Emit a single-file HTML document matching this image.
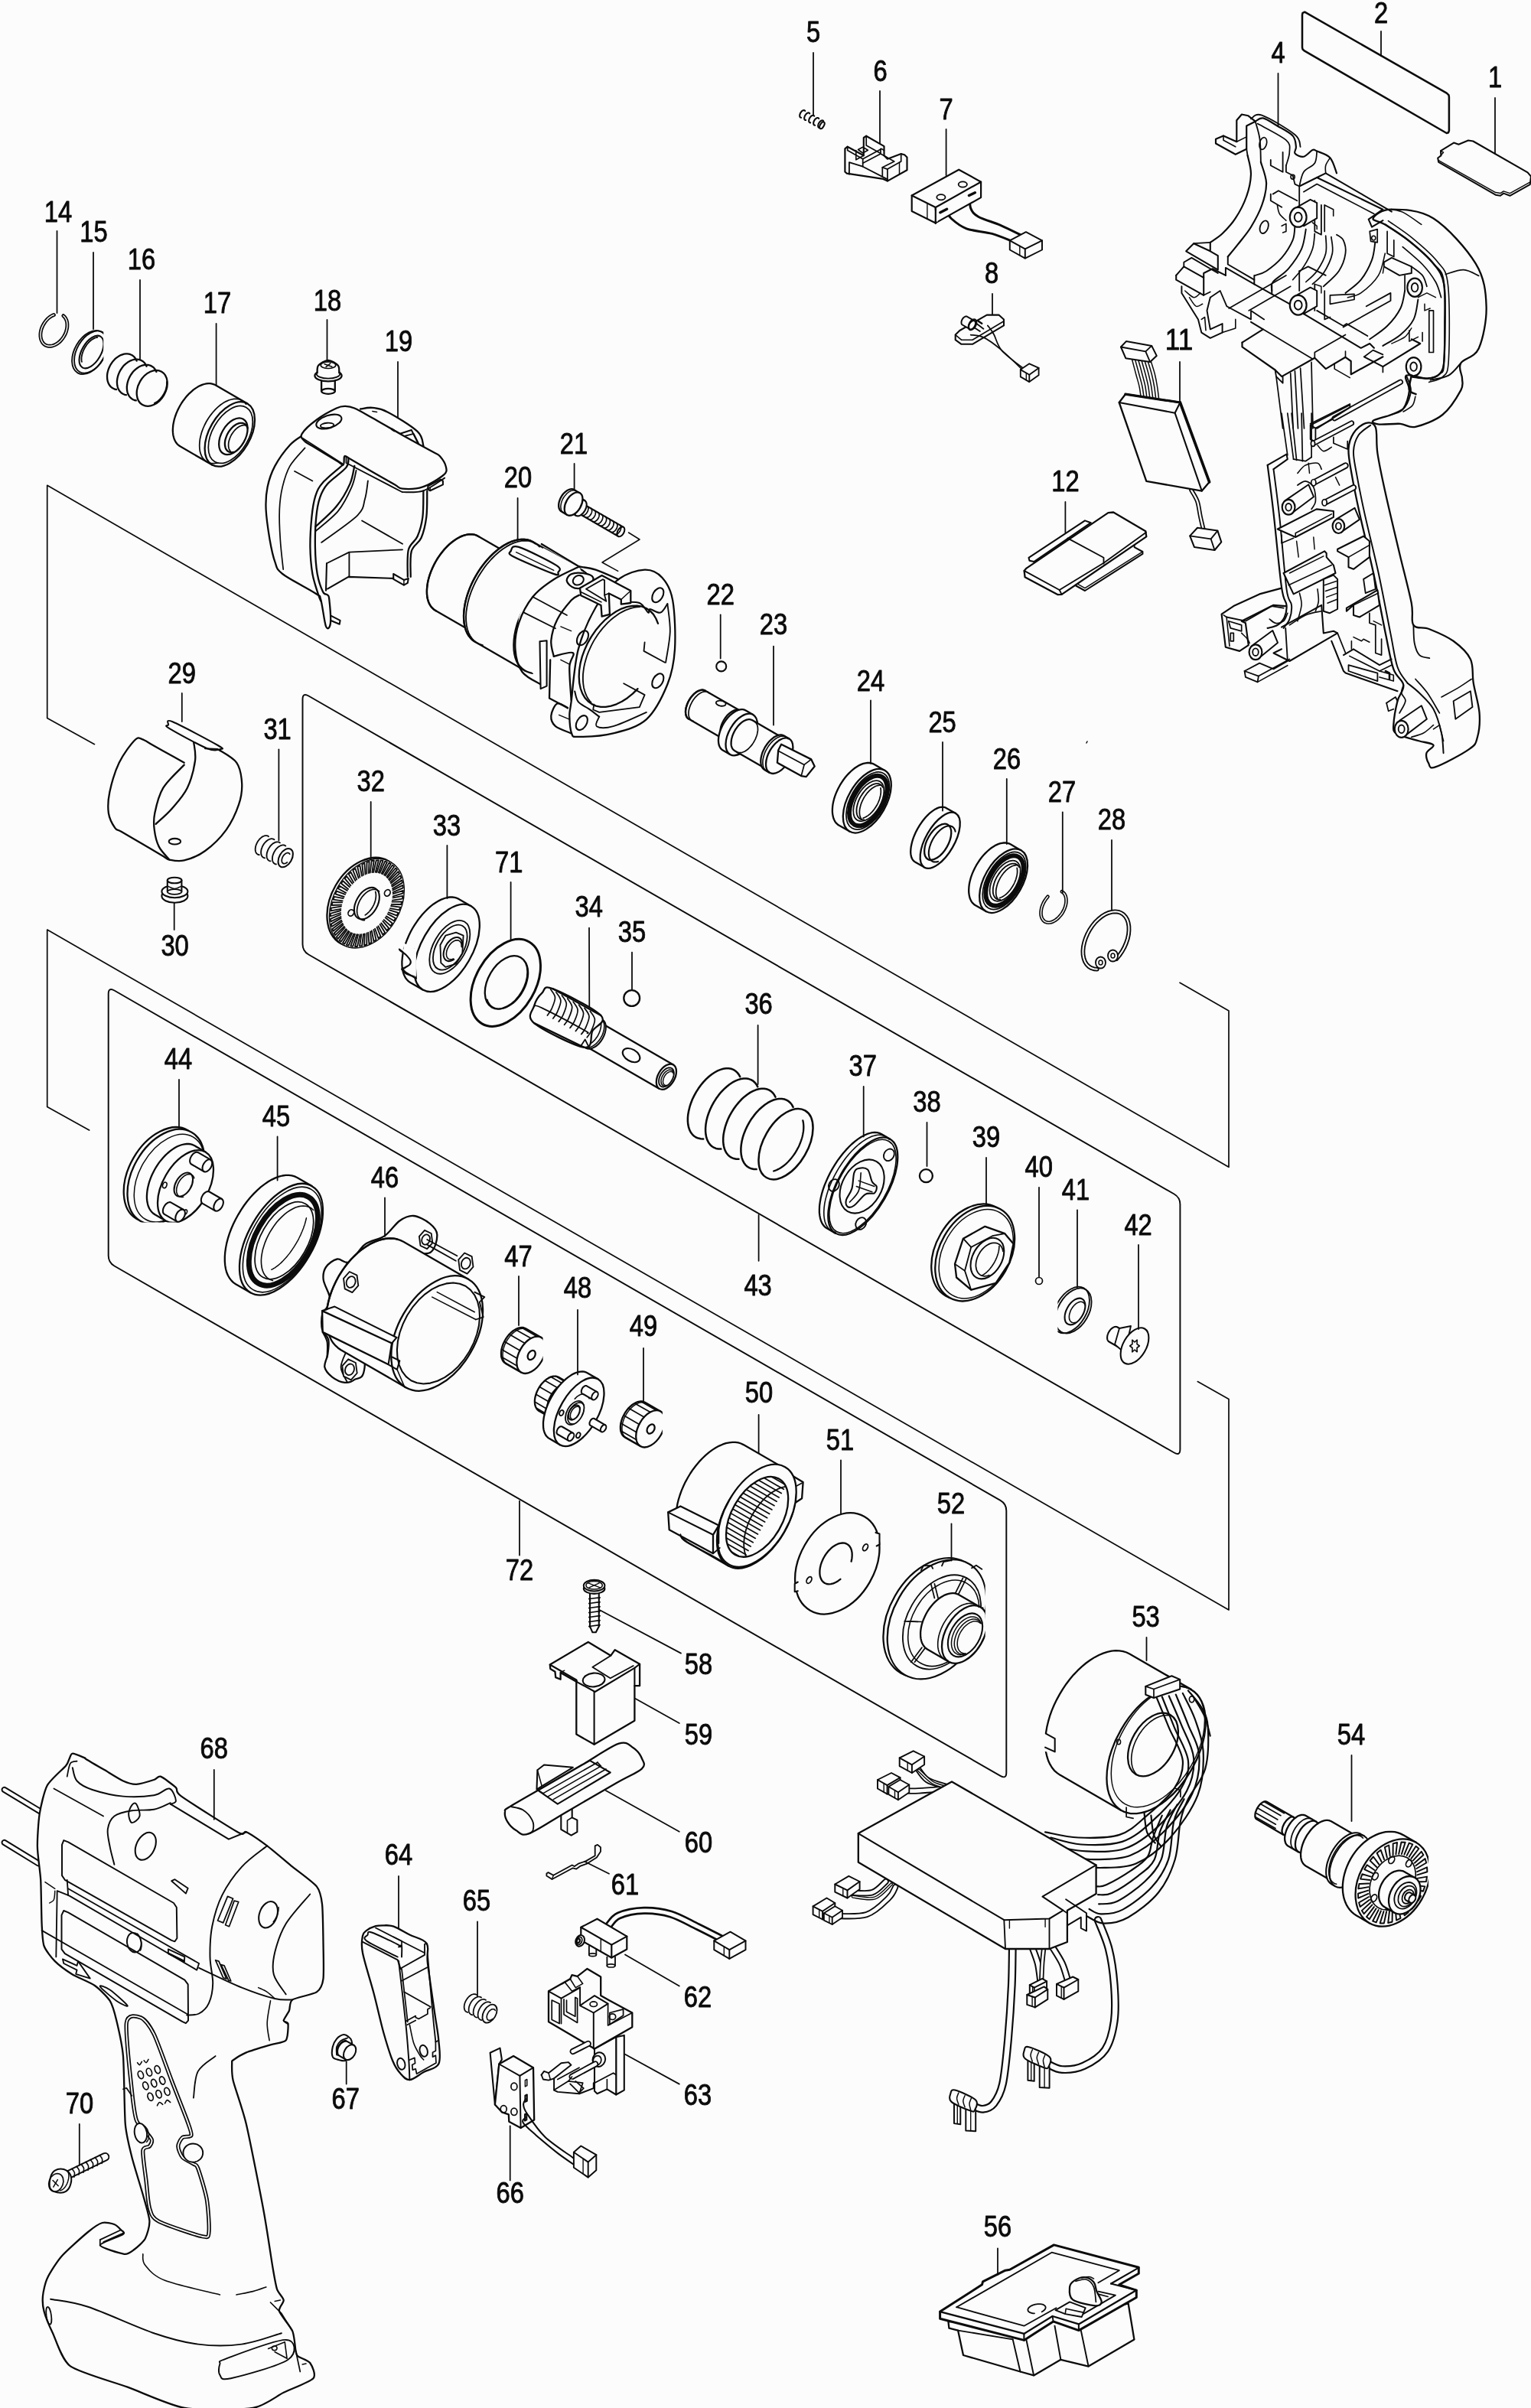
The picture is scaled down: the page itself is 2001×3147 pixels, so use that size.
<!DOCTYPE html>
<html><head><meta charset="utf-8"><title>Exploded parts diagram</title>
<style>
html,body{margin:0;padding:0;background:#fcfcfc;}
svg{display:block}
svg *{stroke:#0b0b0b;stroke-linecap:round;stroke-linejoin:round}
svg text{font-family:"Liberation Sans","DejaVu Sans",sans-serif;font-size:38.5px;fill:#0b0b0b;stroke:#0b0b0b;stroke-width:0.9px}
</style></head><body>
<svg width="2001" height="3147" viewBox="0 0 2001 3147">
<rect x="0" y="0" width="2001" height="3147" fill="#fcfcfc" style="stroke:none"/>
<path d="M123.5,972.7 L61.7,938.4 L61.7,634.3 L1606.0,1525.3 L1606.0,1321.0 L1542.0,1284.3" stroke-width="1.7249999999999999" fill="none" />
<path d="M116.6,1477.0 L61.7,1446.6 L61.7,1215.0 L1606.0,2104.0 L1606.0,1828.4 L1565.3,1805.6" stroke-width="1.7249999999999999" fill="none" />
<path d="M395.5,914 Q395.5,905 403.3,909.5 L1534.6,1560.5 Q1542.4,1565.0 1542.4,1574.0 L1542.4,1894.0 Q1542.4,1903.0 1534.6,1898.5 L403.3,1247.5 Q395.5,1243 395.5,1234 Z" stroke-width="1.9549999999999998" fill="none" />
<path d="M141.7,1299 Q141.7,1290 149.5,1294.5 L1307.5,1960.9 Q1315.3,1965.4 1315.3,1974.4 L1315.3,2316.4 Q1315.3,2325.4 1307.5,2320.9 L149.5,1654.5 Q141.7,1650 141.7,1641 Z" stroke-width="1.9549999999999998" fill="none" />
<path d="M821.5,696.0 L836.0,705.0 L787.0,735.0 L807.7,746.3" stroke-width="1.4949999999999999" fill="none" />
<line x1="1420.0" y1="971.0" x2="1421.0" y2="969.0" stroke-width="1.4949999999999999"/>
<clipPath id="c54"><rect x="1620" y="2330" width="247" height="200"/></clipPath>
<g clip-path="url(#c54)">
<path d="M1642.5,2377.6 L1642.0,2377.3 L1641.6,2376.9 L1641.2,2376.4 L1640.9,2375.8 L1640.7,2375.1 L1640.5,2374.4 L1640.4,2373.6 L1640.4,2372.8 L1640.4,2371.9 L1640.5,2371.0 L1640.6,2370.0 L1640.8,2369.0 L1641.1,2368.0 L1641.5,2367.0 L1641.9,2365.9 L1642.3,2364.9 L1642.8,2363.9 L1643.4,2362.8 L1644.0,2361.9 L1644.6,2360.9 L1645.3,2360.0 L1646.0,2359.1 L1646.7,2358.3 L1647.4,2357.6 L1648.2,2356.9 L1649.0,2356.3 L1649.7,2355.7 L1650.5,2355.3 L1651.2,2354.9 L1652.0,2354.6 L1652.7,2354.4 L1653.4,2354.3 L1654.0,2354.2 L1654.6,2354.3 L1655.2,2354.5 L1655.7,2354.7 L1690.8,2375.0 L1677.6,2397.9 Z" stroke-width="2.3" fill="#fcfcfc" />
<ellipse cx="1684.2" cy="2386.4" rx="6.6" ry="13.2" stroke-width="2.3" fill="#fcfcfc" transform="rotate(30 1684.2 2386.4)" />
<line x1="1640.5" y1="2374.4" x2="1667.0" y2="2389.6" stroke-width="1.7249999999999999"/>
<line x1="1640.8" y1="2369.0" x2="1667.3" y2="2384.2" stroke-width="1.7249999999999999"/>
<line x1="1643.4" y1="2362.8" x2="1669.8" y2="2378.0" stroke-width="1.7249999999999999"/>
<line x1="1647.4" y1="2357.6" x2="1673.9" y2="2372.7" stroke-width="1.7249999999999999"/>
<line x1="1652.0" y1="2354.6" x2="1678.4" y2="2369.7" stroke-width="1.7249999999999999"/>
<path d="M1683.5,2412.5 L1682.6,2411.8 L1681.8,2411.1 L1681.1,2410.2 L1680.4,2409.1 L1680.0,2407.9 L1679.6,2406.7 L1679.3,2405.3 L1679.2,2403.8 L1679.1,2402.2 L1679.2,2400.5 L1679.4,2398.8 L1679.8,2397.1 L1680.2,2395.3 L1680.8,2393.5 L1681.4,2391.7 L1682.2,2389.8 L1683.1,2388.1 L1684.0,2386.3 L1685.1,2384.6 L1686.2,2383.0 L1687.4,2381.4 L1688.6,2379.9 L1689.9,2378.5 L1691.2,2377.2 L1692.6,2376.1 L1694.0,2375.0 L1695.3,2374.1 L1696.7,2373.3 L1698.1,2372.7 L1699.4,2372.3 L1700.7,2371.9 L1702.0,2371.8 L1703.2,2371.8 L1704.3,2372.0 L1705.4,2372.3 L1706.4,2372.8 L1720.2,2380.7 L1697.2,2420.4 Z" stroke-width="2.3" fill="#fcfcfc" />
<ellipse cx="1708.7" cy="2400.5" rx="12.6" ry="22.9" stroke-width="2.3" fill="#fcfcfc" transform="rotate(30 1708.7 2400.5)" />
<path d="M1693.5,2417.7 L1692.3,2417.3 L1691.2,2416.7 L1690.2,2416.0 L1689.4,2415.1 L1688.6,2414.0 L1688.0,2412.8 L1687.6,2411.4 L1687.3,2409.8 L1687.1,2408.2 L1687.1,2406.4 L1687.2,2404.6 L1687.5,2402.7 L1687.9,2400.7 L1688.4,2398.7 L1689.1,2396.7 L1690.0,2394.7 L1690.9,2392.7 L1692.0,2390.7 L1693.1,2388.8 L1694.4,2387.0 L1695.7,2385.3 L1697.1,2383.7 L1698.6,2382.2 L1700.1,2380.8 L1701.6,2379.6 L1703.1,2378.6 L1704.7,2377.8 L1706.2,2377.1 L1707.7,2376.6 L1709.1,2376.3 L1710.5,2376.2 L1711.8,2376.3 L1713.0,2376.6 L1714.1,2377.0 L1715.2,2377.7 L1716.1,2378.6" stroke-width="1.7249999999999999" fill="none" />
<path d="M1706.4,2438.4 L1705.1,2437.5 L1703.9,2436.3 L1702.9,2435.0 L1702.0,2433.5 L1701.2,2431.8 L1700.7,2429.9 L1700.3,2427.9 L1700.1,2425.7 L1700.0,2423.4 L1700.2,2421.0 L1700.5,2418.5 L1701.0,2415.9 L1701.6,2413.3 L1702.4,2410.6 L1703.4,2408.0 L1704.5,2405.3 L1705.8,2402.7 L1707.2,2400.1 L1708.7,2397.7 L1710.4,2395.3 L1712.1,2393.0 L1713.9,2390.8 L1715.8,2388.7 L1717.7,2386.9 L1719.7,2385.2 L1721.7,2383.7 L1723.7,2382.3 L1725.7,2381.2 L1727.7,2380.3 L1729.7,2379.6 L1731.6,2379.2 L1733.5,2378.9 L1735.2,2378.9 L1736.9,2379.2 L1738.5,2379.7 L1739.9,2380.3 L1779.6,2403.3 L1746.1,2461.3 Z" stroke-width="2.3" fill="#fcfcfc" />
<ellipse cx="1762.9" cy="2432.3" rx="18.4" ry="33.5" stroke-width="2.3" fill="#fcfcfc" transform="rotate(30 1762.9 2432.3)" />
<path d="M1740.4,2462.5 L1738.9,2461.5 L1737.5,2460.2 L1736.3,2458.7 L1735.3,2456.9 L1734.5,2455.0 L1733.9,2452.9 L1733.4,2450.6 L1733.2,2448.1 L1733.2,2445.5 L1733.3,2442.8 L1733.7,2439.9 L1734.2,2437.0 L1734.9,2434.1 L1735.9,2431.1 L1737.0,2428.1 L1738.3,2425.1 L1739.7,2422.1 L1741.3,2419.2 L1743.0,2416.4 L1744.8,2413.7 L1746.8,2411.1 L1748.8,2408.6 L1751.0,2406.3 L1753.2,2404.2 L1755.4,2402.3 L1757.7,2400.6 L1760.0,2399.1 L1762.2,2397.8 L1764.5,2396.8 L1766.7,2396.0 L1768.9,2395.5 L1771.0,2395.2 L1773.0,2395.2 L1774.9,2395.5 L1776.6,2396.0 L1778.3,2396.8 L1782.9,2399.5 L1745.0,2465.1 Z" stroke-width="2.07" fill="#fcfcfc" />
<ellipse cx="1763.9" cy="2432.3" rx="20.9" ry="37.9" stroke-width="2.07" fill="#fcfcfc" transform="rotate(30 1763.9 2432.3)" />
<path d="M1746.6,2462.3 L1744.8,2461.7 L1743.1,2460.9 L1741.6,2459.7 L1740.3,2458.3 L1739.2,2456.7 L1738.2,2454.7 L1737.5,2452.6 L1737.0,2450.2 L1736.8,2447.7 L1736.7,2445.0 L1736.9,2442.2 L1737.4,2439.2 L1738.0,2436.2 L1738.9,2433.1 L1739.9,2430.0 L1741.2,2426.9 L1742.7,2423.8 L1744.3,2420.8 L1746.1,2417.9 L1748.0,2415.1 L1750.1,2412.5 L1752.2,2410.0 L1754.4,2407.7 L1756.7,2405.6 L1759.1,2403.8 L1761.4,2402.2 L1763.8,2400.9 L1766.1,2399.9 L1768.4,2399.1 L1770.6,2398.6 L1772.8,2398.5 L1774.8,2398.6 L1776.7,2399.1 L1778.4,2399.8 L1780.0,2400.8 L1781.4,2402.1" stroke-width="1.6099999999999999" fill="none" />
<path d="M1773.0,2503.5 L1769.8,2501.4 L1766.9,2498.9 L1764.2,2496.0 L1761.9,2492.8 L1759.8,2489.3 L1758.1,2485.5 L1756.7,2481.4 L1755.7,2477.1 L1755.1,2472.6 L1754.8,2467.9 L1754.9,2463.1 L1755.4,2458.2 L1756.2,2453.2 L1757.4,2448.3 L1758.9,2443.3 L1760.8,2438.4 L1763.0,2433.6 L1765.5,2428.9 L1768.3,2424.4 L1771.3,2420.1 L1774.6,2416.0 L1778.2,2412.2 L1781.9,2408.7 L1785.8,2405.5 L1789.8,2402.6 L1793.9,2400.2 L1798.1,2398.1 L1802.3,2396.4 L1806.6,2395.1 L1810.8,2394.2 L1815.0,2393.8 L1819.0,2393.8 L1823.0,2394.2 L1826.8,2395.1 L1830.4,2396.4 L1833.8,2398.1 L1850.6,2407.8 L1789.8,2513.2 Z" stroke-width="2.3" fill="#fcfcfc" />
<ellipse cx="1820.2" cy="2460.5" rx="43.8" ry="60.8" stroke-width="2.3" fill="#fcfcfc" transform="rotate(30 1820.2 2460.5)" />
<path d="M1846.4,2472.9 L1857.1,2477.9 L1853.7,2483.8 L1844.0,2477.0" stroke-width="1.9549999999999998" fill="none" />
<path d="M1841.2,2481.0 L1849.8,2489.4 L1845.5,2494.5 L1838.1,2484.6" stroke-width="1.9549999999999998" fill="none" />
<path d="M1834.8,2488.0 L1840.7,2499.2 L1835.8,2503.3 L1831.2,2490.9" stroke-width="1.9549999999999998" fill="none" />
<path d="M1827.5,2493.3 L1830.5,2506.8 L1825.1,2509.6 L1823.7,2495.3" stroke-width="1.9549999999999998" fill="none" />
<path d="M1819.8,2496.8 L1819.6,2511.7 L1814.2,2513.0 L1816.0,2497.8" stroke-width="1.9549999999999998" fill="none" />
<path d="M1812.1,2498.2 L1808.8,2513.6 L1803.7,2513.4 L1808.5,2498.0" stroke-width="1.9549999999999998" fill="none" />
<path d="M1804.9,2497.3 L1798.7,2512.4 L1794.1,2510.7 L1801.7,2496.1" stroke-width="1.9549999999999998" fill="none" />
<path d="M1798.6,2494.3 L1789.8,2508.2 L1786.0,2505.1 L1795.9,2492.1" stroke-width="1.9549999999999998" fill="none" />
<path d="M1793.5,2489.4 L1782.7,2501.2 L1779.9,2496.9 L1791.6,2486.3" stroke-width="1.9549999999999998" fill="none" />
<path d="M1790.0,2482.8 L1777.7,2491.9 L1776.1,2486.5 L1788.9,2479.0" stroke-width="1.9549999999999998" fill="none" />
<path d="M1788.3,2474.9 L1775.2,2480.7 L1775.0,2474.7 L1788.1,2470.6" stroke-width="1.9549999999999998" fill="none" />
<path d="M1788.4,2466.1 L1775.3,2468.4 L1776.4,2462.1 L1789.1,2461.6" stroke-width="1.9549999999999998" fill="none" />
<path d="M1790.3,2457.0 L1778.1,2455.6 L1780.4,2449.3 L1791.9,2452.6" stroke-width="1.9549999999999998" fill="none" />
<path d="M1794.0,2448.2 L1783.3,2443.1 L1786.7,2437.2 L1796.4,2444.0" stroke-width="1.9549999999999998" fill="none" />
<path d="M1799.2,2440.0 L1790.6,2431.6 L1794.9,2426.5 L1802.2,2436.4" stroke-width="1.9549999999999998" fill="none" />
<path d="M1805.6,2433.0 L1799.6,2421.8 L1804.6,2417.7 L1809.1,2430.2" stroke-width="1.9549999999999998" fill="none" />
<path d="M1812.9,2427.7 L1809.9,2414.2 L1815.2,2411.5 L1816.7,2425.7" stroke-width="1.9549999999999998" fill="none" />
<path d="M1820.6,2424.2 L1820.7,2409.4 L1826.1,2408.0 L1824.4,2423.3" stroke-width="1.9549999999999998" fill="none" />
<path d="M1828.2,2422.9 L1831.5,2407.5 L1836.7,2407.7 L1831.9,2423.0" stroke-width="1.9549999999999998" fill="none" />
<path d="M1835.4,2423.7 L1841.7,2408.6 L1846.3,2410.4 L1838.7,2424.9" stroke-width="1.9549999999999998" fill="none" />
<path d="M1841.7,2426.7 L1850.6,2412.8 L1854.4,2416.0 L1844.4,2428.9" stroke-width="1.9549999999999998" fill="none" />
<path d="M1846.8,2431.6 L1857.7,2419.8 L1860.4,2424.2 L1848.8,2434.7" stroke-width="1.9549999999999998" fill="none" />
<path d="M1850.3,2438.2 L1862.6,2429.1 L1864.2,2434.5 L1851.4,2442.0" stroke-width="1.9549999999999998" fill="none" />
<path d="M1852.1,2446.2 L1865.1,2440.3 L1865.4,2446.3 L1852.3,2450.4" stroke-width="1.9549999999999998" fill="none" />
<path d="M1852.0,2454.9 L1865.0,2452.6 L1864.0,2459.0 L1851.3,2459.4" stroke-width="1.9549999999999998" fill="none" />
<path d="M1850.1,2464.0 L1862.3,2465.4 L1860.0,2471.7 L1848.4,2468.4" stroke-width="1.9549999999999998" fill="none" />
<ellipse cx="1820.2" cy="2460.5" rx="27.2" ry="37.7" stroke-width="1.7249999999999999" fill="none" transform="rotate(30 1820.2 2460.5)" />
<ellipse cx="1838.9" cy="2475.9" rx="3.5" ry="5.0" stroke-width="1.7249999999999999" fill="none" transform="rotate(30 1838.9 2475.9)" />
<ellipse cx="1815.1" cy="2491.8" rx="3.5" ry="5.0" stroke-width="1.7249999999999999" fill="none" transform="rotate(30 1815.1 2491.8)" />
<ellipse cx="1795.7" cy="2480.6" rx="3.5" ry="5.0" stroke-width="1.7249999999999999" fill="none" transform="rotate(30 1795.7 2480.6)" />
<ellipse cx="1797.4" cy="2452.1" rx="3.5" ry="5.0" stroke-width="1.7249999999999999" fill="none" transform="rotate(30 1797.4 2452.1)" />
<ellipse cx="1818.8" cy="2430.8" rx="3.5" ry="5.0" stroke-width="1.7249999999999999" fill="none" transform="rotate(30 1818.8 2430.8)" />
<ellipse cx="1841.4" cy="2435.2" rx="3.5" ry="5.0" stroke-width="1.7249999999999999" fill="none" transform="rotate(30 1841.4 2435.2)" />
<ellipse cx="1845.6" cy="2461.5" rx="3.5" ry="5.0" stroke-width="1.7249999999999999" fill="none" transform="rotate(30 1845.6 2461.5)" />
<path d="M1809.6,2492.2 L1808.2,2491.3 L1807.0,2490.3 L1805.9,2489.1 L1804.9,2487.7 L1804.1,2486.2 L1803.3,2484.5 L1802.8,2482.8 L1802.4,2480.9 L1802.1,2479.0 L1802.0,2477.0 L1802.1,2474.9 L1802.3,2472.8 L1802.7,2470.6 L1803.2,2468.5 L1803.9,2466.3 L1804.7,2464.2 L1805.7,2462.1 L1806.8,2460.1 L1808.0,2458.1 L1809.3,2456.2 L1810.8,2454.5 L1812.3,2452.8 L1813.9,2451.3 L1815.5,2449.9 L1817.3,2448.6 L1819.0,2447.5 L1820.8,2446.6 L1822.6,2445.8 L1824.5,2445.3 L1826.3,2444.9 L1828.0,2444.7 L1829.8,2444.6 L1831.4,2444.8 L1833.1,2445.2 L1834.6,2445.7 L1836.0,2446.4 L1849.0,2453.9 L1822.6,2499.7 Z" stroke-width="2.3" fill="#fcfcfc" />
<ellipse cx="1835.8" cy="2476.8" rx="18.5" ry="26.5" stroke-width="2.3" fill="#fcfcfc" transform="rotate(30 1835.8 2476.8)" />
<ellipse cx="1836.9" cy="2477.3" rx="13.0" ry="18.5" stroke-width="1.8399999999999999" fill="none" transform="rotate(30 1836.9 2477.3)" />
<ellipse cx="1838.7" cy="2478.1" rx="10.1" ry="14.5" stroke-width="1.7249999999999999" fill="none" transform="rotate(30 1838.7 2478.1)" />
<ellipse cx="1840.1" cy="2478.7" rx="6.8" ry="9.7" stroke-width="1.8399999999999999" fill="none" transform="rotate(30 1840.1 2478.7)" />
<path d="M1837.6,2483.4 L1837.3,2483.2 L1837.1,2483.0 L1836.8,2482.7 L1836.6,2482.4 L1836.5,2482.1 L1836.3,2481.7 L1836.2,2481.4 L1836.1,2481.0 L1836.0,2480.6 L1836.0,2480.1 L1836.0,2479.7 L1836.1,2479.2 L1836.2,2478.8 L1836.3,2478.3 L1836.4,2477.9 L1836.6,2477.4 L1836.8,2477.0 L1837.0,2476.5 L1837.3,2476.1 L1837.6,2475.7 L1837.9,2475.3 L1838.2,2475.0 L1838.6,2474.6 L1838.9,2474.3 L1839.3,2474.1 L1839.7,2473.8 L1840.0,2473.6 L1840.4,2473.5 L1840.8,2473.4 L1841.2,2473.3 L1841.6,2473.2 L1841.9,2473.2 L1842.3,2473.3 L1842.6,2473.3 L1843.0,2473.5 L1843.3,2473.6 L1848.6,2476.7 L1843.0,2486.5 Z" stroke-width="2.07" fill="#fcfcfc" />
<ellipse cx="1845.8" cy="2481.6" rx="4.0" ry="5.6" stroke-width="2.07" fill="#fcfcfc" transform="rotate(30 1845.8 2481.6)" />
</g>
<path d="M1239.4,3033.9 L1240.4,3042.7 L1252.1,3045.6 L1259.0,3078.0 L1333.5,3099.5 L1351.1,3104.4 L1386.4,3083.8 L1422.6,3092.6 L1482.4,3057.4 L1474.6,3010.3 L1406.0,3028.0 L1327.6,3039.7 Z" stroke-width="2.3" fill="#fcfcfc" />
<line x1="1252.1" y1="3045.6" x2="1323.7" y2="3057.4" stroke-width="1.9549999999999998"/>
<line x1="1323.7" y1="3057.4" x2="1333.5" y2="3099.5" stroke-width="1.9549999999999998"/>
<line x1="1341.3" y1="3057.4" x2="1351.1" y2="3104.4" stroke-width="1.9549999999999998"/>
<line x1="1378.5" y1="3039.7" x2="1386.4" y2="3083.8" stroke-width="1.9549999999999998"/>
<line x1="1412.8" y1="3045.6" x2="1422.6" y2="3092.6" stroke-width="1.9549999999999998"/>
<path d="M1228.6,3021.1 L1283.5,2985.8 L1284.5,2981.9 L1313.9,2967.2 L1319.7,2966.3 L1377.5,2933.9 L1488.3,2963.3 L1488.3,2971.2 L1462.8,2985.8 L1485.3,2993.1 L1485.3,3002.5 L1409.9,3045.6 L1376.6,3033.9 L1338.4,3058.4 L1228.6,3030.3 Z" stroke-width="2.9899999999999998" fill="#fcfcfc" />
<path d="M1228.6,3021.1 L1338.4,3049.9 L1375.6,3027.0 L1409.9,3037.4 L1485.3,2993.1" stroke-width="2.3" fill="none" />
<line x1="1338.4" y1="3049.9" x2="1338.4" y2="3058.4" stroke-width="2.07"/>
<line x1="1409.9" y1="3037.4" x2="1409.9" y2="3045.6" stroke-width="2.07"/>
<line x1="1375.6" y1="3027.0" x2="1376.6" y2="3033.9" stroke-width="1.8399999999999999"/>
<path d="M1452.0,2984.5 L1488.3,2963.7" stroke-width="2.07" fill="none" />
<path d="M1452.0,2984.5 L1485.3,2993.1" stroke-width="2.07" fill="none" />
<path d="M1250.2,3015.2 L1374.6,2943.7 L1462.8,2967.2 L1435.4,2983.3" stroke-width="1.8399999999999999" fill="none" />
<path d="M1250.2,3015.2 L1338.4,3039.7 L1380.5,3016.2" stroke-width="1.8399999999999999" fill="none" />
<path d="M1379.5,3019.2 L1398.1,3008.4 L1418.7,3016.2 L1413.8,3028.0 L1392.2,3024.1 Z" stroke-width="1.9549999999999998" fill="none" />
<path d="M1392.2,3024.1 L1393.2,3017.2 L1415.8,3022.1" stroke-width="1.6099999999999999" fill="none" />
<path d="M1435.4,2994.7 L1457.9,2999.6 L1415.8,3024.1" stroke-width="1.8399999999999999" fill="none" />
<path d="M1433.4,2997.6 L1448.1,3001.5" stroke-width="1.6099999999999999" fill="none" />
<path d="M1398.1,2988.8 C1398.5,2984.6 1400.7,2982.7 1404.0,2980.6 C1407.3,2978.4 1413.5,2975.7 1417.7,2976.1 C1422.0,2976.4 1426.9,2979.4 1429.5,2982.5 C1432.1,2985.6 1431.7,2990.4 1433.4,2994.7 C1435.1,2999.0 1440.0,3005.3 1439.7,3008.4 C1439.3,3011.5 1437.7,3013.8 1431.4,3013.3 C1425.2,3012.8 1407.6,3009.5 1402.0,3005.4 C1396.5,3001.4 1397.8,2992.9 1398.1,2988.8 Z" stroke-width="2.3" fill="#fcfcfc" />
<path d="M1406.0,2981.3 C1408.2,2981.0 1415.8,2977.7 1419.7,2979.0 C1423.6,2980.2 1427.4,2983.9 1429.5,2988.8 C1431.6,2993.7 1431.9,3005.1 1432.4,3008.4" stroke-width="1.7249999999999999" fill="none" />
<path d="M1413.8,2977.0 C1415.4,2976.8 1421.0,2975.3 1423.6,2975.5 C1426.2,2975.6 1428.5,2977.6 1429.5,2978.0" stroke-width="1.6099999999999999" fill="none" />
<path d="M1352.0,3023.3 L1350.4,3023.3 L1348.8,3023.0 L1347.4,3022.7 L1346.2,3022.2 L1345.2,3021.6 L1344.3,3021.0 L1343.8,3020.2 L1343.5,3019.4 L1343.4,3018.5 L1343.6,3017.6 L1344.1,3016.6 L1344.8,3015.7 L1345.7,3014.9 L1346.9,3014.0 L1348.2,3013.3 L1349.7,3012.6 L1351.3,3012.1 L1353.0,3011.6 L1354.7,3011.3 L1356.5,3011.1 L1358.2,3011.1 L1359.8,3011.2 L1361.3,3011.4 L1362.7,3011.7 L1363.9,3012.2 L1365.0,3012.8 L1365.7,3013.5 L1366.3,3014.3 L1366.6,3015.1 L1366.6,3016.0 L1366.4,3016.9 L1365.9,3017.9 L1365.2,3018.8 L1364.2,3019.6 L1363.0,3020.5 L1361.7,3021.2" stroke-width="1.8399999999999999" fill="none" />
<path d="M1323.4,2535.3 C1323.2,2545.1 1323.2,2572.5 1322.3,2594.1 C1321.3,2615.6 1319.5,2643.0 1317.6,2664.6 C1315.6,2686.1 1313.6,2709.3 1310.5,2723.4 C1307.4,2737.5 1303.1,2743.7 1298.8,2749.2 C1294.4,2754.7 1289.3,2755.9 1284.6,2756.3 C1279.9,2756.7 1272.9,2752.4 1270.5,2751.6" stroke-width="10.82775" fill="none"/>
<path d="M1323.4,2535.3 C1323.2,2545.1 1323.2,2572.5 1322.3,2594.1 C1321.3,2615.6 1319.5,2643.0 1317.6,2664.6 C1315.6,2686.1 1313.6,2709.3 1310.5,2723.4 C1307.4,2737.5 1303.1,2743.7 1298.8,2749.2 C1294.4,2754.7 1289.3,2755.9 1284.6,2756.3 C1279.9,2756.7 1272.9,2752.4 1270.5,2751.6" stroke-width="6.46" fill="none" style="stroke:#fcfcfc"/>
<path d="M1435.1,2509.4 C1437.5,2515.7 1445.7,2532.9 1449.2,2547.0 C1452.8,2561.1 1455.1,2578.4 1456.3,2594.1 C1457.5,2609.7 1458.2,2627.0 1456.3,2641.1 C1454.3,2655.2 1451.2,2668.9 1444.5,2678.7 C1437.9,2688.5 1425.7,2695.5 1416.3,2699.9 C1406.9,2704.2 1395.9,2705.0 1388.1,2704.6 C1380.3,2704.2 1372.4,2698.7 1369.3,2697.5" stroke-width="10.82775" fill="none"/>
<path d="M1435.1,2509.4 C1437.5,2515.7 1445.7,2532.9 1449.2,2547.0 C1452.8,2561.1 1455.1,2578.4 1456.3,2594.1 C1457.5,2609.7 1458.2,2627.0 1456.3,2641.1 C1454.3,2655.2 1451.2,2668.9 1444.5,2678.7 C1437.9,2688.5 1425.7,2695.5 1416.3,2699.9 C1406.9,2704.2 1395.9,2705.0 1388.1,2704.6 C1380.3,2704.2 1372.4,2698.7 1369.3,2697.5" stroke-width="6.46" fill="none" style="stroke:#fcfcfc"/>
<path d="M1247.0,2748.1 L1247.0,2775.1 L1255.3,2776.3 L1255.3,2752.8" stroke-width="1.9549999999999998" fill="#fcfcfc" />
<path d="M1262.3,2755.1 L1262.3,2784.5 L1275.2,2785.2 L1275.2,2757.5" stroke-width="1.9549999999999998" fill="#fcfcfc" />
<line x1="1251.3" y1="2750.4" x2="1251.3" y2="2775.1" stroke-width="1.38"/>
<line x1="1268.7" y1="2757.5" x2="1268.7" y2="2784.7" stroke-width="1.38"/>
<path d="M1242.3,2736.3 C1243.1,2733.8 1242.7,2730.2 1248.2,2731.6 C1253.7,2733.0 1270.9,2740.2 1275.2,2744.5 C1279.6,2748.8 1275.2,2755.1 1274.1,2757.5 C1272.9,2759.8 1273.3,2760.4 1268.2,2758.6 C1263.1,2756.9 1247.8,2750.6 1243.5,2746.9 C1239.2,2743.2 1241.5,2738.9 1242.3,2736.3 Z" stroke-width="2.07" fill="#fcfcfc" />
<path d="M1252.9,2735.1 C1252.5,2736.3 1250.6,2739.6 1250.6,2742.2 C1250.6,2744.7 1252.5,2749.0 1252.9,2750.4" stroke-width="1.4949999999999999" fill="none" />
<path d="M1261.1,2738.7 C1260.7,2739.8 1258.8,2743.2 1258.8,2745.7 C1258.8,2748.3 1260.7,2752.6 1261.1,2753.9" stroke-width="1.4949999999999999" fill="none" />
<path d="M1269.4,2742.2 C1269.0,2743.4 1267.1,2746.7 1267.0,2749.2 C1266.9,2751.8 1268.4,2756.1 1268.7,2757.5" stroke-width="1.4949999999999999" fill="none" />
<path d="M1343.4,2691.6 L1343.4,2718.7 L1351.7,2719.8 L1351.7,2696.3" stroke-width="1.9549999999999998" fill="#fcfcfc" />
<path d="M1358.7,2698.7 L1358.7,2728.1 L1371.6,2728.8 L1371.6,2701.0" stroke-width="1.9549999999999998" fill="#fcfcfc" />
<line x1="1347.7" y1="2694.0" x2="1347.7" y2="2718.7" stroke-width="1.38"/>
<line x1="1365.1" y1="2701.0" x2="1365.1" y2="2728.3" stroke-width="1.38"/>
<path d="M1338.7,2679.9 C1339.5,2677.3 1339.1,2673.8 1344.6,2675.2 C1350.1,2676.5 1367.3,2683.8 1371.6,2688.1 C1376.0,2692.4 1371.6,2698.7 1370.5,2701.0 C1369.3,2703.4 1369.7,2704.0 1364.6,2702.2 C1359.5,2700.4 1344.2,2694.2 1339.9,2690.5 C1335.6,2686.7 1337.9,2682.4 1338.7,2679.9 Z" stroke-width="2.07" fill="#fcfcfc" />
<path d="M1349.3,2678.7 C1348.9,2679.9 1347.0,2683.2 1347.0,2685.8 C1347.0,2688.3 1348.9,2692.6 1349.3,2694.0" stroke-width="1.4949999999999999" fill="none" />
<path d="M1357.5,2682.2 C1357.1,2683.4 1355.2,2686.7 1355.2,2689.3 C1355.2,2691.8 1357.1,2696.1 1357.5,2697.5" stroke-width="1.4949999999999999" fill="none" />
<path d="M1365.8,2685.8 C1365.4,2686.9 1363.5,2690.3 1363.4,2692.8 C1363.3,2695.4 1364.8,2699.7 1365.1,2701.0" stroke-width="1.4949999999999999" fill="none" />
<path d="M1348.1,2542.3 C1349.5,2546.2 1354.4,2558.0 1356.4,2565.8 C1358.3,2573.7 1359.3,2585.4 1359.9,2589.3" stroke-width="9.29325" fill="none"/>
<path d="M1348.1,2542.3 C1349.5,2546.2 1354.4,2558.0 1356.4,2565.8 C1358.3,2573.7 1359.3,2585.4 1359.9,2589.3" stroke-width="5.38" fill="none" style="stroke:#fcfcfc"/>
<path d="M1364.6,2542.3 C1364.2,2546.2 1362.8,2558.0 1362.2,2565.8 C1361.7,2573.7 1361.3,2585.4 1361.1,2589.3" stroke-width="6.25875" fill="none"/>
<path d="M1364.6,2542.3 C1364.2,2546.2 1362.8,2558.0 1362.2,2565.8 C1361.7,2573.7 1361.3,2585.4 1361.1,2589.3" stroke-width="2.81" fill="none" style="stroke:#fcfcfc"/>
<path d="M1374.0,2542.3 C1376.3,2546.2 1384.6,2558.4 1388.1,2565.8 C1391.6,2573.3 1394.0,2583.5 1395.2,2587.0" stroke-width="9.29325" fill="none"/>
<path d="M1374.0,2542.3 C1376.3,2546.2 1384.6,2558.4 1388.1,2565.8 C1391.6,2573.3 1394.0,2583.5 1395.2,2587.0" stroke-width="5.38" fill="none" style="stroke:#fcfcfc"/>
<path d="M1345.8,2594.1 L1362.2,2585.8 L1368.1,2589.3 L1368.1,2601.1 L1351.7,2609.3 L1345.8,2605.8 Z" stroke-width="1.9549999999999998" fill="#fcfcfc" />
<path d="M1345.8,2594.1 L1351.7,2597.6 L1368.1,2589.3" stroke-width="1.9549999999999998" fill="none" />
<line x1="1351.7" y1="2597.6" x2="1351.7" y2="2609.3" stroke-width="1.9549999999999998"/>
<line x1="1349.6" y1="2596.3" x2="1349.6" y2="2608.1" stroke-width="1.38"/>
<path d="M1342.3,2607.0 L1364.6,2596.4 L1369.3,2599.9 L1369.3,2612.9 L1352.8,2623.4 L1342.3,2619.9 Z" stroke-width="1.9549999999999998" fill="#fcfcfc" />
<path d="M1342.3,2607.0 L1352.8,2610.5 L1369.3,2599.9" stroke-width="1.9549999999999998" fill="none" />
<line x1="1352.8" y1="2610.5" x2="1352.8" y2="2623.4" stroke-width="1.9549999999999998"/>
<line x1="1349.1" y1="2609.3" x2="1349.1" y2="2622.2" stroke-width="1.38"/>
<path d="M1381.0,2592.9 L1402.2,2583.5 L1409.3,2587.0 L1409.3,2602.3 L1390.5,2612.9 L1381.0,2608.2 Z" stroke-width="1.9549999999999998" fill="#fcfcfc" />
<path d="M1381.0,2592.9 L1390.5,2597.6 L1409.3,2587.0" stroke-width="1.9549999999999998" fill="none" />
<line x1="1390.5" y1="2597.6" x2="1390.5" y2="2612.9" stroke-width="1.9549999999999998"/>
<line x1="1387.2" y1="2595.9" x2="1387.2" y2="2611.2" stroke-width="1.38"/>
<path d="M1385.2,2319.6 L1381.4,2316.9 L1377.9,2313.8 L1374.9,2310.0 L1372.3,2305.7 L1370.1,2301.0 L1368.4,2295.7 L1367.1,2290.1 L1366.4,2284.1 L1366.1,2277.7 L1366.4,2271.1 L1367.1,2264.2 L1368.3,2257.1 L1370.0,2249.9 L1372.1,2242.7 L1374.7,2235.4 L1377.7,2228.2 L1381.2,2221.1 L1385.0,2214.1 L1389.1,2207.3 L1393.6,2200.7 L1398.3,2194.5 L1403.3,2188.6 L1408.5,2183.2 L1413.9,2178.1 L1419.4,2173.5 L1425.0,2169.5 L1430.7,2165.9 L1436.3,2163.0 L1441.9,2160.6 L1447.4,2158.9 L1452.8,2157.7 L1458.0,2157.2 L1463.0,2157.4 L1467.8,2158.1 L1472.3,2159.5 L1476.4,2161.5 L1556.7,2207.8 L1465.4,2365.9 Z" stroke-width="2.3" fill="#fcfcfc" />
<ellipse cx="1511.1" cy="2286.9" rx="52.9" ry="91.2" stroke-width="2.3" fill="#fcfcfc" transform="rotate(30 1511.1 2286.9)" />
<path d="M1362.5,2265.0 L1380.5,2268.6 L1380.5,2291.9 L1362.5,2288.3 Z" fill="#fcfcfc" style="stroke:none"/>
<path d="M1366.9,2265.7 L1378.7,2272.1 L1378.7,2289.4 L1366.1,2283.6" stroke-width="2.07" fill="none" />
<ellipse cx="1513.4" cy="2282.9" rx="50.0" ry="86.2" stroke-width="1.4949999999999999" fill="none" transform="rotate(30 1513.4 2282.9)" />
<ellipse cx="1507.0" cy="2280.0" rx="27.8" ry="44.9" stroke-width="2.3" fill="none" transform="rotate(30 1507.0 2280.0)" />
<path d="M1485.3,2318.8 L1483.9,2317.1 L1482.6,2315.2 L1481.5,2313.1 L1480.5,2310.8 L1479.8,2308.4 L1479.2,2305.8 L1478.9,2303.1 L1478.7,2300.2 L1478.7,2297.3 L1479.0,2294.2 L1479.4,2291.1 L1480.0,2287.9 L1480.8,2284.7 L1481.8,2281.5 L1483.0,2278.3 L1484.3,2275.2 L1485.9,2272.1 L1487.5,2269.0 L1489.3,2266.0 L1491.3,2263.2 L1493.3,2260.4 L1495.5,2257.8 L1497.8,2255.3 L1500.2,2253.0 L1502.6,2250.9 L1505.1,2249.0 L1507.6,2247.3 L1510.1,2245.8 L1512.7,2244.5 L1515.2,2243.4 L1517.8,2242.6 L1520.3,2242.0 L1522.7,2241.7 L1525.1,2241.6 L1527.4,2241.8 L1529.6,2242.2" stroke-width="1.6099999999999999" fill="none" />
<ellipse cx="1462.1" cy="2276.5" rx="2.5" ry="3.2" stroke-width="1.4949999999999999" fill="none" />
<ellipse cx="1557.6" cy="2220.8" rx="3.2" ry="4.0" stroke-width="1.7249999999999999" fill="none" />
<path d="M1197.3,2308.1 C1199.7,2311.1 1205.1,2321.5 1211.7,2326.0 C1218.2,2330.5 1232.6,2333.5 1236.8,2335.0" stroke-width="8.276" fill="none"/>
<path d="M1197.3,2308.1 C1199.7,2311.1 1205.1,2321.5 1211.7,2326.0 C1218.2,2330.5 1232.6,2333.5 1236.8,2335.0" stroke-width="4.60" fill="none" style="stroke:#fcfcfc"/>
<path d="M1175.7,2340.4 C1179.9,2340.4 1190.7,2340.9 1200.9,2340.4 C1211.1,2339.9 1230.8,2338.0 1236.8,2337.5" stroke-width="8.276" fill="none"/>
<path d="M1175.7,2340.4 C1179.9,2340.4 1190.7,2340.9 1200.9,2340.4 C1211.1,2339.9 1230.8,2338.0 1236.8,2337.5" stroke-width="4.60" fill="none" style="stroke:#fcfcfc"/>
<path d="M1200.9,2313.5 C1203.9,2316.2 1212.3,2325.7 1218.8,2329.6 C1225.4,2333.5 1236.8,2335.6 1240.4,2336.8" stroke-width="4.207" fill="none"/>
<path d="M1200.9,2313.5 C1203.9,2316.2 1212.3,2325.7 1218.8,2329.6 C1225.4,2333.5 1236.8,2335.6 1240.4,2336.8" stroke-width="1.45" fill="none" style="stroke:#fcfcfc"/>
<path d="M1175.7,2297.3 L1193.7,2288.3 L1208.1,2295.5 L1208.1,2306.3 L1191.9,2317.0 L1175.7,2308.1 Z" stroke-width="1.9549999999999998" fill="#fcfcfc" />
<path d="M1175.7,2297.3 L1191.9,2306.3 L1208.1,2295.5" stroke-width="1.9549999999999998" fill="none" />
<line x1="1191.9" y1="2306.3" x2="1191.9" y2="2317.0" stroke-width="1.9549999999999998"/>
<line x1="1186.2" y1="2303.1" x2="1186.2" y2="2313.9" stroke-width="1.38"/>
<path d="M1147.0,2326.0 L1165.0,2317.0 L1176.5,2323.2 L1176.5,2334.7 L1159.6,2344.7 L1147.0,2337.5 Z" stroke-width="1.9549999999999998" fill="#fcfcfc" />
<path d="M1147.0,2326.0 L1159.6,2333.2 L1176.5,2323.2" stroke-width="1.9549999999999998" fill="none" />
<line x1="1159.6" y1="2333.2" x2="1159.6" y2="2344.7" stroke-width="1.9549999999999998"/>
<line x1="1155.2" y1="2330.7" x2="1155.2" y2="2342.2" stroke-width="1.38"/>
<path d="M1161.4,2335.0 L1176.5,2326.0 L1188.3,2332.5 L1188.3,2342.6 L1173.9,2352.3 L1161.4,2345.1 Z" stroke-width="1.8399999999999999" fill="#fcfcfc" />
<path d="M1161.4,2335.0 L1173.9,2342.2 L1188.3,2332.5" stroke-width="1.8399999999999999" fill="none" />
<line x1="1173.9" y1="2342.2" x2="1173.9" y2="2352.3" stroke-width="1.8399999999999999"/>
<line x1="1169.5" y1="2339.7" x2="1169.5" y2="2349.7" stroke-width="1.38"/>
<path d="M1111.1,2473.3 C1115.9,2473.3 1132.0,2475.7 1139.8,2473.3 C1147.6,2470.9 1154.8,2461.3 1157.8,2459.0" stroke-width="8.276" fill="none"/>
<path d="M1111.1,2473.3 C1115.9,2473.3 1132.0,2475.7 1139.8,2473.3 C1147.6,2470.9 1154.8,2461.3 1157.8,2459.0" stroke-width="4.60" fill="none" style="stroke:#fcfcfc"/>
<path d="M1089.5,2503.9 C1096.7,2503.6 1120.7,2506.0 1132.6,2502.1 C1144.6,2498.2 1155.1,2486.5 1161.4,2480.5 C1167.7,2474.5 1168.9,2468.5 1170.3,2466.1" stroke-width="8.276" fill="none"/>
<path d="M1089.5,2503.9 C1096.7,2503.6 1120.7,2506.0 1132.6,2502.1 C1144.6,2498.2 1155.1,2486.5 1161.4,2480.5 C1167.7,2474.5 1168.9,2468.5 1170.3,2466.1" stroke-width="4.60" fill="none" style="stroke:#fcfcfc"/>
<path d="M1114.7,2478.7 C1119.5,2479.0 1135.0,2483.2 1143.4,2480.5 C1151.8,2477.8 1161.4,2465.5 1165.0,2462.5" stroke-width="4.207" fill="none"/>
<path d="M1114.7,2478.7 C1119.5,2479.0 1135.0,2483.2 1143.4,2480.5 C1151.8,2477.8 1161.4,2465.5 1165.0,2462.5" stroke-width="1.45" fill="none" style="stroke:#fcfcfc"/>
<path d="M1091.3,2462.5 L1109.3,2451.8 L1123.6,2459.0 L1123.6,2469.0 L1107.5,2480.5 L1091.3,2472.6 Z" stroke-width="1.9549999999999998" fill="#fcfcfc" />
<path d="M1091.3,2462.5 L1107.5,2470.4 L1123.6,2459.0" stroke-width="1.9549999999999998" fill="none" />
<line x1="1107.5" y1="2470.4" x2="1107.5" y2="2480.5" stroke-width="1.9549999999999998"/>
<line x1="1101.8" y1="2467.7" x2="1101.8" y2="2477.7" stroke-width="1.38"/>
<path d="M1062.6,2491.3 L1080.5,2480.5 L1091.3,2487.0 L1091.3,2497.8 L1075.1,2508.5 L1062.6,2502.1 Z" stroke-width="1.9549999999999998" fill="#fcfcfc" />
<path d="M1062.6,2491.3 L1075.1,2497.8 L1091.3,2487.0" stroke-width="1.9549999999999998" fill="none" />
<line x1="1075.1" y1="2497.8" x2="1075.1" y2="2508.5" stroke-width="1.9549999999999998"/>
<line x1="1070.7" y1="2495.5" x2="1070.7" y2="2506.3" stroke-width="1.38"/>
<path d="M1076.9,2500.3 L1091.3,2491.3 L1101.0,2496.7 L1101.0,2506.0 L1087.7,2515.0 L1076.9,2509.6 Z" stroke-width="1.8399999999999999" fill="#fcfcfc" />
<path d="M1076.9,2500.3 L1087.7,2505.7 L1101.0,2496.7" stroke-width="1.8399999999999999" fill="none" />
<line x1="1087.7" y1="2505.7" x2="1087.7" y2="2515.0" stroke-width="1.8399999999999999"/>
<line x1="1083.9" y1="2503.8" x2="1083.9" y2="2513.1" stroke-width="1.38"/>
<path d="M1511.6,2218.3 C1514.3,2224.8 1522.1,2244.0 1527.8,2257.8 C1533.5,2271.5 1544.6,2287.7 1545.8,2300.9 C1547.0,2314.1 1542.8,2324.8 1535.0,2336.8 C1527.2,2348.8 1511.0,2362.6 1499.1,2372.7 C1487.1,2382.9 1478.1,2393.1 1463.1,2397.9 C1448.2,2402.7 1425.4,2402.1 1409.2,2401.5 C1393.1,2400.9 1373.3,2395.5 1366.1,2394.3" stroke-width="2.1849999999999996" fill="none" />
<path d="M1518.8,2217.5 C1521.5,2224.2 1529.3,2243.9 1535.0,2257.8 C1540.7,2271.7 1551.4,2287.7 1552.9,2300.9 C1554.4,2314.1 1551.7,2323.6 1544.0,2336.8 C1536.2,2350.0 1519.1,2368.2 1506.2,2379.9 C1493.4,2391.6 1482.3,2401.8 1466.7,2406.9 C1451.2,2412.0 1428.4,2411.4 1412.8,2410.5 C1397.3,2409.6 1379.9,2403.0 1373.3,2401.5" stroke-width="2.1849999999999996" fill="none" />
<path d="M1527.8,2216.5 C1530.5,2222.7 1538.6,2240.7 1544.0,2254.2 C1549.4,2267.7 1558.9,2282.9 1560.1,2297.3 C1561.3,2311.7 1558.9,2325.4 1551.1,2340.4 C1543.4,2355.4 1526.9,2374.5 1513.4,2387.1 C1500.0,2399.7 1485.9,2410.5 1470.3,2415.8 C1454.8,2421.2 1434.4,2419.7 1420.0,2419.4 C1405.7,2419.1 1390.1,2414.9 1384.1,2414.0" stroke-width="2.1849999999999996" fill="none" />
<path d="M1536.8,2214.7 C1539.5,2221.3 1547.9,2241.0 1552.9,2254.2 C1558.0,2267.4 1566.4,2278.7 1567.3,2293.7 C1568.2,2308.7 1566.1,2327.2 1558.3,2344.0 C1550.6,2360.8 1534.1,2380.8 1520.6,2394.3 C1507.1,2407.8 1492.5,2418.8 1477.5,2424.8 C1462.5,2430.8 1443.4,2429.9 1430.8,2430.2 C1418.2,2430.5 1406.9,2427.2 1402.1,2426.6" stroke-width="2.1849999999999996" fill="none" />
<path d="M1545.8,2212.9 C1548.5,2218.6 1557.4,2234.1 1561.9,2247.0 C1566.4,2259.9 1572.1,2273.6 1572.7,2290.1 C1573.3,2306.6 1572.7,2327.2 1565.5,2345.8 C1558.3,2364.4 1543.1,2386.5 1529.6,2401.5 C1516.1,2416.4 1500.0,2429.0 1484.7,2435.6 C1469.4,2442.2 1448.2,2440.7 1438.0,2441.0 C1427.8,2441.3 1426.0,2438.0 1423.6,2437.4" stroke-width="2.1849999999999996" fill="none" />
<path d="M1552.9,2209.3 C1555.9,2213.2 1566.6,2224.5 1570.9,2232.6 C1575.2,2240.7 1578.1,2244.6 1578.8,2257.8 C1579.5,2270.9 1579.5,2296.1 1575.2,2311.7 C1570.9,2327.2 1558.3,2339.8 1552.9,2351.2 C1547.6,2362.6 1545.8,2366.7 1542.9,2379.9 C1540.0,2393.1 1540.5,2414.6 1535.7,2430.2 C1530.9,2445.8 1524.3,2460.7 1514.1,2473.3 C1504.0,2485.9 1486.6,2498.9 1474.6,2505.7 C1462.7,2512.4 1451.4,2513.9 1442.3,2513.6 C1433.2,2513.3 1423.7,2505.5 1420.0,2503.9" stroke-width="2.1849999999999996" fill="none" />
<path d="M1547.6,2351.2 C1545.3,2356.0 1537.7,2366.7 1534.3,2379.9 C1530.9,2393.1 1531.9,2415.8 1527.1,2430.2 C1522.3,2444.6 1515.5,2455.2 1505.5,2466.1 C1495.6,2477.0 1478.6,2489.7 1467.4,2495.6 C1456.3,2501.5 1446.0,2501.5 1438.7,2501.3 C1431.4,2501.2 1426.1,2496.0 1423.6,2494.9" stroke-width="2.1849999999999996" fill="none" />
<path d="M1538.6,2358.4 C1536.3,2363.2 1528.4,2375.1 1524.9,2387.1 C1521.5,2399.1 1522.5,2418.2 1517.7,2430.2 C1512.9,2442.2 1505.8,2449.9 1496.2,2459.0 C1486.6,2468.1 1470.3,2479.9 1460.3,2484.8 C1450.3,2489.7 1440.2,2487.8 1436.2,2488.4" stroke-width="2.1849999999999996" fill="none" />
<path d="M1529.6,2365.5 C1527.3,2370.3 1519.4,2383.5 1515.9,2394.3 C1512.5,2405.1 1513.5,2420.6 1508.8,2430.2 C1504.0,2439.8 1496.5,2444.5 1487.2,2451.8 C1477.9,2459.1 1461.8,2470.0 1453.1,2474.0 C1444.4,2478.1 1438.1,2475.8 1435.1,2476.2" stroke-width="2.1849999999999996" fill="none" />
<path d="M1518.8,2372.7 C1516.8,2377.5 1510.1,2392.5 1507.0,2401.5 C1503.8,2410.5 1504.6,2419.4 1499.8,2426.6 C1495.0,2433.8 1487.2,2438.5 1478.2,2444.6 C1469.2,2450.7 1453.3,2459.8 1445.9,2463.3 C1438.5,2466.7 1435.7,2465.1 1433.7,2465.4" stroke-width="2.1849999999999996" fill="none" />
<path d="M1560.1,2218.3 C1562.5,2222.4 1570.9,2235.0 1574.5,2243.4 C1578.1,2251.8 1580.5,2264.4 1581.7,2268.6" stroke-width="2.1849999999999996" fill="none" />
<path d="M1495.5,2369.1 C1496.1,2373.3 1496.7,2387.7 1499.1,2394.3 C1501.5,2400.9 1508.0,2406.3 1509.8,2408.7" stroke-width="2.1849999999999996" fill="none" />
<path d="M1504.4,2372.7 C1505.0,2376.9 1505.9,2391.3 1508.0,2397.9 C1510.1,2404.5 1515.5,2409.9 1517.0,2412.3" stroke-width="2.1849999999999996" fill="none" />
<path d="M1497.3,2203.9 L1531.4,2190.2 L1542.2,2194.9 L1542.2,2207.5 L1508.0,2219.0 L1497.3,2214.7 Z" stroke-width="2.07" fill="#fcfcfc" />
<path d="M1497.3,2203.9 L1508.0,2207.5 L1542.2,2194.9" stroke-width="1.7249999999999999" fill="none" />
<line x1="1508.0" y1="2207.5" x2="1508.0" y2="2219.0" stroke-width="1.7249999999999999"/>
<path d="M1472.1,2362.0 L1472.1,2374.5 L1481.1,2376.3" stroke-width="1.7249999999999999" fill="none" />
<path d="M1535.0,2336.8 L1542.9,2339.7 L1542.9,2348.3" stroke-width="1.7249999999999999" fill="none" />
<path d="M1121.8,2396.1 L1244.0,2328.5 L1432.6,2437.4 L1432.6,2475.1 L1394.9,2496.7 L1394.9,2538.0 L1371.5,2547.0 L1314.0,2547.0 L1121.8,2433.8 Z" stroke-width="2.3" fill="#fcfcfc" />
<path d="M1121.8,2396.1 L1312.3,2509.2 L1371.5,2507.5 L1389.5,2496.7 L1362.5,2478.7 L1432.6,2437.4" stroke-width="2.07" fill="none" />
<line x1="1312.3" y1="2509.2" x2="1314.0" y2="2547.0" stroke-width="1.8399999999999999"/>
<line x1="1371.5" y1="2507.5" x2="1371.5" y2="2547.0" stroke-width="1.8399999999999999"/>
<path d="M1389.5,2496.7 L1394.9,2500.3" stroke-width="1.7249999999999999" fill="none" />
<path d="M1393.1,2482.3 L1420.0,2500.3 L1420.0,2523.6 L1412.8,2520.0 L1412.8,2505.7 L1394.9,2516.4" stroke-width="1.9549999999999998" fill="none" />
<line x1="1319.4" y1="2509.2" x2="1319.4" y2="2520.0" stroke-width="1.38"/>
<line x1="1366.1" y1="2508.5" x2="1366.1" y2="2518.2" stroke-width="1.38"/>
<path d="M1797.8,558.3 C1800.4,564.8 1798.2,577.9 1800.4,592.3 C1802.5,606.6 1806.0,622.7 1810.8,644.5 C1815.6,666.3 1823.4,698.9 1829.1,722.9 C1834.8,746.8 1841.7,772.5 1844.8,788.2 C1847.8,803.9 1843.5,811.3 1847.4,816.9 C1851.3,822.6 1859.6,818.7 1868.3,822.2 C1877.0,825.7 1890.7,831.3 1899.6,837.8 C1908.6,844.4 1917.5,852.2 1921.9,861.4 C1926.2,870.5 1923.8,881.0 1925.8,892.7 C1927.7,904.5 1932.7,920.1 1933.6,931.9 C1934.5,943.7 1933.2,955.4 1931.0,963.3 C1928.8,971.1 1929.7,972.4 1920.5,978.9 C1911.4,985.5 1885.1,999.4 1876.1,1002.4 C1867.2,1005.5 1868.9,1000.3 1867.0,997.2 C1865.0,994.2 1863.3,988.1 1864.4,984.2 C1865.5,980.2 1875.0,976.3 1873.5,973.7 C1872.0,971.1 1861.3,970.2 1855.2,968.5 C1849.1,966.7 1842.2,965.0 1836.9,963.3 C1831.7,961.5 1826.5,960.6 1823.9,958.0 C1821.3,955.4 1820.8,954.5 1821.3,947.6 C1821.7,940.6 1824.3,924.9 1826.5,916.2 C1828.7,907.5 1835.2,902.3 1834.3,895.3 C1833.5,888.4 1825.2,885.7 1821.3,874.4 C1817.3,863.1 1815.2,848.3 1810.8,827.4 C1806.5,806.5 1800.8,775.1 1795.1,749.0 C1789.5,722.9 1781.6,692.4 1776.9,670.6 C1772.1,648.9 1768.8,632.3 1766.4,618.4 C1764.0,604.4 1762.0,595.7 1762.5,587.0 C1762.9,578.3 1765.3,571.8 1769.0,566.1 C1772.7,560.5 1779.9,554.4 1784.7,553.1 C1789.5,551.8 1795.1,551.8 1797.8,558.3 Z" stroke-width="2.3" fill="#fcfcfc" />
<path d="M1791.2,555.7 C1788.6,557.9 1779.2,563.1 1775.5,568.7 C1771.8,574.4 1769.4,581.4 1769.0,589.6 C1768.6,597.9 1770.5,604.9 1772.9,618.4 C1775.3,631.9 1778.6,648.9 1783.4,670.6 C1788.2,692.4 1796.0,722.9 1801.7,749.0 C1807.3,775.1 1813.2,806.9 1817.3,827.4 C1821.5,847.9 1822.8,860.9 1826.5,871.8 C1830.2,882.7 1837.4,889.2 1839.6,892.7" stroke-width="1.9549999999999998" fill="none" />
<path d="M1847.4,816.9 C1847.6,820.9 1847.4,833.9 1848.7,840.5 C1850.0,847.0 1852.0,852.9 1855.2,856.1 C1858.5,859.4 1866.1,859.4 1868.3,860.1" stroke-width="1.8399999999999999" fill="none" />
<path d="M1839.6,892.7 C1842.2,894.9 1849.6,900.1 1855.2,905.8 C1860.9,911.4 1868.7,918.0 1873.5,926.7 C1878.3,935.4 1881.8,948.4 1884.0,958.0 C1886.1,967.6 1886.1,979.8 1886.6,984.2" stroke-width="1.9549999999999998" fill="none" />
<path d="M1850.0,887.5 C1852.6,890.5 1860.5,898.4 1865.7,905.8 C1870.9,913.2 1878.7,927.5 1881.4,931.9" stroke-width="1.7249999999999999" fill="none" />
<path d="M1834.3,895.3 C1833.9,897.1 1831.3,902.3 1831.7,905.8 C1832.2,909.3 1837.4,911.9 1836.9,916.2 C1836.5,920.6 1830.4,929.3 1829.1,931.9" stroke-width="1.7249999999999999" fill="none" />
<path d="M1899.6,916.2 L1921.9,903.2 L1924.5,924.1 L1902.3,939.7 Z" stroke-width="1.8399999999999999" fill="none" />
<path d="M1884.0,911.0 C1887.9,908.8 1901.0,901.9 1907.5,897.9 C1914.0,894.0 1920.5,889.2 1923.2,887.5" stroke-width="1.6099999999999999" fill="none" />
<path d="M1873.5,952.8 L1881.4,947.6 L1886.6,968.5" stroke-width="1.6099999999999999" fill="none" />
<path d="M1844.8,963.3 C1847.4,962.4 1855.7,960.6 1860.5,958.0 C1865.2,955.4 1871.3,949.3 1873.5,947.6" stroke-width="1.6099999999999999" fill="none" />
<path d="M1829.1,941.8 L1857.8,922.2 L1864.9,939.8 L1836.2,961.6" stroke-width="1.9549999999999998" fill="#fcfcfc" />
<ellipse cx="1831.7" cy="952.8" rx="8.9" ry="11.0" stroke-width="2.1849999999999996" fill="#fcfcfc" />
<ellipse cx="1831.7" cy="952.8" rx="4.0" ry="5.3" stroke-width="1.8399999999999999" fill="none" />
<path d="M1656.7,607.9 C1658.0,618.4 1661.5,644.1 1664.5,670.6 C1667.6,697.2 1672.1,747.3 1675.0,767.3 C1677.8,787.3 1680.8,784.3 1681.5,790.8 C1682.1,797.3 1680.8,802.1 1678.9,806.5 C1676.9,810.8 1673.4,814.5 1669.7,816.9 C1666.0,819.3 1658.8,820.2 1656.7,820.9" stroke-width="2.1849999999999996" fill="none" />
<path d="M1664.5,613.2 C1665.8,623.6 1669.5,649.7 1672.3,675.9 C1675.2,702.0 1678.9,750.8 1681.5,769.9 C1684.1,789.1 1687.4,784.3 1688.0,790.8 C1688.7,797.3 1687.2,804.1 1685.4,809.1 C1683.7,814.1 1678.9,818.9 1677.6,820.9" stroke-width="1.9549999999999998" fill="none" />
<path d="M1656.7,607.9 L1681.5,593.6 L1682.8,600.1 L1664.5,613.2" stroke-width="2.07" fill="none" />
<line x1="1675.0" y1="540.0" x2="1682.8" y2="594.9" stroke-width="1.7249999999999999"/>
<line x1="1682.8" y1="540.0" x2="1690.6" y2="600.1" stroke-width="1.7249999999999999"/>
<line x1="1688.0" y1="540.0" x2="1694.6" y2="601.4" stroke-width="1.7249999999999999"/>
<line x1="1701.1" y1="540.0" x2="1702.4" y2="602.7" stroke-width="1.7249999999999999"/>
<line x1="1714.1" y1="540.0" x2="1714.1" y2="597.5" stroke-width="1.7249999999999999"/>
<path d="M1690.6,600.1 L1706.3,602.7 L1714.1,597.5" stroke-width="1.8399999999999999" fill="none" />
<path d="M1695.9,618.4 C1697.6,616.6 1702.0,610.1 1706.3,607.9 C1710.7,605.8 1718.5,604.4 1722.0,605.3 C1725.5,606.2 1726.3,611.8 1727.2,613.2" stroke-width="1.6099999999999999" fill="none" />
<line x1="1710.2" y1="605.3" x2="1711.5" y2="618.4" stroke-width="1.4949999999999999"/>
<line x1="1716.8" y1="702.0" x2="1718.1" y2="717.7" stroke-width="1.4949999999999999"/>
<line x1="1694.6" y1="707.2" x2="1697.2" y2="728.1" stroke-width="1.4949999999999999"/>
<path d="M1712.8,555.7 L1712.8,574.0 L1719.4,577.9 L1769.0,551.8" stroke-width="2.07" fill="none" />
<path d="M1712.8,555.7 L1719.4,559.6 L1719.4,577.9" stroke-width="1.8399999999999999" fill="none" />
<path d="M1719.4,559.6 L1769.0,533.5" stroke-width="1.8399999999999999" fill="none" />
<line x1="1712.8" y1="555.7" x2="1763.8" y2="529.5" stroke-width="1.8399999999999999"/>
<path d="M1716.8,579.2 L1766.4,553.1" stroke-width="7.25875" fill="none"/>
<path d="M1716.8,579.2 L1766.4,553.1" stroke-width="3.81" fill="none" style="stroke:#fcfcfc"/>
<ellipse cx="1716.0" cy="579.7" rx="2.6" ry="3.7" stroke-width="1.7249999999999999" fill="#fcfcfc" />
<path d="M1742.9,571.4 L1742.9,579.2 L1761.2,587.0 L1761.2,576.6" stroke-width="1.7249999999999999" fill="none" />
<path d="M1722.0,581.8 C1723.3,583.1 1726.8,589.2 1729.8,589.6 C1732.9,590.1 1738.5,585.3 1740.3,584.4" stroke-width="1.6099999999999999" fill="none" />
<path d="M1718.1,630.1 L1758.6,608.5" stroke-width="8.276" fill="none"/>
<path d="M1718.1,630.1 L1758.6,608.5" stroke-width="4.60" fill="none" style="stroke:#fcfcfc"/>
<ellipse cx="1716.8" cy="630.7" rx="3.1" ry="4.2" stroke-width="1.7249999999999999" fill="#fcfcfc" />
<path d="M1732.4,656.3 L1769.0,637.2" stroke-width="8.276" fill="none"/>
<path d="M1732.4,656.3 L1769.0,637.2" stroke-width="4.60" fill="none" style="stroke:#fcfcfc"/>
<ellipse cx="1731.1" cy="656.8" rx="3.1" ry="4.2" stroke-width="1.7249999999999999" fill="#fcfcfc" />
<line x1="1745.5" y1="623.6" x2="1750.7" y2="634.1" stroke-width="1.4949999999999999"/>
<path d="M1681.6,652.9 L1710.3,633.3 L1717.0,649.2 L1688.3,670.7" stroke-width="1.9549999999999998" fill="#fcfcfc" />
<ellipse cx="1684.1" cy="662.8" rx="8.4" ry="9.9" stroke-width="2.1849999999999996" fill="#fcfcfc" />
<ellipse cx="1684.1" cy="662.8" rx="3.8" ry="4.8" stroke-width="1.8399999999999999" fill="none" />
<path d="M1747.1,678.2 L1770.6,663.8 L1776.9,678.9 L1753.3,695.1" stroke-width="1.9549999999999998" fill="#fcfcfc" />
<ellipse cx="1749.4" cy="687.6" rx="7.8" ry="9.4" stroke-width="2.1849999999999996" fill="#fcfcfc" />
<ellipse cx="1749.4" cy="687.6" rx="3.5" ry="4.5" stroke-width="1.8399999999999999" fill="none" />
<path d="M1695.9,634.1 C1697.6,633.2 1702.8,628.4 1706.3,628.8 C1709.8,629.3 1714.6,632.3 1716.8,636.7 C1718.9,641.0 1719.8,650.2 1719.4,655.0 C1718.9,659.7 1715.0,663.7 1714.1,665.4" stroke-width="1.7249999999999999" fill="none" />
<path d="M1669.7,691.5 L1720.7,665.4 L1742.9,668.0 L1742.9,675.9 L1693.2,702.0 Z" stroke-width="2.07" fill="#fcfcfc" />
<path d="M1693.2,702.0 L1693.2,696.8 L1740.3,671.9" stroke-width="1.6099999999999999" fill="none" />
<path d="M1675.0,699.4 L1675.0,709.8 L1690.6,703.3" stroke-width="1.7249999999999999" fill="none" />
<path d="M1677.6,749.0 L1731.1,720.3 L1733.7,722.9 L1733.7,728.1 L1742.9,738.6 L1745.5,749.0 L1690.6,776.4 Z" stroke-width="2.07" fill="#fcfcfc" />
<path d="M1684.1,764.7 L1740.3,738.6" stroke-width="1.6099999999999999" fill="none" />
<path d="M1685.4,749.0 L1729.8,726.8" stroke-width="1.4949999999999999" fill="none" />
<path d="M1748.1,717.7 L1782.1,700.7 L1789.9,707.2 L1789.9,728.1 L1769.0,743.8 L1762.5,741.2 L1762.5,728.1 L1748.1,720.3 Z" stroke-width="2.07" fill="#fcfcfc" />
<path d="M1762.5,728.1 L1789.9,712.4" stroke-width="1.6099999999999999" fill="none" />
<path d="M1759.9,794.7 L1800.4,771.2 L1803.0,790.8 L1776.9,806.5 L1769.0,803.9 L1769.0,790.8 L1759.9,798.7 Z" stroke-width="2.07" fill="#fcfcfc" />
<path d="M1769.0,790.8 L1801.7,775.1" stroke-width="1.6099999999999999" fill="none" />
<path d="M1782.1,756.9 L1795.1,749.0 L1797.8,769.9 L1784.7,775.1 Z" stroke-width="1.8399999999999999" fill="none" />
<path d="M1729.8,756.9 L1742.9,751.6 L1748.1,756.9 L1748.1,796.0 L1737.7,801.3 L1729.8,798.7 Z" stroke-width="1.9549999999999998" fill="none" />
<path d="M1731.1,764.7 L1746.8,759.5" stroke-width="1.4949999999999999" fill="none" />
<path d="M1732.4,772.5 L1748.1,767.3" stroke-width="1.4949999999999999" fill="none" />
<path d="M1733.7,780.4 L1748.1,775.1" stroke-width="1.4949999999999999" fill="none" />
<path d="M1735.0,788.2 L1748.1,783.0" stroke-width="1.4949999999999999" fill="none" />
<path d="M1789.9,801.3 L1789.9,814.3 L1797.8,816.9 L1797.8,853.5 L1805.6,856.1 L1805.6,835.2" stroke-width="1.7249999999999999" fill="none" />
<path d="M1795.1,811.7 L1805.6,816.9" stroke-width="1.4949999999999999" fill="none" />
<path d="M1698.5,775.1 C1698.9,777.8 1701.5,784.7 1701.1,790.8 C1700.6,796.9 1696.7,808.2 1695.9,811.7" stroke-width="1.6099999999999999" fill="none" />
<path d="M1722.0,769.9 C1722.2,772.5 1723.7,780.8 1723.3,785.6 C1722.9,790.4 1720.0,796.5 1719.4,798.7" stroke-width="1.6099999999999999" fill="none" />
<path d="M1675.0,768.6 L1646.2,776.4 L1612.3,792.1 L1596.6,802.6 L1601.8,845.7 L1620.1,850.9 L1631.8,843.1 L1627.9,814.3 L1622.7,811.7 L1664.5,790.8 L1680.2,792.1" stroke-width="2.1849999999999996" fill="none" />
<path d="M1603.1,806.5 L1627.9,811.7 L1661.9,792.1 L1677.6,794.7" stroke-width="1.8399999999999999" fill="none" />
<path d="M1605.7,811.7 L1622.7,816.9 L1622.7,824.8 L1608.3,820.9 Z" stroke-width="1.7249999999999999" fill="none" />
<path d="M1608.3,827.4 L1612.3,827.4 L1612.3,837.8 L1608.3,837.8 Z" stroke-width="1.7249999999999999" fill="none" />
<path d="M1599.2,803.9 L1603.1,806.5 L1607.0,844.4" stroke-width="1.6099999999999999" fill="none" />
<path d="M1659.3,809.1 C1660.6,810.0 1664.1,813.9 1667.1,814.3 C1670.2,814.8 1675.0,813.9 1677.6,811.7 C1680.2,809.5 1681.9,803.0 1682.8,801.3" stroke-width="1.7249999999999999" fill="none" />
<path d="M1622.7,827.4 C1624.0,828.7 1628.8,833.1 1630.5,835.2 C1632.3,837.4 1632.7,839.6 1633.2,840.5" stroke-width="1.6099999999999999" fill="none" />
<path d="M1638.5,842.3 L1663.3,824.0 L1670.0,839.9 L1645.2,860.2" stroke-width="1.9549999999999998" fill="#fcfcfc" />
<ellipse cx="1641.0" cy="852.2" rx="8.4" ry="9.9" stroke-width="2.1849999999999996" fill="#fcfcfc" />
<ellipse cx="1641.0" cy="852.2" rx="3.8" ry="4.8" stroke-width="1.8399999999999999" fill="none" />
<path d="M1675.0,819.6 L1727.2,790.8 L1729.8,827.4 L1742.9,824.8 L1748.1,827.4 L1685.4,864.0 L1664.5,853.5 L1675.0,848.3" stroke-width="2.07" fill="none" />
<line x1="1680.2" y1="820.9" x2="1682.8" y2="862.7" stroke-width="1.8399999999999999"/>
<path d="M1626.6,877.0 L1646.2,866.6 L1664.5,874.4 L1682.8,864.0" stroke-width="1.8399999999999999" fill="none" />
<path d="M1626.6,877.0 L1627.9,884.9 L1643.6,891.4 L1644.9,883.6 L1626.6,877.0" stroke-width="1.8399999999999999" fill="none" />
<line x1="1644.9" y1="883.6" x2="1685.4" y2="861.4" stroke-width="1.7249999999999999"/>
<line x1="1643.6" y1="891.4" x2="1682.8" y2="869.7" stroke-width="1.6099999999999999"/>
<path d="M1685.4,816.9 C1688.9,814.8 1699.3,806.9 1706.3,803.9 C1713.3,800.8 1723.7,799.5 1727.2,798.7" stroke-width="1.6099999999999999" fill="none" />
<path d="M1740.3,837.8 L1756.0,877.0 L1758.6,879.6 L1826.5,903.2" stroke-width="2.07" fill="none" />
<path d="M1748.1,827.4 L1758.6,853.5" stroke-width="1.7249999999999999" fill="none" />
<path d="M1756.0,856.1 L1769.0,848.3 L1803.0,869.2 L1818.7,861.4" stroke-width="1.9549999999999998" fill="none" />
<path d="M1762.5,869.2 L1762.5,877.0 L1800.4,890.1 L1800.4,879.6 L1762.5,869.2" stroke-width="1.8399999999999999" fill="none" />
<path d="M1803.0,884.9 L1821.3,890.1 L1821.3,882.3 L1803.0,877.0" stroke-width="1.6099999999999999" fill="none" />
<path d="M1766.4,837.8 L1766.4,848.3" stroke-width="1.6099999999999999" fill="none" />
<path d="M1769.0,832.6 L1779.5,837.8 L1782.1,835.2 L1789.9,839.2" stroke-width="1.6099999999999999" fill="none" />
<path d="M1763.8,857.4 L1803.0,877.0 L1818.7,869.2" stroke-width="1.6099999999999999" fill="none" />
<path d="M1812.1,918.8 L1823.9,911.0 L1826.5,916.2" stroke-width="1.8399999999999999" fill="none" />
<path d="M1812.1,918.8 L1814.7,929.3 L1821.3,926.7" stroke-width="1.7249999999999999" fill="none" />
<path d="M1810.8,877.0 L1816.0,879.6 L1816.0,887.5" stroke-width="2.53" fill="none" />
<path d="M1794.6,285.5 C1795.9,282.2 1805.2,273.6 1818.3,273.6 C1831.5,273.6 1855.1,273.6 1873.6,285.5 C1892.0,297.3 1917.3,325.6 1928.8,344.7 C1940.3,363.7 1942.0,381.5 1942.6,399.9 C1943.3,418.3 1938.3,442.7 1932.8,455.2 C1927.2,467.7 1912.7,468.3 1909.1,474.9 C1905.5,481.5 1911.0,488.7 1911.0,494.6 C1911.0,500.6 1913.4,502.5 1909.1,510.4 C1904.8,518.3 1895.3,534.1 1885.4,542.0 C1875.5,549.9 1859.1,555.8 1849.9,557.8 C1840.7,559.7 1838.0,554.4 1830.1,553.8 C1822.3,553.3 1808.4,555.3 1802.5,554.6 C1796.6,554.0 1792.0,552.0 1794.6,549.9 C1797.3,547.8 1811.7,544.6 1818.3,542.0 C1824.9,539.4 1830.1,539.4 1834.1,534.1 C1838.0,528.8 1841.3,517.7 1842.0,510.4 C1842.6,503.2 1834.1,493.3 1838.0,490.7 C1842.0,488.1 1858.4,495.0 1865.7,494.6 C1872.9,494.3 1877.8,492.7 1881.5,488.7 C1885.1,484.8 1886.4,490.4 1887.4,471.0 C1888.4,451.6 1889.7,393.3 1887.4,372.3 C1885.1,351.2 1881.1,354.2 1873.6,344.7 C1866.0,335.1 1852.5,323.6 1842.0,315.1 C1831.5,306.5 1818.3,298.3 1810.4,293.4 C1802.5,288.4 1793.3,288.8 1794.6,285.5 Z" stroke-width="2.3" fill="#fcfcfc" />
<path d="M1810.4,293.4 C1815.7,297.0 1831.5,306.5 1842.0,315.1 C1852.5,323.6 1866.0,335.1 1873.6,344.7 C1881.1,354.2 1884.9,359.1 1887.4,372.3 C1889.8,385.5 1888.2,407.2 1888.2,423.6 C1888.2,440.0 1888.5,460.1 1887.4,471.0 C1886.3,481.8 1885.1,484.8 1881.5,488.7 C1877.8,492.7 1871.6,494.0 1865.7,494.6 C1859.7,495.3 1849.2,493.0 1845.9,492.7" stroke-width="2.07" fill="none" />
<path d="M1814.4,288.6 C1819.6,292.4 1835.3,302.3 1845.9,311.1 C1856.6,319.9 1870.5,331.3 1878.3,341.5 C1886.1,351.7 1890.0,350.7 1892.5,372.3 C1895.0,393.9 1894.5,450.9 1893.3,471.0 C1892.1,491.0 1889.7,487.9 1885.4,492.7 C1881.1,497.4 1870.6,498.3 1867.6,499.4" stroke-width="1.6099999999999999" fill="none" />
<path d="M1889.3,358.5 C1893.3,357.5 1905.8,352.2 1913.0,352.6 C1920.3,352.9 1929.5,359.1 1932.8,360.5" stroke-width="1.6099999999999999" fill="none" />
<path d="M1818.3,273.6 C1820.9,274.3 1827.5,274.3 1834.1,277.6 C1840.7,280.9 1853.8,290.7 1857.8,293.4" stroke-width="1.6099999999999999" fill="none" />
<path d="M1909.1,474.9 C1906.4,477.5 1899.9,487.1 1893.3,490.7 C1886.7,494.3 1873.6,495.6 1869.6,496.6" stroke-width="2.07" fill="none" />
<path d="M1838.0,490.7 C1839.0,494.0 1844.3,503.5 1844.0,510.4 C1843.6,517.3 1840.3,526.9 1836.1,532.1 C1831.8,537.4 1821.3,540.3 1818.3,542.0" stroke-width="1.8399999999999999" fill="none" />
<path d="M1849.9,518.3 C1849.2,520.3 1848.6,526.9 1845.9,530.1 C1843.3,533.4 1836.1,536.7 1834.1,538.0" stroke-width="1.6099999999999999" fill="none" />
<path d="M1589.0,181.7 L1599.0,177.4 L1616.3,185.2 L1616.3,157.3 L1622.9,149.5 L1631.5,151.3 L1640.7,158.7 L1629.2,164.5 L1629.2,194.7 L1614.8,201.8 L1589.0,187.5 Z" stroke-width="2.1849999999999996" fill="#fcfcfc" />
<path d="M1599.0,177.4 L1599.0,183.2 L1614.8,191.8" stroke-width="1.6099999999999999" fill="none" />
<line x1="1616.3" y1="185.2" x2="1629.2" y2="178.9" stroke-width="1.6099999999999999"/>
<path d="M1640.7,158.7 C1642.4,158.0 1646.0,153.5 1650.8,154.4 C1655.6,155.4 1663.0,160.7 1669.4,164.5 C1675.9,168.3 1685.5,172.9 1689.6,177.4 C1693.6,182.0 1693.4,188.0 1693.9,191.8 C1694.4,195.6 1690.8,198.3 1692.4,200.4 C1694.1,202.6 1700.1,205.4 1703.9,204.7 C1707.8,204.0 1712.6,197.3 1715.4,196.1 C1718.3,194.9 1717.3,195.9 1721.2,197.5 C1725.0,199.2 1734.1,201.4 1738.4,206.2 C1742.7,211.0 1745.6,222.9 1747.0,226.3" stroke-width="2.1849999999999996" fill="none" />
<path d="M1635.0,155.3 C1637.4,154.5 1639.7,147.2 1649.3,150.7 C1658.9,154.1 1684.1,169.1 1692.4,176.0 C1700.8,182.8 1698.4,189.2 1699.6,191.8" stroke-width="1.8399999999999999" fill="none" />
<path d="M1643.6,161.6 C1649.8,165.2 1674.0,176.9 1680.9,183.2 C1687.9,189.4 1685.3,193.5 1685.3,199.0 C1685.3,204.5 1681.7,213.3 1680.9,216.2" stroke-width="1.7249999999999999" fill="none" />
<path d="M1721.2,197.5 C1720.7,200.2 1721.2,208.8 1718.3,213.3 C1715.4,217.9 1707.3,219.8 1703.9,224.8 C1700.6,229.9 1699.1,240.4 1698.2,243.5" stroke-width="1.7249999999999999" fill="none" />
<path d="M1738.4,206.2 C1737.5,207.8 1733.6,212.9 1732.7,216.2 C1731.7,219.6 1732.7,224.6 1732.7,226.3" stroke-width="1.6099999999999999" fill="none" />
<path d="M1630.6,203.3 C1631.4,207.4 1635.2,218.9 1635.0,227.7 C1634.7,236.6 1632.6,246.9 1629.2,256.5 C1625.9,266.0 1620.1,277.1 1614.8,285.2 C1609.6,293.3 1603.1,300.0 1597.6,305.3 C1592.1,310.6 1584.4,314.9 1581.8,316.8" stroke-width="2.1849999999999996" fill="none" />
<path d="M1647.9,211.9 C1649.1,216.5 1654.8,229.9 1655.1,239.2 C1655.3,248.6 1652.7,258.4 1649.3,268.0 C1646.0,277.5 1640.2,288.1 1635.0,296.7 C1629.7,305.3 1622.7,313.2 1617.7,319.7 C1612.7,326.1 1606.9,332.9 1604.8,335.5" stroke-width="2.1849999999999996" fill="none" />
<path d="M1640.7,158.7 C1641.7,162.6 1645.3,172.9 1646.5,181.7 C1647.7,190.6 1647.7,206.9 1647.9,211.9" stroke-width="1.8399999999999999" fill="none" />
<line x1="1629.2" y1="194.7" x2="1630.6" y2="203.3" stroke-width="1.8399999999999999"/>
<ellipse cx="1650.8" cy="187.5" rx="4.6" ry="8.0" stroke-width="1.7249999999999999" fill="none" transform="rotate(15 1650.8 187.5)" />
<ellipse cx="1652.2" cy="296.7" rx="5.2" ry="8.6" stroke-width="1.8399999999999999" fill="none" transform="rotate(20 1652.2 296.7)" />
<path d="M1660.8,209.0 L1660.8,216.2 L1676.6,224.8 L1676.6,199.0" stroke-width="1.8399999999999999" fill="none" />
<path d="M1680.9,216.2 L1680.9,224.8 L1689.6,229.2 L1692.4,240.6 L1698.2,243.5" stroke-width="1.8399999999999999" fill="none" />
<ellipse cx="1689.6" cy="231.2" rx="2.6" ry="2.9" stroke-width="1.6099999999999999" fill="none" />
<path d="M1663.7,253.6 L1670.9,249.3 L1695.3,262.2" stroke-width="1.8399999999999999" fill="none" />
<path d="M1660.8,253.6 L1660.8,262.2 L1675.2,270.8" stroke-width="1.8399999999999999" fill="none" />
<path d="M1669.4,268.0 C1669.9,269.9 1670.4,276.1 1672.3,279.4 C1674.2,282.8 1679.5,286.6 1680.9,288.1" stroke-width="1.6099999999999999" fill="none" />
<path d="M1675.2,295.3 L1680.9,292.4 L1680.9,302.4 L1676.6,303.9" stroke-width="1.6099999999999999" fill="none" />
<path d="M1581.8,316.8 L1581.8,328.3 L1591.8,334.1 L1591.8,352.7 L1550.2,328.3 L1560.2,318.2 L1581.8,328.3" stroke-width="2.07" fill="none" />
<line x1="1560.2" y1="318.2" x2="1581.8" y2="316.8" stroke-width="1.8399999999999999"/>
<path d="M1604.8,335.5 L1604.8,345.5 L1639.3,365.7" stroke-width="1.9549999999999998" fill="none" />
<path d="M1601.9,359.9 L1601.9,349.9 L1639.3,371.4 L1639.3,359.9" stroke-width="1.9549999999999998" fill="none" />
<path d="M1639.3,371.4 L1662.3,384.3 L1662.3,372.9" stroke-width="1.9549999999999998" fill="none" />
<line x1="1662.3" y1="384.3" x2="1688.1" y2="398.7" stroke-width="1.9549999999999998"/>
<path d="M1537.2,359.9 L1547.3,348.4 L1573.2,362.8 L1573.2,357.0 L1584.7,351.3 L1601.9,359.9" stroke-width="2.07" fill="none" />
<path d="M1537.2,359.9 L1537.2,365.7 L1573.2,385.8 L1573.2,362.8" stroke-width="2.07" fill="none" />
<line x1="1573.2" y1="385.8" x2="1581.8" y2="381.5" stroke-width="1.7249999999999999"/>
<path d="M1547.3,348.4 L1547.3,342.7 L1557.4,336.9 L1591.8,357.0" stroke-width="1.8399999999999999" fill="none" />
<path d="M1544.4,374.3 L1544.4,382.9 L1566.0,417.4 L1570.3,434.6 L1581.8,441.8 L1597.6,434.6 L1597.6,423.1 L1581.8,430.3 L1577.5,405.9 L1581.8,388.7" stroke-width="1.9549999999999998" fill="none" />
<path d="M1581.8,388.7 L1594.7,380.0 L1603.3,400.2 L1635.0,417.4 L1635.0,405.9 L1652.2,417.4" stroke-width="1.8399999999999999" fill="none" />
<path d="M1570.3,417.4 L1574.6,414.5 L1576.0,431.8" stroke-width="1.6099999999999999" fill="none" />
<path d="M1548.7,380.0 C1550.7,381.5 1556.9,388.2 1560.2,388.7 C1563.6,389.1 1567.4,383.9 1568.9,382.9" stroke-width="1.4949999999999999" fill="none" />
<path d="M1554.5,388.7 C1555.9,390.6 1560.2,398.7 1563.1,400.2 C1566.0,401.6 1570.3,397.8 1571.7,397.3" stroke-width="1.4949999999999999" fill="none" />
<path d="M1606.2,403.0 L1680.9,359.9" stroke-width="1.7249999999999999" fill="none" />
<path d="M1632.1,405.9 L1686.7,374.3" stroke-width="1.7249999999999999" fill="none" />
<path d="M1614.8,417.4 L1614.8,428.9 L1597.6,434.6" stroke-width="1.6099999999999999" fill="none" />
<path d="M1623.5,447.6 L1650.8,430.3 L1635.0,420.8" stroke-width="2.07" fill="none" />
<path d="M1623.5,447.6 L1623.5,453.3 L1666.6,483.5 L1675.2,492.1 L1718.3,467.7 L1732.7,482.1 L1758.5,466.8 L1765.7,472.0 L1765.7,489.2 L1807.4,466.3" stroke-width="2.1849999999999996" fill="none" />
<path d="M1666.6,483.5 L1668.0,492.1 L1676.6,500.7 L1676.6,492.7" stroke-width="1.8399999999999999" fill="none" />
<path d="M1650.8,430.3 L1715.4,469.1" stroke-width="1.7249999999999999" fill="none" />
<path d="M1718.3,467.7 L1718.3,460.5 L1758.5,437.5" stroke-width="1.7249999999999999" fill="none" />
<path d="M1744.2,474.9 L1744.2,482.1 L1764.3,493.6" stroke-width="1.6099999999999999" fill="none" />
<line x1="1758.5" y1="466.8" x2="1758.5" y2="459.1" stroke-width="1.6099999999999999"/>
<line x1="1668.0" y1="492.1" x2="1676.6" y2="559.9" stroke-width="1.7249999999999999"/>
<line x1="1686.7" y1="487.8" x2="1690.1" y2="559.9" stroke-width="1.7249999999999999"/>
<line x1="1692.4" y1="484.9" x2="1696.5" y2="559.9" stroke-width="1.7249999999999999"/>
<line x1="1699.6" y1="481.2" x2="1704.5" y2="559.9" stroke-width="1.7249999999999999"/>
<line x1="1714.0" y1="473.4" x2="1716.0" y2="559.9" stroke-width="1.7249999999999999"/>
<path d="M1692.4,295.3 C1692.0,298.4 1692.4,307.0 1689.6,313.9 C1686.7,320.9 1680.9,330.2 1675.2,336.9 C1669.4,343.6 1660.8,350.3 1655.1,354.2 C1649.3,358.0 1643.1,359.0 1640.7,359.9" stroke-width="1.9549999999999998" fill="none" />
<path d="M1706.8,299.6 C1705.9,303.9 1704.9,316.8 1701.1,325.4 C1697.2,334.1 1690.0,344.1 1683.8,351.3 C1677.6,358.5 1667.3,363.8 1663.7,368.5 C1660.1,373.3 1662.5,378.1 1662.3,380.0" stroke-width="1.9549999999999998" fill="none" />
<path d="M1718.3,305.3 C1717.8,308.7 1717.8,318.2 1715.4,325.4 C1713.0,332.6 1708.2,341.7 1703.9,348.4 C1699.6,355.1 1692.0,362.8 1689.6,365.7" stroke-width="1.7249999999999999" fill="none" />
<path d="M1732.7,308.2 C1732.7,312.0 1734.6,323.5 1732.7,331.2 C1730.8,338.8 1725.5,347.9 1721.2,354.2 C1716.9,360.4 1709.2,366.1 1706.8,368.5" stroke-width="1.7249999999999999" fill="none" />
<path d="M1739.9,309.6 C1740.1,313.2 1743.0,323.3 1741.3,331.2 C1739.6,339.1 1734.1,350.3 1729.8,357.0 C1725.5,363.8 1717.8,369.0 1715.4,371.4" stroke-width="1.7249999999999999" fill="none" />
<path d="M1747.0,306.7 C1748.5,307.9 1753.8,309.9 1755.7,313.9 C1757.6,318.0 1759.5,324.5 1758.5,331.2 C1757.6,337.9 1754.7,347.0 1749.9,354.2 C1745.1,361.4 1733.2,370.9 1729.8,374.3" stroke-width="1.8399999999999999" fill="none" />
<path d="M1797.3,316.8 C1796.6,320.6 1796.1,331.7 1793.0,339.8 C1789.9,347.9 1784.4,358.5 1778.7,365.7 C1772.9,372.9 1761.9,380.0 1758.5,382.9" stroke-width="1.9549999999999998" fill="none" />
<path d="M1810.3,331.2 C1808.8,336.0 1806.9,351.3 1801.6,359.9 C1796.4,368.5 1785.4,378.1 1778.7,382.9 C1772.0,387.7 1764.3,387.7 1761.4,388.7" stroke-width="1.6099999999999999" fill="none" />
<path d="M1836.1,380.0 C1835.2,383.9 1834.2,395.4 1830.4,403.0 C1826.6,410.7 1819.9,419.3 1813.1,426.0 C1806.4,432.7 1794.0,440.4 1790.2,443.3" stroke-width="1.9549999999999998" fill="none" />
<path d="M1853.4,391.5 C1852.4,395.8 1851.5,409.7 1847.6,417.4 C1843.8,425.1 1837.1,431.8 1830.4,437.5 C1823.7,443.3 1811.2,449.5 1807.4,451.9" stroke-width="1.9549999999999998" fill="none" />
<path d="M1818.9,449.0 C1821.8,447.6 1831.8,443.7 1836.1,440.4 C1840.4,437.0 1843.3,430.8 1844.8,428.9" stroke-width="1.4949999999999999" fill="none" />
<path d="M1698.2,243.5 L1721.2,232.0 L1807.4,273.7 L1788.7,286.6 L1793.0,296.7 L1807.4,288.1" stroke-width="2.07" fill="none" />
<path d="M1703.9,250.7 L1721.2,240.6 L1795.9,279.4" stroke-width="1.7249999999999999" fill="none" />
<path d="M1721.2,232.0 L1732.7,226.3 L1818.9,276.6" stroke-width="1.9549999999999998" fill="none" />
<line x1="1698.2" y1="245.0" x2="1698.2" y2="270.8" stroke-width="1.8399999999999999"/>
<path d="M1718.3,262.2 L1718.3,302.4 L1726.9,306.7 L1726.9,268.0" stroke-width="1.8399999999999999" fill="none" />
<line x1="1731.2" y1="268.0" x2="1731.2" y2="302.4" stroke-width="1.7249999999999999"/>
<path d="M1731.2,268.0 L1742.7,273.7 L1742.7,282.3" stroke-width="1.6099999999999999" fill="none" />
<path d="M1715.4,290.9 L1721.2,295.3 L1721.2,299.6" stroke-width="1.4949999999999999" fill="none" />
<path d="M1703.9,410.2 L1778.7,454.8 L1790.2,449.0 L1795.9,454.8" stroke-width="2.07" fill="none" />
<path d="M1721.2,405.9 L1755.7,426.0 L1760.0,423.1 L1787.3,439.0" stroke-width="1.8399999999999999" fill="none" />
<line x1="1698.2" y1="354.2" x2="1698.2" y2="380.0" stroke-width="1.8399999999999999"/>
<path d="M1718.3,371.4 L1718.3,405.9" stroke-width="1.8399999999999999" fill="none" />
<path d="M1698.2,354.2 L1709.7,348.4 L1732.7,359.9" stroke-width="1.8399999999999999" fill="none" />
<path d="M1731.2,380.0 L1731.2,417.4 L1738.4,414.5" stroke-width="1.7249999999999999" fill="none" />
<path d="M1738.4,385.8 L1770.0,384.3 L1770.0,391.5 L1738.4,397.3 Z" stroke-width="1.7249999999999999" fill="none" />
<path d="M1718.3,371.4 L1726.9,374.3 L1726.9,382.9" stroke-width="1.4949999999999999" fill="none" />
<path d="M1785.8,400.2 L1817.5,382.9 L1817.5,393.0 L1755.7,427.5" stroke-width="1.8399999999999999" fill="none" />
<path d="M1808.8,342.7 L1818.9,336.9 L1844.8,348.4 L1844.8,357.0 L1829.0,359.9 L1808.8,348.4 Z" stroke-width="1.9549999999999998" fill="none" />
<line x1="1836.1" y1="359.9" x2="1836.1" y2="380.0" stroke-width="1.7249999999999999"/>
<line x1="1808.8" y1="348.4" x2="1807.4" y2="357.0" stroke-width="1.4949999999999999"/>
<path d="M1813.1,302.4 L1813.1,331.2 L1821.8,335.5 L1821.8,313.9" stroke-width="1.7249999999999999" fill="none" />
<path d="M1790.2,302.4 L1800.2,299.6 L1800.2,316.8 L1791.6,315.4 Z" stroke-width="1.7249999999999999" fill="none" />
<ellipse cx="1795.3" cy="311.1" rx="2.6" ry="2.9" stroke-width="1.4949999999999999" fill="none" />
<path d="M1844.8,348.4 C1847.2,350.3 1855.8,355.6 1859.1,359.9 C1862.5,364.2 1863.9,371.9 1864.9,374.3" stroke-width="1.7249999999999999" fill="none" />
<path d="M1833.3,322.6 C1837.6,326.4 1851.9,337.9 1859.1,345.5 C1866.3,353.2 1872.3,361.4 1876.4,368.5 C1880.4,375.7 1882.4,385.3 1883.6,388.7" stroke-width="1.7249999999999999" fill="none" />
<path d="M1783.0,466.3 L1807.4,479.2 L1856.3,449.0 L1844.8,443.3" stroke-width="2.07" fill="none" />
<path d="M1783.0,466.3 L1794.5,457.6 L1807.4,463.4" stroke-width="1.7249999999999999" fill="none" />
<line x1="1807.4" y1="479.2" x2="1807.4" y2="486.4" stroke-width="1.7249999999999999"/>
<path d="M1841.9,431.8 L1841.9,446.1 L1853.4,440.4" stroke-width="1.6099999999999999" fill="none" />
<line x1="1859.1" y1="434.6" x2="1859.1" y2="446.1" stroke-width="1.6099999999999999"/>
<path d="M1867.8,405.9 L1873.5,405.9 L1873.5,460.5 L1867.8,460.5 Z" stroke-width="1.7249999999999999" fill="none" />
<path d="M1853.4,388.7 L1864.9,382.9 L1876.4,388.7" stroke-width="1.4949999999999999" fill="none" />
<path d="M1862.0,397.3 L1862.0,405.9 L1869.2,403.0" stroke-width="1.4949999999999999" fill="none" />
<path d="M1692.4,272.3 L1712.6,260.8 L1721.2,265.1 L1721.2,285.2 L1703.9,295.3" stroke-width="1.9549999999999998" fill="#fcfcfc" />
<ellipse cx="1696.7" cy="283.8" rx="10.9" ry="12.9" stroke-width="2.1849999999999996" fill="#fcfcfc" />
<ellipse cx="1696.7" cy="283.8" rx="4.9" ry="6.0" stroke-width="1.9549999999999998" fill="none" />
<path d="M1692.4,387.2 L1712.6,375.7 L1721.2,380.0 L1721.2,400.2 L1703.9,410.2" stroke-width="1.9549999999999998" fill="#fcfcfc" />
<ellipse cx="1696.7" cy="398.7" rx="10.9" ry="12.9" stroke-width="2.1849999999999996" fill="#fcfcfc" />
<ellipse cx="1696.7" cy="398.7" rx="4.9" ry="6.0" stroke-width="1.9549999999999998" fill="none" />
<ellipse cx="1849.1" cy="375.7" rx="9.8" ry="12.1" stroke-width="2.1849999999999996" fill="#fcfcfc" />
<ellipse cx="1849.1" cy="375.7" rx="4.3" ry="5.7" stroke-width="1.8399999999999999" fill="none" />
<ellipse cx="1847.6" cy="479.2" rx="9.8" ry="12.1" stroke-width="2.1849999999999996" fill="#fcfcfc" />
<ellipse cx="1847.6" cy="479.2" rx="4.3" ry="5.7" stroke-width="1.8399999999999999" fill="none" />
<path d="M1744.2,546.7 L1830.4,499.3" stroke-width="7.25875" fill="none"/>
<path d="M1744.2,546.7 L1830.4,499.3" stroke-width="3.81" fill="none" style="stroke:#fcfcfc"/>
<path d="M1712.6,553.9 L1764.3,528.0 L1764.3,532.4 L1721.2,559.9" stroke-width="1.8399999999999999" fill="none" />
<path d="M1844.8,490.7 C1844.3,493.8 1840.9,505.3 1841.9,509.4 C1842.8,513.4 1849.1,514.2 1850.5,515.1" stroke-width="2.53" fill="none" />
<path d="M1702.0,19.3 L1702.6,16.8 L1705.2,15.7 L1890.7,121.6 L1893.4,124.1 L1893.9,126.8 L1893.9,170.9 L1893.0,173.2 L1890.7,174.0 L1705.2,66.7 L1702.6,64.6 L1702.0,61.9 Z" stroke-width="2.53" fill="#fcfcfc" />
<path d="M1879.2,206.5 L1883.4,203.4 L1883.0,197.1 L1900.1,186.6 L1906.4,188.7 L1919.0,183.5 L1925.3,184.5 L1996.6,225.4 L2001.0,230.6 L1999.7,241.1 L1973.5,255.8 L1965.1,252.6 L1961.0,255.8 L1954.7,254.7 L1880.2,211.8 Z" stroke-width="2.07" fill="#fcfcfc" />
<path d="M1880.2,209.7 L1954.7,251.6 L1961.0,252.6 L1965.1,249.9 L1973.5,252.6 L1998.7,238.6" stroke-width="1.4949999999999999" fill="none" />
<path d="M1883.0,197.1 L1886.5,199.2 L1883.8,202.3" stroke-width="1.4949999999999999" fill="none" />
<path d="M1479.7,470.2 C1480.5,473.3 1483.1,483.1 1484.6,488.8 C1486.1,494.5 1487.9,499.7 1488.9,504.5 C1490.0,509.2 1490.6,515.1 1490.9,517.2" stroke-width="1.4949999999999999" fill="none" />
<path d="M1483.8,470.6 C1484.6,473.6 1487.2,483.1 1488.7,488.8 C1490.2,494.4 1491.8,499.7 1492.8,504.5 C1493.9,509.3 1494.5,515.4 1494.8,517.6" stroke-width="1.4949999999999999" fill="none" />
<path d="M1487.9,471.0 C1488.8,473.9 1491.4,483.2 1492.8,488.8 C1494.3,494.4 1495.8,499.6 1496.8,504.5 C1497.7,509.3 1498.4,515.7 1498.7,518.0" stroke-width="1.4949999999999999" fill="none" />
<path d="M1492.1,471.3 C1492.9,474.3 1495.5,483.3 1497.0,488.8 C1498.4,494.3 1499.7,499.5 1500.7,504.5 C1501.6,509.4 1502.3,516.1 1502.6,518.4" stroke-width="1.4949999999999999" fill="none" />
<path d="M1496.2,471.7 C1497.0,474.6 1499.7,483.3 1501.1,488.8 C1502.5,494.2 1503.7,499.5 1504.6,504.5 C1505.5,509.5 1506.2,516.4 1506.6,518.8" stroke-width="1.4949999999999999" fill="none" />
<path d="M1500.3,472.1 C1501.1,474.9 1503.8,483.4 1505.2,488.8 C1506.6,494.2 1507.6,499.4 1508.5,504.5 C1509.4,509.5 1510.1,516.7 1510.5,519.2" stroke-width="1.4949999999999999" fill="none" />
<path d="M1504.4,472.5 C1505.2,475.2 1508.0,483.5 1509.3,488.8 C1510.6,494.1 1511.6,499.3 1512.4,504.5 C1513.3,509.6 1514.1,517.0 1514.4,519.6" stroke-width="1.4949999999999999" fill="none" />
<path d="M1465.0,453.5 L1471.9,446.1 L1505.2,451.9 L1511.7,464.9 L1503.2,473.1 L1471.3,468.2 Z" stroke-width="2.07" fill="#fcfcfc" />
<path d="M1465.0,453.5 L1497.3,459.4 L1503.2,473.1" stroke-width="1.8399999999999999" fill="none" />
<line x1="1497.3" y1="459.4" x2="1505.2" y2="451.9" stroke-width="1.8399999999999999"/>
<path d="M1557.1,640.7 C1558.4,643.1 1563.0,649.6 1565.0,655.4 C1566.9,661.1 1567.5,668.6 1568.9,675.0 C1570.2,681.3 1572.5,690.5 1573.2,693.6" stroke-width="5.75875" fill="none"/>
<path d="M1557.1,640.7 C1558.4,643.1 1563.0,649.6 1565.0,655.4 C1566.9,661.1 1567.5,668.6 1568.9,675.0 C1570.2,681.3 1572.5,690.5 1573.2,693.6" stroke-width="2.31" fill="none" style="stroke:#fcfcfc"/>
<path d="M1462.7,526.0 L1470.9,515.2 L1542.4,526.0 L1580.6,629.9 L1570.8,641.6 L1498.3,628.9 Z" stroke-width="2.3" fill="#fcfcfc" />
<path d="M1462.7,526.0 L1535.6,539.7 L1570.8,641.6" stroke-width="2.07" fill="none" />
<line x1="1535.6" y1="539.7" x2="1542.4" y2="526.0" stroke-width="2.07"/>
<line x1="1542.4" y1="526.0" x2="1580.6" y2="629.9" stroke-width="3.6799999999999997"/>
<line x1="1470.9" y1="515.2" x2="1542.4" y2="526.0" stroke-width="3.2199999999999998"/>
<path d="M1555.2,700.4 L1565.0,689.7 L1591.4,693.6 L1596.3,708.3 L1587.5,719.0 L1561.0,715.1 Z" stroke-width="2.07" fill="#fcfcfc" />
<path d="M1555.2,700.4 L1582.6,704.3 L1587.5,719.0" stroke-width="1.8399999999999999" fill="none" />
<line x1="1582.6" y1="704.3" x2="1591.4" y2="693.6" stroke-width="1.8399999999999999"/>
<path d="M1344.5,728.8 L1418.0,680.4 L1425.8,683.2 L1351.4,734.1 L1345.5,732.8 Z" stroke-width="2.07" fill="#fcfcfc" />
<path d="M1406.2,765.5 L1418.0,772.0 L1493.4,723.9 L1493.4,721.0 L1482.6,715.1 L1482.6,711.2" stroke-width="2.07" fill="#fcfcfc" />
<path d="M1408.2,763.1 L1418.0,768.6 L1492.4,721.6" stroke-width="1.4949999999999999" fill="none" />
<path d="M1338.6,745.9 L1341.6,742.6 L1448.4,670.1 L1455.2,669.5 L1497.3,694.2 L1498.3,701.4 L1387.6,776.9 L1382.7,777.2 L1339.6,754.3 Z" stroke-width="2.3" fill="#fcfcfc" />
<path d="M1338.6,745.9 L1384.7,771.0 L1387.6,776.9" stroke-width="1.8399999999999999" fill="none" />
<path d="M1384.7,771.0 L1442.5,735.7 L1497.9,695.7" stroke-width="1.8399999999999999" fill="none" />
<path d="M1395.4,703.4 L1442.5,728.8 L1442.5,736.7" stroke-width="1.8399999999999999" fill="none" />
<path d="M1047.2,153.7 L1046.9,153.7 L1046.6,153.6 L1046.3,153.5 L1046.0,153.4 L1045.8,153.1 L1045.6,152.9 L1045.4,152.6 L1045.3,152.2 L1045.2,151.8 L1045.2,151.4 L1045.2,150.9 L1045.2,150.5 L1045.3,150.0 L1045.5,149.5 L1045.6,148.9 L1045.8,148.4 L1046.1,147.9 L1046.3,147.4 L1046.6,146.9 L1047.0,146.5 L1047.3,146.0 L1047.7,145.6 L1048.0,145.3 L1048.4,144.9 L1048.8,144.7 L1049.2,144.4 L1049.6,144.3 L1050.0,144.1 L1050.4,144.1 L1050.7,144.0 L1051.0,144.1 L1051.3,144.2 L1051.6,144.3 L1051.9,144.5 L1052.1,144.7 L1052.2,145.0" stroke-width="2.07" fill="none" />
<path d="M1053.2,157.0 L1052.9,157.0 L1052.6,157.0 L1052.3,156.9 L1052.0,156.7 L1051.8,156.5 L1051.6,156.2 L1051.4,155.9 L1051.3,155.5 L1051.2,155.1 L1051.2,154.7 L1051.2,154.3 L1051.2,153.8 L1051.3,153.3 L1051.5,152.8 L1051.6,152.3 L1051.8,151.8 L1052.1,151.2 L1052.3,150.7 L1052.6,150.3 L1053.0,149.8 L1053.3,149.4 L1053.7,149.0 L1054.0,148.6 L1054.4,148.3 L1054.8,148.0 L1055.2,147.8 L1055.6,147.6 L1056.0,147.5 L1056.3,147.4 L1056.7,147.4 L1057.0,147.4 L1057.3,147.5 L1057.6,147.6 L1057.9,147.8 L1058.1,148.1 L1058.2,148.4" stroke-width="2.07" fill="none" />
<path d="M1059.2,160.4 L1058.9,160.4 L1058.6,160.3 L1058.3,160.2 L1058.0,160.0 L1057.8,159.8 L1057.6,159.5 L1057.4,159.2 L1057.3,158.9 L1057.2,158.5 L1057.2,158.1 L1057.2,157.6 L1057.2,157.1 L1057.3,156.6 L1057.5,156.1 L1057.6,155.6 L1057.8,155.1 L1058.1,154.6 L1058.3,154.1 L1058.6,153.6 L1059.0,153.1 L1059.3,152.7 L1059.7,152.3 L1060.0,151.9 L1060.4,151.6 L1060.8,151.3 L1061.2,151.1 L1061.6,150.9 L1062.0,150.8 L1062.3,150.7 L1062.7,150.7 L1063.0,150.7 L1063.3,150.8 L1063.6,151.0 L1063.9,151.2 L1064.1,151.4 L1064.2,151.7" stroke-width="2.07" fill="none" />
<path d="M1065.2,163.7 L1064.9,163.7 L1064.6,163.6 L1064.3,163.5 L1064.0,163.4 L1063.8,163.1 L1063.6,162.9 L1063.4,162.6 L1063.3,162.2 L1063.2,161.8 L1063.2,161.4 L1063.2,160.9 L1063.2,160.5 L1063.3,160.0 L1063.5,159.4 L1063.6,158.9 L1063.8,158.4 L1064.1,157.9 L1064.3,157.4 L1064.6,156.9 L1064.9,156.5 L1065.3,156.0 L1065.7,155.6 L1066.0,155.3 L1066.4,154.9 L1066.8,154.7 L1067.2,154.4 L1067.6,154.2 L1068.0,154.1 L1068.3,154.0 L1068.7,154.0 L1069.0,154.1 L1069.3,154.2 L1069.6,154.3 L1069.8,154.5 L1070.1,154.7 L1070.2,155.0" stroke-width="2.07" fill="none" />
<path d="M1071.2,167.0 L1070.9,167.0 L1070.6,167.0 L1070.3,166.9 L1070.0,166.7 L1069.8,166.5 L1069.6,166.2 L1069.4,165.9 L1069.3,165.5 L1069.2,165.1 L1069.2,164.7 L1069.2,164.3 L1069.2,163.8 L1069.3,163.3 L1069.4,162.8 L1069.6,162.3 L1069.8,161.7 L1070.1,161.2 L1070.3,160.7 L1070.6,160.3 L1070.9,159.8 L1071.3,159.4 L1071.7,159.0 L1072.0,158.6 L1072.4,158.3 L1072.8,158.0 L1073.2,157.8 L1073.6,157.6 L1074.0,157.5 L1074.3,157.4 L1074.7,157.4 L1075.0,157.4 L1075.3,157.5 L1075.6,157.6 L1075.8,157.8 L1076.1,158.1 L1076.2,158.4" stroke-width="2.07" fill="none" />
<ellipse cx="1074.4" cy="163.8" rx="2.4" ry="4.9" stroke-width="2.07" fill="none" transform="rotate(30 1074.4 163.8)" />
<path d="M1104.4,194.4 L1107.7,191.7 L1128.8,203.3 L1128.8,180.0 L1132.2,177.7 L1155.5,191.1 L1155.5,203.3 L1159.9,207.7 L1177.7,201.1 L1182.1,202.2 L1185.5,205.5 L1185.5,222.2 L1159.9,236.6 L1154.4,233.9 L1106.6,226.6 L1104.4,224.4 Z" stroke-width="2.1849999999999996" fill="#fcfcfc" />
<path d="M1128.8,203.3 L1118.8,208.8 L1118.8,196.6" stroke-width="1.6099999999999999" fill="none" />
<path d="M1107.7,191.7 L1107.7,196.6 L1127.7,207.7 L1127.7,217.7" stroke-width="1.7249999999999999" fill="none" />
<path d="M1109.9,227.7 L1109.9,212.2 L1127.7,217.7 L1159.9,234.4" stroke-width="1.8399999999999999" fill="none" />
<path d="M1127.7,207.7 L1152.1,194.4 L1155.5,196.6" stroke-width="1.7249999999999999" fill="none" />
<path d="M1132.2,177.7 L1132.2,190.0 L1151.0,200.6 L1151.0,194.4" stroke-width="1.7249999999999999" fill="none" />
<path d="M1121.5,195.5 L1127.7,192.2 L1134.4,196.2 L1127.7,200.0 Z" stroke-width="1.6099999999999999" fill="none" />
<path d="M1127.7,213.3 L1151.0,201.1 L1168.8,211.1 L1153.3,218.8 L1153.3,229.9" stroke-width="1.7249999999999999" fill="none" />
<path d="M1153.3,218.8 L1159.9,221.1 L1177.7,211.1 L1177.7,201.1" stroke-width="1.7249999999999999" fill="none" />
<line x1="1159.9" y1="221.1" x2="1159.9" y2="236.6" stroke-width="1.7249999999999999"/>
<line x1="1175.5" y1="212.2" x2="1175.5" y2="227.7" stroke-width="1.4949999999999999"/>
<path d="M1236.5,274.3 C1237.6,276.2 1238.7,281.4 1243.2,285.5 C1247.6,289.5 1254.3,295.4 1263.2,298.8 C1272.1,302.1 1286.5,302.7 1296.5,305.4 C1306.5,308.2 1318.7,313.8 1323.1,315.4" stroke-width="2.9899999999999998" fill="none" />
<path d="M1267.6,255.5 C1267.8,258.2 1266.9,267.5 1268.7,272.1 C1270.6,276.8 1272.2,279.5 1278.7,283.2 C1285.2,286.9 1298.2,290.3 1307.6,294.3 C1317.0,298.4 1330.7,305.4 1335.4,307.7" stroke-width="2.9899999999999998" fill="none" />
<path d="M1191.7,255.5 L1253.2,221.7 L1282.1,237.7 L1282.1,258.1 L1222.8,291.4 L1191.7,275.9 Z" stroke-width="2.1849999999999996" fill="#fcfcfc" />
<path d="M1191.7,255.5 L1222.8,271.0 L1282.1,237.7" stroke-width="2.1849999999999996" fill="none" />
<line x1="1222.8" y1="271.0" x2="1222.8" y2="291.4" stroke-width="2.1849999999999996"/>
<line x1="1211.9" y1="265.6" x2="1211.9" y2="286.0" stroke-width="1.38"/>
<path d="M1216.5,272.1 L1225.4,276.6 L1225.4,289.9 L1216.5,285.5 Z" fill="#fcfcfc" style="stroke:none"/>
<line x1="1222.8" y1="271.0" x2="1222.8" y2="292.1" stroke-width="2.1849999999999996"/>
<ellipse cx="1229.9" cy="257.7" rx="5.6" ry="3.6" stroke-width="1.8399999999999999" fill="none" />
<ellipse cx="1258.3" cy="241.0" rx="5.6" ry="3.6" stroke-width="1.8399999999999999" fill="none" />
<line x1="1228.8" y1="277.7" x2="1237.6" y2="273.2" stroke-width="3.4499999999999997"/>
<line x1="1266.5" y1="255.5" x2="1274.3" y2="251.7" stroke-width="3.4499999999999997"/>
<path d="M1319.8,314.3 L1340.9,303.2 L1362.0,314.3 L1362.0,326.5 L1339.8,337.6 L1319.8,326.5 Z" stroke-width="1.9549999999999998" fill="#fcfcfc" />
<path d="M1319.8,314.3 L1339.8,325.4 L1362.0,314.3" stroke-width="1.9549999999999998" fill="none" />
<line x1="1339.8" y1="325.4" x2="1339.8" y2="337.6" stroke-width="1.9549999999999998"/>
<line x1="1332.8" y1="321.5" x2="1332.8" y2="333.8" stroke-width="1.38"/>
<path d="M1248.7,437.6 L1254.3,432.0 L1289.8,411.6 L1305.4,411.6 L1312.0,417.6 L1312.0,425.4 L1271.0,449.8 L1256.5,449.8 L1248.7,444.2 Z" stroke-width="2.07" fill="#fcfcfc" />
<path d="M1248.7,437.6 L1256.5,444.2 L1271.0,444.2 L1312.0,419.8" stroke-width="1.6099999999999999" fill="none" />
<path d="M1257.8,424.5 L1257.6,424.3 L1257.3,424.1 L1257.1,423.9 L1256.9,423.6 L1256.8,423.2 L1256.6,422.9 L1256.6,422.5 L1256.5,422.1 L1256.5,421.6 L1256.5,421.2 L1256.5,420.7 L1256.6,420.2 L1256.7,419.7 L1256.9,419.2 L1257.0,418.7 L1257.2,418.2 L1257.5,417.8 L1257.7,417.3 L1258.0,416.8 L1258.3,416.4 L1258.6,415.9 L1259.0,415.5 L1259.3,415.2 L1259.7,414.8 L1260.1,414.5 L1260.5,414.3 L1260.9,414.0 L1261.3,413.8 L1261.7,413.7 L1262.0,413.5 L1262.4,413.5 L1262.8,413.4 L1263.1,413.5 L1263.5,413.5 L1263.8,413.6 L1264.1,413.8 L1273.7,419.3 L1267.5,430.1 Z" stroke-width="1.9549999999999998" fill="#fcfcfc" />
<ellipse cx="1270.6" cy="424.7" rx="3.7" ry="6.2" stroke-width="1.9549999999999998" fill="#fcfcfc" transform="rotate(30 1270.6 424.7)" />
<ellipse cx="1271.0" cy="424.2" rx="4.5" ry="7.6" stroke-width="1.9549999999999998" fill="none" transform="rotate(30 1271.0 424.2)" />
<line x1="1276.5" y1="423.1" x2="1285.4" y2="429.8" stroke-width="1.8399999999999999"/>
<line x1="1274.3" y1="428.7" x2="1280.9" y2="433.1" stroke-width="1.8399999999999999"/>
<line x1="1278.7" y1="419.8" x2="1283.2" y2="422.7" stroke-width="2.53"/>
<path d="M1268.7,437.6 C1271.5,438.1 1278.9,437.8 1285.4,440.9 C1291.9,444.0 1298.7,449.0 1307.6,456.4 C1316.5,463.9 1333.5,480.5 1338.7,485.3" stroke-width="1.7249999999999999" fill="none" />
<path d="M1290.9,425.4 C1292.2,427.2 1295.6,430.9 1298.7,436.5 C1301.9,442.0 1303.0,450.9 1309.8,458.7 C1316.7,466.4 1334.8,479.0 1339.8,483.1" stroke-width="1.7249999999999999" fill="none" />
<path d="M1333.8,483.1 L1345.3,475.3 L1357.6,480.9 L1357.6,490.2 L1345.3,499.1 L1333.8,492.4 Z" stroke-width="1.8399999999999999" fill="#fcfcfc" />
<path d="M1333.8,483.1 L1345.3,489.8 L1357.6,480.9" stroke-width="1.8399999999999999" fill="none" />
<line x1="1345.3" y1="489.8" x2="1345.3" y2="499.1" stroke-width="1.8399999999999999"/>
<line x1="1341.3" y1="487.4" x2="1341.3" y2="496.8" stroke-width="1.38"/>
<path d="M5.7,2339.0 L53.2,2367.7" stroke-width="8.29325" fill="none"/>
<path d="M5.7,2339.0 L53.2,2367.7" stroke-width="4.38" fill="none" style="stroke:#fcfcfc"/>
<path d="M5.7,2408.0 L50.3,2435.3" stroke-width="8.29325" fill="none"/>
<path d="M5.7,2408.0 L50.3,2435.3" stroke-width="4.38" fill="none" style="stroke:#fcfcfc"/>
<path d="M90.5,2298.7 C91.5,2296.9 92.5,2291.7 94.8,2291.6 C97.2,2291.4 108.6,2296.5 110.6,2297.3 C112.7,2298.1 109.1,2296.9 112.1,2298.7 C115.1,2300.6 130.8,2309.8 136.5,2313.1 C142.2,2316.5 156.1,2325.3 160.9,2327.5 C165.8,2329.7 173.5,2332.0 178.2,2331.8 C182.9,2331.6 197.5,2327.2 201.2,2326.0 C204.9,2324.9 206.4,2320.6 209.8,2321.7 C213.2,2322.9 226.7,2333.1 229.9,2336.1 C233.1,2339.1 227.5,2340.7 237.1,2347.6 C246.7,2354.5 301.9,2389.6 311.8,2395.0 C321.7,2400.4 317.5,2392.1 321.9,2394.2 C326.2,2396.2 342.1,2407.0 349.2,2412.3 C356.2,2417.6 374.7,2433.4 382.2,2439.6 C389.8,2445.8 409.3,2459.7 413.9,2465.4 C418.4,2471.1 420.0,2480.0 421.0,2488.4 C422.0,2496.8 422.3,2525.9 422.5,2537.3 C422.6,2548.7 423.5,2578.4 422.5,2586.1 C421.5,2593.8 418.5,2600.2 413.9,2603.4 C409.2,2606.6 386.4,2610.6 382.2,2613.4 C378.0,2616.3 379.3,2624.6 377.9,2627.8 C376.6,2631.0 370.9,2638.7 370.7,2640.7 C370.6,2642.8 376.2,2642.0 376.5,2645.1 C376.8,2648.1 376.3,2663.4 373.6,2666.6 C370.9,2669.8 359.5,2670.5 353.5,2672.4 C347.5,2674.2 327.6,2680.1 321.9,2682.4 C316.2,2684.8 306.8,2690.9 304.6,2692.5 C302.5,2694.0 303.2,2692.7 303.2,2695.7 C303.2,2698.8 302.5,2709.4 304.6,2718.7 C306.8,2728.1 317.2,2756.1 321.9,2776.2 C326.6,2796.3 340.9,2869.4 344.9,2891.2 C348.9,2913.0 354.4,2951.3 356.4,2963.0 C358.4,2974.8 360.4,2986.7 362.1,2991.8 C363.8,2996.8 370.4,3002.8 370.7,3006.1 C371.1,3009.5 363.7,3015.8 365.0,3020.5 C366.3,3025.2 379.7,3040.3 382.2,3046.4 C384.8,3052.4 385.7,3068.4 386.5,3072.2 C387.4,3076.1 387.2,3077.6 389.4,3079.4 C391.6,3081.3 402.9,3084.7 405.2,3088.0 C407.6,3091.4 413.6,3103.6 409.5,3108.2 C405.5,3112.7 380.0,3122.3 370.7,3126.8 C361.5,3131.4 345.6,3144.6 330.5,3147.0 C315.4,3149.3 260.5,3150.1 241.4,3147.0 C222.3,3143.8 184.1,3126.0 166.7,3119.7 C149.3,3113.3 103.4,3100.6 92.0,3092.4 C80.6,3084.1 73.0,3057.6 69.0,3049.2 C65.0,3040.9 59.0,3026.2 57.5,3020.5 C56.0,3014.8 55.5,3005.4 56.0,3000.4 C56.5,2995.4 58.9,2983.4 61.8,2977.4 C64.6,2971.4 74.3,2955.7 80.5,2948.7 C86.7,2941.6 108.8,2922.1 115.0,2917.0 C121.2,2911.9 129.6,2906.1 133.6,2905.0 C137.7,2903.8 146.6,2905.9 149.4,2907.0 C152.3,2908.1 156.7,2912.7 158.1,2914.2 C159.4,2915.7 164.1,2917.6 160.9,2919.9 C157.8,2922.3 130.6,2931.3 130.8,2934.3 C130.9,2937.3 157.2,2945.1 162.4,2945.8 C167.6,2946.5 172.1,2942.4 175.3,2940.0 C178.5,2937.7 187.3,2930.0 189.7,2925.7 C192.0,2921.3 195.8,2909.4 195.4,2902.7 C195.1,2896.0 189.5,2877.9 186.8,2868.2 C184.1,2858.5 175.1,2830.1 172.4,2819.3 C169.8,2808.6 165.2,2791.7 163.8,2776.2 C162.5,2760.7 162.3,2702.5 160.9,2686.7 C159.6,2670.9 154.3,2649.1 152.3,2640.7 C150.3,2632.4 147.1,2620.2 143.7,2614.9 C140.3,2609.5 129.3,2598.8 123.6,2594.8 C117.9,2590.7 100.9,2584.1 94.8,2580.4 C88.8,2576.7 76.2,2567.5 71.8,2563.1 C67.5,2558.8 59.5,2548.7 57.5,2543.0 C55.5,2537.3 55.1,2524.3 54.6,2514.3 C54.1,2504.2 53.8,2468.5 53.2,2456.8 C52.5,2445.1 49.0,2423.8 48.9,2413.7 C48.7,2403.6 50.2,2380.0 51.7,2370.6 C53.2,2361.2 57.8,2340.6 61.8,2333.2 C65.8,2325.9 82.9,2311.4 86.2,2307.4 C89.6,2303.3 89.5,2300.6 90.5,2298.7 Z" stroke-width="2.3" fill="#fcfcfc" />
<path d="M222.7,2357.7 L298.9,2403.6 L321.9,2394.2" stroke-width="2.07" fill="none" />
<path d="M94.8,2310.2 C95.8,2313.1 96.3,2322.7 100.6,2327.5 C104.9,2332.3 110.6,2335.6 120.7,2339.0 C130.8,2342.3 147.5,2346.4 160.9,2347.6 C174.4,2348.8 191.1,2347.8 201.2,2346.2 C211.2,2344.5 216.5,2336.3 221.3,2337.5 C226.1,2338.7 229.7,2350.0 229.9,2353.3 C230.2,2356.7 223.9,2356.9 222.7,2357.7" stroke-width="1.9549999999999998" fill="none" />
<path d="M222.7,2356.2 C219.1,2357.7 209.6,2363.2 201.2,2364.8 C192.8,2366.5 181.1,2364.8 172.4,2366.3 C163.8,2367.7 154.7,2369.4 149.4,2373.5 C144.2,2377.5 141.8,2384.0 140.8,2390.7 C139.9,2397.4 142.3,2406.0 143.7,2413.7 C145.1,2421.4 148.5,2432.9 149.4,2436.7" stroke-width="1.9549999999999998" fill="none" />
<line x1="70.4" y1="2337.5" x2="135.1" y2="2373.5" stroke-width="1.7249999999999999"/>
<path d="M87.7,2321.7 C88.4,2318.9 89.8,2307.8 92.0,2304.5 C94.1,2301.1 99.2,2302.1 100.6,2301.6" stroke-width="1.7249999999999999" fill="none" />
<path d="M172.4,2359.1 C170.8,2361.2 168.1,2366.8 168.1,2370.6 C168.1,2374.4 170.0,2381.6 172.4,2382.1 C174.8,2382.6 181.5,2377.5 182.5,2373.5 C183.5,2369.4 179.9,2360.1 178.2,2357.7 C176.5,2355.3 174.1,2356.9 172.4,2359.1 Z" stroke-width="1.9549999999999998" fill="none" />
<ellipse cx="190.3" cy="2412.8" rx="12.1" ry="19.0" stroke-width="2.07" fill="none" transform="rotate(25 190.3 2412.8)" />
<path d="M349.2,2412.3 C343.7,2416.8 326.0,2428.8 316.1,2439.6 C306.3,2450.3 296.7,2464.0 290.3,2476.9 C283.8,2489.9 280.0,2503.8 277.3,2517.2 C274.7,2530.6 274.3,2544.9 274.5,2557.4 C274.6,2569.9 278.4,2581.8 278.2,2591.9 C278.0,2601.9 276.0,2611.1 273.0,2617.8 C270.0,2624.4 264.9,2628.9 260.1,2631.5 C255.3,2634.2 246.9,2633.2 244.3,2633.6" stroke-width="1.9549999999999998" fill="none" />
<path d="M405.2,2475.5 C400.0,2482.0 381.3,2501.6 373.6,2514.3 C366.0,2527.0 361.9,2540.6 359.2,2551.6 C356.6,2562.7 355.4,2571.3 357.8,2580.4 C360.2,2589.5 371.0,2601.9 373.6,2606.3" stroke-width="1.9549999999999998" fill="none" />
<path d="M260.1,2571.8 C269.4,2576.1 299.6,2590.9 316.1,2597.6 C332.7,2604.3 348.2,2609.4 359.2,2612.0 C370.3,2614.6 378.4,2613.2 382.2,2613.4" stroke-width="1.9549999999999998" fill="none" />
<path d="M337.7,2597.6 C339.6,2598.6 345.6,2601.0 349.2,2603.4 C352.8,2605.8 357.6,2610.6 359.2,2612.0" stroke-width="1.6099999999999999" fill="none" />
<ellipse cx="350.6" cy="2502.2" rx="11.5" ry="17.8" stroke-width="2.07" fill="none" transform="rotate(20 350.6 2502.2)" />
<path d="M364.1,2492.4 L364.1,2493.0 L364.1,2493.5 L364.1,2494.0 L364.1,2494.6 L364.1,2495.1 L364.0,2495.7 L363.9,2496.2 L363.9,2496.8 L363.8,2497.4 L363.7,2498.0 L363.5,2498.5 L363.4,2499.1 L363.3,2499.7 L363.1,2500.3 L362.9,2500.9 L362.8,2501.5 L362.6,2502.0 L362.4,2502.6 L362.1,2503.2 L361.9,2503.8 L361.7,2504.3 L361.4,2504.9 L361.2,2505.4 L360.9,2506.0 L360.6,2506.5 L360.4,2507.0 L360.1,2507.5 L359.8,2508.0 L359.5,2508.5 L359.1,2509.0 L358.8,2509.5 L358.5,2509.9 L358.2,2510.3 L357.8,2510.8 L357.5,2511.2 L357.2,2511.5" stroke-width="1.4949999999999999" fill="none" />
<path d="M284.5,2510.0 L297.5,2478.4 L304.6,2481.2 L291.7,2512.9 Z" stroke-width="1.7249999999999999" fill="none" />
<path d="M294.6,2515.7 L306.1,2484.1 L311.8,2485.5 L299.5,2517.7 Z" stroke-width="1.7249999999999999" fill="none" />
<path d="M281.6,2561.7 L286.0,2563.1 L296.0,2586.1 L291.7,2584.7 Z" stroke-width="1.7249999999999999" fill="none" />
<path d="M288.8,2567.5 L293.1,2568.9 L301.8,2589.0 L298.9,2588.4 Z" stroke-width="1.7249999999999999" fill="none" />
<path d="M81.0,2410.8 L83.3,2405.1 L89.1,2407.4 L227.0,2487.0 L230.8,2492.7 L231.4,2533.0 L228.5,2537.3 L224.2,2535.8 L84.8,2456.8 L81.0,2451.1 Z" stroke-width="1.9549999999999998" fill="none" />
<path d="M80.5,2502.8 L83.3,2497.0 L89.1,2499.3 L241.4,2587.6 L245.7,2593.3 L246.0,2640.7 L242.9,2644.2 L238.5,2642.2 L84.8,2553.1 L80.5,2547.3 Z" stroke-width="1.9549999999999998" fill="none" />
<path d="M87.7,2456.8 L89.1,2476.9 L74.7,2471.2 L73.3,2557.4" stroke-width="1.8399999999999999" fill="none" />
<path d="M89.1,2468.3 L260.1,2566.0 L257.2,2574.6 L92.0,2478.4 L89.1,2476.9" stroke-width="1.8399999999999999" fill="none" />
<path d="M224.2,2458.2 L228.5,2456.2 L245.7,2467.7 L242.9,2474.6 Z" stroke-width="1.8399999999999999" fill="none" />
<path d="M219.9,2547.3 L241.4,2557.4 L240.8,2563.1 L219.9,2553.1 Z" stroke-width="1.8399999999999999" fill="none" />
<line x1="220.7" y1="2553.1" x2="240.8" y2="2563.1" stroke-width="2.53"/>
<ellipse cx="175.3" cy="2538.7" rx="9.2" ry="12.9" stroke-width="1.9549999999999998" fill="none" transform="rotate(-10 175.3 2538.7)" />
<path d="M179.4,2527.1 L179.8,2527.5 L180.2,2527.8 L180.6,2528.2 L180.9,2528.7 L181.3,2529.2 L181.6,2529.7 L182.0,2530.2 L182.3,2530.8 L182.6,2531.4 L182.9,2532.0 L183.1,2532.6 L183.4,2533.3 L183.6,2534.0 L183.9,2534.7 L184.1,2535.4 L184.3,2536.1 L184.4,2536.9 L184.6,2537.6 L184.7,2538.3 L184.8,2539.1 L184.8,2539.8 L184.9,2540.6 L184.9,2541.3 L184.9,2542.0 L184.9,2542.7 L184.9,2543.4 L184.8,2544.1 L184.7,2544.8 L184.6,2545.4 L184.5,2546.0 L184.4,2546.6 L184.2,2547.2 L184.0,2547.8 L183.8,2548.3 L183.6,2548.7 L183.3,2549.2" stroke-width="1.4949999999999999" fill="none" />
<line x1="54.6" y1="2522.9" x2="245.7" y2="2632.7" stroke-width="1.8399999999999999"/>
<path d="M64.7,2487.0 C65.6,2486.3 69.2,2485.3 70.4,2482.7 C71.6,2480.0 71.6,2473.1 71.8,2471.2" stroke-width="1.4949999999999999" fill="none" />
<line x1="58.9" y1="2459.7" x2="71.8" y2="2468.3" stroke-width="1.4949999999999999"/>
<path d="M81.9,2560.3 L100.6,2568.9 L102.0,2563.1 L117.8,2585.6 L99.2,2579.8 L100.6,2574.6 L83.3,2566.0 Z" stroke-width="1.8399999999999999" fill="none" />
<path d="M130.8,2596.2 C129.3,2593.8 137.7,2596.3 143.7,2600.5 C149.7,2604.7 165.3,2618.8 166.7,2621.2 C168.1,2623.6 158.3,2619.0 152.3,2614.9 C146.3,2610.7 132.2,2598.6 130.8,2596.2 Z" stroke-width="1.8399999999999999" fill="none" />
<path d="M353.5,2614.9 C352.8,2619.7 349.4,2635.0 349.2,2643.6 C348.9,2652.2 351.6,2662.8 352.1,2666.6" stroke-width="1.6099999999999999" fill="none" />
<path d="M370.7,2640.7 C371.2,2641.2 372.7,2642.9 373.6,2643.6 C374.6,2644.3 376.0,2644.8 376.5,2645.1" stroke-width="1.8399999999999999" fill="none" />
<path d="M165.3,2644.0 C163.7,2656.9 170.7,2716.2 172.4,2733.1 C174.2,2750.0 175.9,2763.6 178.2,2770.5 C180.5,2777.4 187.0,2781.4 189.7,2784.8 C192.4,2788.3 197.5,2793.7 198.3,2796.3 C199.1,2799.0 197.0,2803.0 195.4,2805.0 C193.9,2806.9 187.4,2804.6 186.8,2810.7 C186.2,2816.8 190.0,2841.0 191.1,2850.9 C192.3,2860.9 193.3,2878.5 195.4,2885.4 C197.5,2892.3 197.7,2897.7 206.9,2902.7 C216.1,2907.7 255.6,2920.9 264.4,2922.8 C273.2,2924.7 272.3,2923.6 273.0,2917.0 C273.8,2910.5 272.1,2885.0 270.2,2873.9 C268.2,2862.8 261.0,2839.8 258.7,2833.7 C256.4,2827.6 255.6,2829.9 252.9,2828.0 C250.2,2826.0 241.2,2822.4 238.5,2819.3 C235.9,2816.3 232.8,2808.4 232.8,2805.0 C232.8,2801.5 236.2,2795.4 238.5,2793.5 C240.8,2791.5 249.3,2793.7 250.0,2790.6 C250.8,2787.5 247.7,2780.1 244.3,2770.5 C240.8,2760.9 229.9,2733.7 224.2,2718.7 C218.4,2703.8 206.5,2669.3 201.2,2658.4 C195.8,2647.5 188.7,2638.7 183.9,2636.8 C179.1,2634.9 166.8,2631.2 165.3,2644.0 Z" stroke-width="5.25875" fill="none"/>
<path d="M165.3,2644.0 C163.7,2656.9 170.7,2716.2 172.4,2733.1 C174.2,2750.0 175.9,2763.6 178.2,2770.5 C180.5,2777.4 187.0,2781.4 189.7,2784.8 C192.4,2788.3 197.5,2793.7 198.3,2796.3 C199.1,2799.0 197.0,2803.0 195.4,2805.0 C193.9,2806.9 187.4,2804.6 186.8,2810.7 C186.2,2816.8 190.0,2841.0 191.1,2850.9 C192.3,2860.9 193.3,2878.5 195.4,2885.4 C197.5,2892.3 197.7,2897.7 206.9,2902.7 C216.1,2907.7 255.6,2920.9 264.4,2922.8 C273.2,2924.7 272.3,2923.6 273.0,2917.0 C273.8,2910.5 272.1,2885.0 270.2,2873.9 C268.2,2862.8 261.0,2839.8 258.7,2833.7 C256.4,2827.6 255.6,2829.9 252.9,2828.0 C250.2,2826.0 241.2,2822.4 238.5,2819.3 C235.9,2816.3 232.8,2808.4 232.8,2805.0 C232.8,2801.5 236.2,2795.4 238.5,2793.5 C240.8,2791.5 249.3,2793.7 250.0,2790.6 C250.8,2787.5 247.7,2780.1 244.3,2770.5 C240.8,2760.9 229.9,2733.7 224.2,2718.7 C218.4,2703.8 206.5,2669.3 201.2,2658.4 C195.8,2647.5 188.7,2638.7 183.9,2636.8 C179.1,2634.9 166.8,2631.2 165.3,2644.0 Z" stroke-width="1.81" fill="none" style="stroke:#fcfcfc"/>
<ellipse cx="183.9" cy="2787.7" rx="8.0" ry="12.9" stroke-width="1.9549999999999998" fill="#fcfcfc" transform="rotate(-10 183.9 2787.7)" />
<ellipse cx="252.3" cy="2813.6" rx="12.9" ry="12.1" stroke-width="1.9549999999999998" fill="#fcfcfc" />
<path d="M187.8,2778.1 L188.3,2778.3 L188.8,2778.6 L189.3,2778.9 L189.7,2779.2 L190.2,2779.6 L190.6,2780.1 L191.0,2780.6 L191.4,2781.1 L191.8,2781.7 L192.2,2782.3 L192.5,2782.9 L192.8,2783.6 L193.1,2784.3 L193.4,2785.0 L193.6,2785.7 L193.8,2786.4 L194.0,2787.2 L194.2,2788.0 L194.3,2788.7 L194.4,2789.5 L194.4,2790.3 L194.5,2791.0 L194.5,2791.8 L194.4,2792.5 L194.3,2793.3 L194.2,2794.0 L194.1,2794.7 L193.9,2795.3 L193.7,2796.0 L193.5,2796.6 L193.2,2797.1 L193.0,2797.7 L192.6,2798.2 L192.3,2798.6 L192.0,2799.0 L191.6,2799.4" stroke-width="1.4949999999999999" fill="none" />
<ellipse cx="183.9" cy="2711.6" rx="3.4" ry="5.2" stroke-width="1.7249999999999999" fill="none" transform="rotate(-20 183.9 2711.6)" />
<ellipse cx="194.9" cy="2708.1" rx="3.4" ry="5.2" stroke-width="1.7249999999999999" fill="none" transform="rotate(-20 194.9 2708.1)" />
<ellipse cx="205.8" cy="2704.7" rx="3.4" ry="5.2" stroke-width="1.7249999999999999" fill="none" transform="rotate(-20 205.8 2704.7)" />
<ellipse cx="190.3" cy="2725.9" rx="3.4" ry="5.2" stroke-width="1.7249999999999999" fill="none" transform="rotate(-20 190.3 2725.9)" />
<ellipse cx="201.2" cy="2722.5" rx="3.4" ry="5.2" stroke-width="1.7249999999999999" fill="none" transform="rotate(-20 201.2 2722.5)" />
<ellipse cx="212.1" cy="2719.0" rx="3.4" ry="5.2" stroke-width="1.7249999999999999" fill="none" transform="rotate(-20 212.1 2719.0)" />
<ellipse cx="196.6" cy="2740.3" rx="3.4" ry="5.2" stroke-width="1.7249999999999999" fill="none" transform="rotate(-20 196.6 2740.3)" />
<ellipse cx="207.5" cy="2736.8" rx="3.4" ry="5.2" stroke-width="1.7249999999999999" fill="none" transform="rotate(-20 207.5 2736.8)" />
<ellipse cx="218.4" cy="2733.4" rx="3.4" ry="5.2" stroke-width="1.7249999999999999" fill="none" transform="rotate(-20 218.4 2733.4)" />
<path d="M205.5,2751.8 C206.0,2751.1 207.2,2747.7 208.4,2747.5 C209.6,2747.2 212.0,2749.9 212.7,2750.4" stroke-width="1.6099999999999999" fill="none" />
<path d="M215.5,2748.9 C216.0,2748.2 217.2,2744.8 218.4,2744.6 C219.6,2744.4 222.0,2747.0 222.7,2747.5" stroke-width="1.6099999999999999" fill="none" />
<path d="M179.6,2695.7 C180.1,2696.2 181.5,2698.9 182.5,2698.6 C183.5,2698.4 184.9,2695.0 185.4,2694.3" stroke-width="1.6099999999999999" fill="none" />
<path d="M188.2,2692.9 C188.7,2693.4 190.2,2696.0 191.1,2695.7 C192.1,2695.5 193.5,2692.2 194.0,2691.4" stroke-width="1.6099999999999999" fill="none" />
<path d="M160.9,2730.2 L165.3,2728.8 L172.4,2738.9" stroke-width="1.7249999999999999" fill="none" />
<path d="M281.6,2687.1 C277.8,2690.5 263.4,2698.1 258.7,2707.2 C253.9,2716.3 253.9,2736.0 252.9,2741.7" stroke-width="1.8399999999999999" fill="none" />
<path d="M66.1,3004.7 C74.2,3006.4 92.4,3007.3 115.0,3014.8 C137.5,3022.2 177.2,3041.1 201.2,3049.2 C225.1,3057.4 239.5,3061.2 258.7,3063.6 C277.8,3066.0 297.9,3066.0 316.1,3063.6 C334.3,3061.2 359.2,3051.6 367.9,3049.2" stroke-width="1.9549999999999998" fill="none" />
<path d="M186.8,2945.8 C187.3,2948.2 184.9,2954.4 189.7,2960.2 C194.5,2965.9 199.3,2973.8 215.5,2980.3 C231.8,2986.7 275.4,2995.8 287.4,2999.0" stroke-width="1.6099999999999999" fill="none" />
<path d="M309.0,2999.0 C312.5,2998.2 324.0,2996.3 330.5,2994.6 C337.0,2993.0 344.9,2989.9 347.8,2988.9" stroke-width="1.6099999999999999" fill="none" />
<path d="M287.4,3089.5 C288.8,3085.9 281.6,3087.6 296.0,3082.3 C310.4,3077.0 360.2,3057.6 373.6,3057.9 C387.0,3058.1 388.5,3075.4 376.5,3083.7 C364.5,3092.1 316.6,3104.8 301.8,3108.2 C286.9,3111.5 289.8,3107.0 287.4,3103.9 C285.0,3100.7 286.0,3093.1 287.4,3089.5 Z" stroke-width="1.9549999999999998" fill="none" />
<path d="M350.6,3069.4 L372.2,3060.7 L375.1,3082.3 L359.2,3073.7" stroke-width="1.6099999999999999" fill="none" />
<ellipse cx="358.7" cy="3068.8" rx="3.4" ry="2.9" stroke-width="1.4949999999999999" fill="none" />
<ellipse cx="63.8" cy="3026.3" rx="3.2" ry="11.5" stroke-width="1.7249999999999999" fill="none" transform="rotate(-8 63.8 3026.3)" />
<path d="M353.5,3009.0 L367.9,3023.4 L382.2,3046.4" stroke-width="1.7249999999999999" fill="none" />
<line x1="386.5" y1="3072.2" x2="392.3" y2="3099.5" stroke-width="1.7249999999999999"/>
<line x1="359.2" y1="3007.6" x2="366.4" y2="3006.1" stroke-width="1.4949999999999999"/>
<line x1="395.2" y1="3090.1" x2="400.1" y2="3088.9" stroke-width="1.4949999999999999"/>
<path d="M130.8,2927.1 L158.1,2914.2" stroke-width="1.7249999999999999" fill="none" />
<path d="M130.8,2934.3 L130.8,2927.1" stroke-width="1.7249999999999999" fill="none" />
<line x1="135.1" y1="2930.0" x2="160.9" y2="2918.5" stroke-width="1.4949999999999999"/>
<path d="M89.1,2842.3 L137.4,2818.8" stroke-width="11.79325" fill="none"/>
<path d="M89.1,2842.3 L137.4,2818.8" stroke-width="7.88" fill="none" style="stroke:#fcfcfc"/>
<path d="M94.0,2834.3 C94.6,2835.1 96.9,2837.6 97.4,2839.4 C97.9,2841.3 96.9,2844.2 96.9,2845.2" stroke-width="1.6099999999999999" fill="none" />
<path d="M100.0,2831.3 C100.6,2832.2 103.0,2834.7 103.5,2836.5 C103.9,2838.3 103.0,2841.3 102.9,2842.2" stroke-width="1.6099999999999999" fill="none" />
<path d="M106.0,2828.4 C106.6,2829.2 109.0,2831.7 109.5,2833.5 C110.0,2835.3 109.0,2838.3 108.9,2839.3" stroke-width="1.6099999999999999" fill="none" />
<path d="M112.1,2825.4 C112.7,2826.3 115.1,2828.7 115.5,2830.6 C116.0,2832.4 115.1,2835.4 115.0,2836.3" stroke-width="1.6099999999999999" fill="none" />
<path d="M118.1,2822.4 C118.7,2823.3 121.1,2825.8 121.6,2827.6 C122.0,2829.4 121.1,2832.4 121.0,2833.4" stroke-width="1.6099999999999999" fill="none" />
<path d="M124.2,2819.5 C124.7,2820.3 127.1,2822.8 127.6,2824.6 C128.1,2826.5 127.1,2829.4 127.0,2830.4" stroke-width="1.6099999999999999" fill="none" />
<path d="M130.2,2816.5 C130.8,2817.4 133.2,2819.9 133.6,2821.7 C134.1,2823.5 133.2,2826.5 133.1,2827.4" stroke-width="1.6099999999999999" fill="none" />
<path d="M66.1,2845.2 C67.2,2841.4 69.0,2838.2 71.8,2836.6 C74.7,2834.9 80.0,2834.2 83.3,2835.1 C86.7,2836.1 90.4,2839.2 92.0,2842.3 C93.5,2845.4 93.5,2850.2 92.5,2853.8 C91.6,2857.4 89.2,2862.0 86.2,2863.9 C83.2,2865.8 78.2,2866.0 74.7,2865.3 C71.3,2864.6 67.0,2862.9 65.5,2859.6 C64.1,2856.2 65.0,2849.0 66.1,2845.2 Z" stroke-width="2.07" fill="#fcfcfc" />
<ellipse cx="73.3" cy="2852.4" rx="9.2" ry="12.1" stroke-width="1.7249999999999999" fill="none" transform="rotate(20 73.3 2852.4)" />
<line x1="69.0" y1="2849.5" x2="76.2" y2="2856.7" stroke-width="1.4949999999999999"/>
<line x1="75.3" y1="2848.6" x2="69.8" y2="2858.1" stroke-width="1.4949999999999999"/>
<path d="M87.7,2837.1 L88.1,2837.5 L88.5,2838.0 L88.8,2838.5 L89.1,2839.1 L89.4,2839.8 L89.6,2840.5 L89.7,2841.3 L89.8,2842.1 L89.9,2843.0 L89.9,2843.9 L89.9,2844.8 L89.8,2845.8 L89.7,2846.8 L89.5,2847.8 L89.3,2848.8 L89.0,2849.8 L88.7,2850.9 L88.4,2851.9 L88.0,2852.9 L87.6,2853.8 L87.1,2854.8 L86.6,2855.7 L86.1,2856.6 L85.6,2857.4 L85.0,2858.2 L84.4,2859.0 L83.8,2859.6 L83.2,2860.3 L82.6,2860.8 L82.0,2861.3 L81.4,2861.7 L80.8,2862.1 L80.1,2862.3 L79.5,2862.5 L79.0,2862.6 L78.4,2862.7" stroke-width="1.4949999999999999" fill="none" />
<path d="M474.0,2530.0 C474.9,2525.1 476.4,2525.0 479.2,2522.9 C482.1,2520.7 487.3,2518.3 491.0,2517.2 C494.7,2516.2 497.5,2516.3 501.4,2516.3 C505.4,2516.4 508.8,2515.6 514.5,2517.6 C520.2,2519.7 528.2,2524.8 535.4,2528.5 C542.6,2532.2 553.7,2533.7 557.6,2539.8 C561.5,2546.0 557.2,2550.2 558.9,2565.3 C560.7,2580.4 565.7,2613.8 568.1,2630.6 C570.5,2647.5 572.4,2655.5 573.3,2666.6 C574.2,2677.7 576.6,2690.4 573.3,2697.3 C570.0,2704.2 560.0,2704.5 553.7,2708.0 C547.4,2711.5 540.4,2717.8 535.4,2718.2 C530.4,2718.5 527.4,2714.5 523.7,2710.3 C519.9,2706.2 516.9,2702.3 513.2,2693.3 C509.5,2684.4 505.6,2671.6 501.4,2656.8 C497.3,2642.0 493.0,2621.9 488.4,2604.5 C483.8,2587.1 476.4,2564.7 474.0,2552.3 C471.6,2539.8 473.1,2534.9 474.0,2530.0 Z" stroke-width="2.3" fill="#fcfcfc" />
<path d="M525.0,2557.5 C525.0,2555.1 525.6,2545.3 525.0,2543.1 C524.3,2540.9 521.7,2544.6 521.0,2544.4 C520.4,2544.2 526.9,2545.0 521.0,2541.8 C515.2,2538.6 492.5,2527.7 485.8,2525.5 C479.0,2523.3 481.6,2526.9 480.5,2528.7 C479.5,2530.6 472.7,2531.8 479.2,2536.6 C485.8,2541.4 513.0,2554.0 519.7,2557.5" stroke-width="1.9549999999999998" fill="none" />
<path d="M474.0,2537.9 L519.7,2561.4 L523.7,2573.2" stroke-width="1.9549999999999998" fill="none" />
<path d="M521.0,2562.7 C522.6,2576.2 528.0,2622.6 530.2,2643.7 C532.4,2664.8 533.2,2677.0 534.1,2689.4 C535.0,2701.8 535.2,2713.4 535.4,2718.2" stroke-width="1.9549999999999998" fill="none" />
<path d="M525.0,2573.2 L532.8,2642.4" stroke-width="1.7249999999999999" fill="none" />
<path d="M557.6,2539.8 L555.0,2540.8 L555.0,2554.9 L523.7,2572.5" stroke-width="1.8399999999999999" fill="none" />
<path d="M491.0,2519.6 L555.0,2552.3" stroke-width="1.7249999999999999" fill="none" />
<path d="M514.5,2531.4 L525.0,2536.6 L525.0,2543.1" stroke-width="1.6099999999999999" fill="none" />
<path d="M558.3,2571.2 L525.0,2588.8" stroke-width="1.8399999999999999" fill="none" />
<path d="M528.2,2603.2 L562.8,2622.8" stroke-width="1.8399999999999999" fill="none" />
<path d="M562.2,2624.1 L558.9,2626.1 L558.9,2631.9 L547.2,2638.5 L543.2,2636.5 L543.2,2634.6 L530.2,2641.7" stroke-width="1.7249999999999999" fill="none" />
<path d="M532.1,2646.3 L543.2,2640.4" stroke-width="1.7249999999999999" fill="none" />
<path d="M558.9,2554.9 C560.0,2567.5 563.7,2611.7 565.5,2630.6 C567.2,2649.6 568.7,2662.2 569.4,2668.5" stroke-width="1.8399999999999999" fill="none" />
<path d="M569.4,2668.5 L573.3,2666.6" stroke-width="1.7249999999999999" fill="none" />
<path d="M569.4,2668.5 L569.4,2680.3 L565.5,2682.2 L565.5,2688.1 L569.4,2686.2 L570.0,2696.0 L544.6,2710.3 L543.2,2703.8 L539.3,2705.1 L538.7,2698.6 L542.6,2696.6 L541.9,2689.4 L535.4,2692.0" stroke-width="1.7249999999999999" fill="none" />
<path d="M535.4,2646.3 C536.3,2650.2 538.5,2663.3 540.6,2669.8 C542.8,2676.4 546.3,2681.8 548.5,2685.5 C550.6,2689.2 552.8,2690.9 553.7,2692.0" stroke-width="1.6099999999999999" fill="none" />
<ellipse cx="524.3" cy="2697.3" rx="5.0" ry="7.6" stroke-width="1.9549999999999998" fill="none" transform="rotate(-15 524.3 2697.3)" />
<ellipse cx="553.7" cy="2680.3" rx="5.0" ry="7.6" stroke-width="1.9549999999999998" fill="none" transform="rotate(-15 553.7 2680.3)" />
<path d="M434.8,2675.0 C435.7,2671.1 437.7,2667.3 440.0,2664.6 C442.4,2661.9 446.6,2659.5 449.2,2659.1 C451.8,2658.7 454.0,2660.6 455.7,2662.0 C457.5,2663.3 459.0,2665.0 459.6,2667.2 C460.3,2669.4 460.7,2670.9 459.6,2675.0 C458.6,2679.2 455.9,2689.2 453.1,2692.0 C450.3,2694.9 445.7,2692.7 442.7,2692.0 C439.6,2691.4 436.1,2690.9 434.8,2688.1 C433.5,2685.3 433.9,2679.0 434.8,2675.0 Z" stroke-width="2.07" fill="#fcfcfc" />
<path d="M440.0,2685.5 C440.0,2683.8 439.2,2678.1 440.0,2675.0 C440.9,2672.0 442.9,2669.2 445.3,2667.2 C447.7,2665.3 452.9,2663.9 454.4,2663.3" stroke-width="1.7249999999999999" fill="none" />
<path d="M443.8,2686.9 L443.3,2686.6 L442.9,2686.2 L442.4,2685.7 L442.1,2685.2 L441.7,2684.6 L441.5,2683.9 L441.3,2683.2 L441.2,2682.5 L441.1,2681.7 L441.1,2680.9 L441.1,2680.1 L441.2,2679.2 L441.4,2678.4 L441.6,2677.5 L441.9,2676.6 L442.2,2675.8 L442.6,2674.9 L443.1,2674.1 L443.6,2673.3 L444.1,2672.6 L444.7,2671.8 L445.3,2671.2 L445.9,2670.5 L446.6,2670.0 L447.2,2669.4 L447.9,2669.0 L448.6,2668.6 L449.4,2668.3 L450.1,2668.0 L450.8,2667.9 L451.5,2667.8 L452.1,2667.7 L452.8,2667.8 L453.4,2667.9 L454.0,2668.1 L454.5,2668.4 L462.5,2673.0 L451.8,2691.5 Z" stroke-width="2.07" fill="#fcfcfc" />
<ellipse cx="457.1" cy="2682.2" rx="7.1" ry="10.7" stroke-width="2.07" fill="#fcfcfc" transform="rotate(30 457.1 2682.2)" />
<path d="M441.2,2686.1 L440.9,2685.6 L440.7,2685.0 L440.5,2684.4 L440.3,2683.8 L440.2,2683.2 L440.1,2682.5 L440.1,2681.8 L440.1,2681.1 L440.1,2680.4 L440.2,2679.6 L440.3,2678.9 L440.5,2678.1 L440.7,2677.4 L441.0,2676.6 L441.2,2675.9 L441.6,2675.1 L441.9,2674.4 L442.3,2673.7 L442.7,2673.0 L443.2,2672.3 L443.7,2671.7 L444.2,2671.0 L444.7,2670.5 L445.3,2669.9 L445.8,2669.4 L446.4,2668.9 L447.0,2668.4 L447.6,2668.0 L448.2,2667.7 L448.8,2667.4 L449.5,2667.1 L450.1,2666.9 L450.7,2666.7 L451.3,2666.6 L451.9,2666.5 L452.5,2666.5" stroke-width="1.6099999999999999" fill="none" />
<path d="M794.6,2517.6 C796.9,2515.3 800.9,2507.0 808.7,2503.5 C816.5,2500.1 830.3,2497.2 841.6,2496.9 C853.0,2496.6 865.1,2498.1 876.9,2501.6 C888.6,2505.2 901.2,2512.8 912.2,2518.1 C923.1,2523.4 937.6,2531.0 942.7,2533.6" stroke-width="10.196750000000002" fill="none"/>
<path d="M794.6,2517.6 C796.9,2515.3 800.9,2507.0 808.7,2503.5 C816.5,2500.1 830.3,2497.2 841.6,2496.9 C853.0,2496.6 865.1,2498.1 876.9,2501.6 C888.6,2505.2 901.2,2512.8 912.2,2518.1 C923.1,2523.4 937.6,2531.0 942.7,2533.6" stroke-width="4.91" fill="none" style="stroke:#fcfcfc"/>
<path d="M933.3,2536.4 L954.5,2524.7 L974.5,2536.4 L974.5,2548.2 L953.3,2559.9 L933.3,2548.2 Z" stroke-width="1.9549999999999998" fill="#fcfcfc" />
<path d="M933.3,2536.4 L953.3,2548.2 L974.5,2536.4" stroke-width="1.9549999999999998" fill="none" />
<line x1="953.3" y1="2548.2" x2="953.3" y2="2559.9" stroke-width="1.9549999999999998"/>
<line x1="946.3" y1="2544.1" x2="946.3" y2="2555.8" stroke-width="1.38"/>
<path d="M769.9,2543.5 L769.9,2554.8 L779.3,2554.8 L779.3,2548.2" stroke-width="1.8399999999999999" fill="#fcfcfc" />
<ellipse cx="774.6" cy="2554.8" rx="4.7" ry="1.9" stroke-width="1.7249999999999999" fill="#fcfcfc" />
<path d="M793.4,2557.6 L793.4,2568.9 L804.0,2568.9 L804.0,2557.6" stroke-width="1.8399999999999999" fill="#fcfcfc" />
<ellipse cx="798.6" cy="2568.9" rx="5.2" ry="2.1" stroke-width="1.7249999999999999" fill="#fcfcfc" />
<path d="M759.3,2518.8 L780.5,2507.7 L819.3,2530.6 L819.3,2547.5 L799.3,2558.5 L759.3,2535.7 Z" stroke-width="2.1849999999999996" fill="#fcfcfc" />
<path d="M759.3,2518.8 L799.3,2541.6 L819.3,2530.6" stroke-width="2.1849999999999996" fill="none" />
<line x1="799.3" y1="2541.6" x2="799.3" y2="2558.5" stroke-width="2.1849999999999996"/>
<line x1="785.3" y1="2533.6" x2="785.3" y2="2550.6" stroke-width="1.38"/>
<ellipse cx="758.1" cy="2536.4" rx="5.6" ry="7.5" stroke-width="2.07" fill="#fcfcfc" transform="rotate(20 758.1 2536.4)" />
<ellipse cx="757.0" cy="2536.4" rx="3.5" ry="5.2" stroke-width="1.7249999999999999" fill="#fcfcfc" transform="rotate(20 757.0 2536.4)" />
<ellipse cx="755.8" cy="2536.4" rx="1.9" ry="2.8" stroke-width="2.3" fill="none" transform="rotate(20 755.8 2536.4)" />
<path d="M805.2,2662.2 L805.2,2737.5 L815.8,2731.6 L815.8,2659.9 Z" stroke-width="2.07" fill="#fcfcfc" />
<path d="M777.0,2677.5 L777.0,2732.8 L780.5,2736.3 L793.4,2730.4 L805.2,2737.5 L805.2,2711.6 L805.2,2662.2 Z" stroke-width="2.07" fill="#fcfcfc" />
<path d="M777.0,2722.2 L801.6,2709.2 L805.2,2711.6" stroke-width="1.8399999999999999" fill="none" />
<line x1="793.4" y1="2730.4" x2="793.4" y2="2717.5" stroke-width="1.6099999999999999"/>
<path d="M717.0,2602.3 L745.2,2586.3 L747.6,2581.1 L754.6,2582.8 L767.5,2572.9 L785.2,2583.5 L785.2,2608.1 L795.8,2614.0 L826.3,2630.5 L826.3,2649.3 L777.0,2677.5 L717.0,2642.2 Z" stroke-width="2.3" fill="#fcfcfc" />
<path d="M717.0,2602.3 L733.5,2611.7 L758.1,2597.6 L758.1,2621.1 L777.0,2608.1 L794.6,2618.7 L775.8,2630.5 L758.1,2621.1" stroke-width="1.9549999999999998" fill="none" />
<line x1="775.8" y1="2630.5" x2="775.8" y2="2677.5" stroke-width="1.9549999999999998"/>
<path d="M794.6,2618.7 L794.6,2646.9 L826.3,2630.5" stroke-width="1.7249999999999999" fill="none" />
<line x1="733.5" y1="2611.7" x2="733.5" y2="2644.6" stroke-width="1.7249999999999999"/>
<path d="M721.2,2614.0 L731.1,2618.7 L731.1,2644.6 L721.2,2639.4 Z" stroke-width="1.7249999999999999" fill="none" />
<path d="M737.0,2612.8 L737.0,2632.8 L754.6,2643.4 L754.6,2611.7 L751.8,2610.5 L751.8,2635.2 L740.5,2629.3 L740.5,2614.0" stroke-width="1.7249999999999999" fill="none" />
<path d="M796.9,2630.5 L814.6,2625.8 L814.6,2634.0 L796.9,2645.8 Z" stroke-width="1.7249999999999999" fill="none" />
<path d="M734.6,2592.9 L745.2,2586.3 L752.3,2597.6 L761.7,2592.4 L754.6,2582.8" stroke-width="1.6099999999999999" fill="none" />
<path d="M738.2,2590.5 L747.6,2602.3 L758.1,2596.9" stroke-width="1.6099999999999999" fill="none" />
<ellipse cx="775.8" cy="2619.2" rx="4.7" ry="3.3" stroke-width="1.7249999999999999" fill="none" />
<ellipse cx="800.5" cy="2635.7" rx="4.2" ry="3.8" stroke-width="1.7249999999999999" fill="none" />
<path d="M748.7,2681.0 L768.7,2670.9" stroke-width="8.276" fill="none"/>
<path d="M748.7,2681.0 L768.7,2670.9" stroke-width="4.60" fill="none" style="stroke:#fcfcfc"/>
<ellipse cx="782.8" cy="2691.6" rx="8.2" ry="9.4" stroke-width="1.9549999999999998" fill="#fcfcfc" transform="rotate(20 782.8 2691.6)" />
<ellipse cx="780.5" cy="2692.8" rx="5.2" ry="6.3" stroke-width="1.7249999999999999" fill="#fcfcfc" transform="rotate(20 780.5 2692.8)" />
<path d="M747.6,2714.0 L778.1,2697.5" stroke-width="8.276" fill="none"/>
<path d="M747.6,2714.0 L778.1,2697.5" stroke-width="4.60" fill="none" style="stroke:#fcfcfc"/>
<path d="M707.6,2711.6 L711.1,2706.9 L717.0,2709.2 L733.5,2696.3 L742.9,2695.1 L746.4,2698.7 L724.1,2716.3 L724.1,2731.6 L728.8,2733.9 L757.0,2736.3 L775.8,2729.2 L775.8,2722.2" stroke-width="1.9549999999999998" fill="#fcfcfc" />
<path d="M707.6,2711.6 L709.9,2717.5 L717.0,2718.7 L724.1,2716.3" stroke-width="1.8399999999999999" fill="none" />
<path d="M724.1,2731.6 L742.9,2719.8 L761.7,2722.2 L757.0,2736.3" stroke-width="1.7249999999999999" fill="none" />
<path d="M728.8,2717.5 L757.0,2702.2" stroke-width="1.7249999999999999" fill="none" />
<path d="M742.9,2719.8 L747.6,2714.0" stroke-width="1.6099999999999999" fill="none" />
<path d="M717.0,2709.2 L719.3,2717.5" stroke-width="1.4949999999999999" fill="none" />
<path d="M745.2,2723.4 L757.0,2735.1 L762.8,2729.2 L752.3,2719.8" stroke-width="1.7249999999999999" fill="none" />
<path d="M640.6,2682.7 L653.5,2676.6 L655.9,2691.6 L652.3,2697.5 L646.9,2750.4 Z" stroke-width="2.07" fill="#fcfcfc" />
<path d="M652.3,2697.5 L671.1,2686.9 L697.0,2702.2 L698.2,2770.4 L680.6,2781.0 L665.3,2772.7 L664.8,2763.3 L655.9,2760.3 L646.9,2750.4 Z" stroke-width="2.3" fill="#fcfcfc" />
<path d="M652.3,2697.5 L679.4,2712.8 L697.0,2702.2" stroke-width="1.9549999999999998" fill="none" />
<line x1="679.4" y1="2712.8" x2="680.6" y2="2781.0" stroke-width="1.9549999999999998"/>
<ellipse cx="671.9" cy="2726.9" rx="4.0" ry="4.7" stroke-width="1.7249999999999999" fill="none" />
<ellipse cx="671.9" cy="2759.8" rx="4.0" ry="4.7" stroke-width="1.7249999999999999" fill="none" />
<ellipse cx="658.2" cy="2756.3" rx="4.0" ry="4.7" stroke-width="1.7249999999999999" fill="none" />
<path d="M686.4,2718.7 L688.8,2717.5 L688.8,2725.7 L686.4,2726.9 Z" stroke-width="1.4949999999999999" fill="none" />
<path d="M686.4,2738.6 L688.8,2737.5 L688.8,2745.7 L686.4,2746.9 Z" stroke-width="2.07" fill="none" />
<path d="M686.0,2763.3 L688.3,2762.2 L688.3,2770.4 L686.0,2771.6 Z" stroke-width="2.07" fill="none" />
<path d="M687.1,2743.3 C686.6,2744.5 683.8,2747.3 684.1,2750.4 C684.4,2753.5 684.1,2755.1 688.8,2762.2 C693.5,2769.2 702.3,2783.1 712.3,2792.7 C722.3,2802.3 742.7,2815.3 748.7,2819.8" stroke-width="2.07" fill="none" />
<path d="M687.1,2767.3 C686.5,2768.4 681.4,2770.1 683.6,2773.9 C685.8,2777.8 693.0,2783.7 700.5,2790.4 C708.1,2797.0 720.6,2807.5 728.8,2813.9 C736.9,2820.2 746.0,2826.0 749.4,2828.5" stroke-width="2.07" fill="none" />
<path d="M749.9,2812.7 L759.3,2804.5 L779.3,2816.2 L779.3,2836.2 L768.7,2845.6 L749.9,2832.7 Z" stroke-width="1.9549999999999998" fill="#fcfcfc" />
<path d="M749.9,2812.7 L768.7,2825.6 L779.3,2816.2" stroke-width="1.9549999999999998" fill="none" />
<line x1="768.7" y1="2825.6" x2="768.7" y2="2845.6" stroke-width="1.9549999999999998"/>
<line x1="762.1" y1="2821.1" x2="762.1" y2="2841.1" stroke-width="1.38"/>
<path d="M611.5,2629.9 L610.7,2629.7 L610.0,2629.5 L609.3,2629.1 L608.7,2628.7 L608.2,2628.1 L607.7,2627.5 L607.3,2626.7 L607.0,2625.9 L606.8,2625.0 L606.7,2624.0 L606.6,2623.0 L606.7,2621.9 L606.8,2620.8 L607.0,2619.7 L607.3,2618.5 L607.7,2617.4 L608.2,2616.2 L608.7,2615.1 L609.3,2614.0 L610.0,2612.9 L610.7,2611.9 L611.5,2610.9 L612.3,2610.0 L613.1,2609.2 L614.0,2608.5 L614.9,2607.8 L615.8,2607.3 L616.7,2606.8 L617.6,2606.5 L618.5,2606.2 L619.4,2606.1 L620.2,2606.1 L621.0,2606.2 L621.7,2606.4 L622.4,2606.7 L623.1,2607.1" stroke-width="1.7249999999999999" fill="none" />
<path d="M617.5,2633.3 L616.7,2633.1 L616.0,2632.9 L615.3,2632.5 L614.7,2632.1 L614.2,2631.5 L613.7,2630.9 L613.3,2630.1 L613.0,2629.3 L612.8,2628.4 L612.7,2627.4 L612.6,2626.4 L612.7,2625.3 L612.8,2624.2 L613.0,2623.1 L613.3,2621.9 L613.7,2620.8 L614.2,2619.6 L614.7,2618.5 L615.3,2617.4 L616.0,2616.3 L616.7,2615.3 L617.5,2614.3 L618.3,2613.4 L619.1,2612.6 L620.0,2611.9 L620.9,2611.2 L621.8,2610.7 L622.7,2610.2 L623.6,2609.9 L624.5,2609.6 L625.4,2609.5 L626.2,2609.5 L627.0,2609.6 L627.7,2609.8 L628.4,2610.1 L629.1,2610.5" stroke-width="1.7249999999999999" fill="none" />
<path d="M623.5,2636.7 L622.7,2636.5 L622.0,2636.3 L621.3,2635.9 L620.7,2635.5 L620.2,2634.9 L619.7,2634.3 L619.3,2633.5 L619.0,2632.7 L618.8,2631.8 L618.7,2630.8 L618.6,2629.8 L618.7,2628.7 L618.8,2627.6 L619.0,2626.5 L619.3,2625.3 L619.7,2624.2 L620.2,2623.0 L620.7,2621.9 L621.3,2620.8 L622.0,2619.7 L622.7,2618.7 L623.5,2617.7 L624.3,2616.8 L625.1,2616.0 L626.0,2615.3 L626.9,2614.6 L627.8,2614.1 L628.7,2613.6 L629.6,2613.3 L630.5,2613.0 L631.4,2612.9 L632.2,2612.9 L633.0,2613.0 L633.7,2613.2 L634.4,2613.5 L635.1,2613.9" stroke-width="1.7249999999999999" fill="none" />
<path d="M629.5,2640.1 L628.7,2639.9 L628.0,2639.7 L627.3,2639.3 L626.7,2638.9 L626.2,2638.3 L625.7,2637.7 L625.3,2636.9 L625.0,2636.1 L624.8,2635.2 L624.7,2634.2 L624.6,2633.2 L624.7,2632.1 L624.8,2631.0 L625.0,2629.9 L625.3,2628.7 L625.7,2627.6 L626.2,2626.4 L626.7,2625.3 L627.3,2624.2 L628.0,2623.1 L628.7,2622.1 L629.5,2621.1 L630.3,2620.2 L631.1,2619.4 L632.0,2618.7 L632.9,2618.0 L633.8,2617.5 L634.7,2617.0 L635.6,2616.7 L636.5,2616.4 L637.4,2616.3 L638.2,2616.3 L639.0,2616.4 L639.7,2616.6 L640.4,2616.9 L641.1,2617.3" stroke-width="1.7249999999999999" fill="none" />
<ellipse cx="640.0" cy="2631.6" rx="8.1" ry="13.0" stroke-width="1.8399999999999999" fill="none" transform="rotate(30 640.0 2631.6)" />
<path d="M643.6,2638.5 L642.9,2639.1 L642.2,2639.6 L641.4,2639.9 L640.7,2640.2 L640.0,2640.3 L639.4,2640.3 L638.7,2640.2 L638.2,2640.0 L637.7,2639.7 L637.2,2639.3 L636.8,2638.7 L636.6,2638.1 L636.4,2637.4 L636.3,2636.6 L636.2,2635.8 L636.3,2634.9 L636.5,2634.0 L636.7,2633.1 L637.1,2632.2 L637.5,2631.3 L638.0,2630.4 L638.5,2629.6 L639.1,2628.8 L639.8,2628.1 L640.5,2627.4 L641.2,2626.9 L641.9,2626.4 L642.6,2626.1 L643.3,2625.8 L644.0,2625.7 L644.7,2625.7 L645.3,2625.8 L645.9,2626.0 L646.4,2626.3 L646.8,2626.8 L647.2,2627.3" stroke-width="1.6099999999999999" fill="none" />
<path d="M771.0,2080.0 L771.0,2125.5 L774.4,2133.3 L778.8,2133.3 L782.8,2125.5 L782.8,2080.0" stroke-width="2.07" fill="#fcfcfc" />
<line x1="769.9" y1="2089.5" x2="783.9" y2="2087.8" stroke-width="1.7249999999999999"/>
<line x1="769.9" y1="2089.5" x2="771.7" y2="2091.3" stroke-width="1.4949999999999999"/>
<line x1="783.9" y1="2087.8" x2="782.6" y2="2090.0" stroke-width="1.4949999999999999"/>
<line x1="769.9" y1="2095.5" x2="783.9" y2="2093.7" stroke-width="1.7249999999999999"/>
<line x1="769.9" y1="2095.5" x2="771.7" y2="2097.3" stroke-width="1.4949999999999999"/>
<line x1="783.9" y1="2093.7" x2="782.6" y2="2096.0" stroke-width="1.4949999999999999"/>
<line x1="769.9" y1="2101.5" x2="783.9" y2="2099.7" stroke-width="1.7249999999999999"/>
<line x1="769.9" y1="2101.5" x2="771.7" y2="2103.3" stroke-width="1.4949999999999999"/>
<line x1="783.9" y1="2099.7" x2="782.6" y2="2102.0" stroke-width="1.4949999999999999"/>
<line x1="769.9" y1="2107.5" x2="783.9" y2="2105.7" stroke-width="1.7249999999999999"/>
<line x1="769.9" y1="2107.5" x2="771.7" y2="2109.3" stroke-width="1.4949999999999999"/>
<line x1="783.9" y1="2105.7" x2="782.6" y2="2108.0" stroke-width="1.4949999999999999"/>
<line x1="769.9" y1="2113.5" x2="783.9" y2="2111.7" stroke-width="1.7249999999999999"/>
<line x1="769.9" y1="2113.5" x2="771.7" y2="2115.3" stroke-width="1.4949999999999999"/>
<line x1="783.9" y1="2111.7" x2="782.6" y2="2114.0" stroke-width="1.4949999999999999"/>
<line x1="769.9" y1="2119.5" x2="783.9" y2="2117.7" stroke-width="1.7249999999999999"/>
<line x1="769.9" y1="2119.5" x2="771.7" y2="2121.3" stroke-width="1.4949999999999999"/>
<line x1="783.9" y1="2117.7" x2="782.6" y2="2120.0" stroke-width="1.4949999999999999"/>
<line x1="769.9" y1="2125.5" x2="783.9" y2="2123.7" stroke-width="1.7249999999999999"/>
<line x1="769.9" y1="2125.5" x2="771.7" y2="2127.3" stroke-width="1.4949999999999999"/>
<line x1="783.9" y1="2123.7" x2="782.6" y2="2125.9" stroke-width="1.4949999999999999"/>
<ellipse cx="776.6" cy="2076.2" rx="13.8" ry="6.7" stroke-width="2.07" fill="#fcfcfc" />
<ellipse cx="776.6" cy="2072.2" rx="13.8" ry="7.3" stroke-width="2.07" fill="#fcfcfc" />
<ellipse cx="776.6" cy="2071.8" rx="10.7" ry="5.3" stroke-width="1.4949999999999999" fill="none" />
<line x1="768.8" y1="2068.9" x2="784.4" y2="2074.9" stroke-width="1.4949999999999999"/>
<line x1="769.9" y1="2074.9" x2="783.2" y2="2068.9" stroke-width="1.4949999999999999"/>
<path d="M718.8,2175.5 L719.3,2181.0 L725.5,2184.8 L726.2,2192.1 L732.6,2194.8 L732.6,2185.9 L753.3,2197.7 L753.3,2266.5 L776.6,2279.8 L829.4,2248.8 L829.4,2203.2 L836.1,2203.2 L836.1,2174.8 L803.7,2156.2 L798.3,2163.7 L768.8,2145.9 Z" stroke-width="2.3" fill="#fcfcfc" />
<path d="M718.8,2175.5 L753.3,2195.5 L754.4,2198.3 L777.7,2211.0 L829.4,2179.9 L836.1,2174.8" stroke-width="2.07" fill="none" />
<line x1="776.6" y1="2211.0" x2="776.6" y2="2279.8" stroke-width="2.07"/>
<line x1="829.4" y1="2179.9" x2="829.4" y2="2203.2" stroke-width="2.07"/>
<path d="M798.3,2163.7 L774.4,2178.8 L797.7,2193.2 L827.7,2177.0" stroke-width="1.8399999999999999" fill="none" />
<line x1="753.3" y1="2195.5" x2="753.3" y2="2198.8" stroke-width="1.7249999999999999"/>
<ellipse cx="776.1" cy="2195.5" rx="14.4" ry="8.9" stroke-width="2.07" fill="none" transform="rotate(-5 776.1 2195.5)" />
<path d="M732.6,2185.9 L737.7,2183.2" stroke-width="1.4949999999999999" fill="none" />
<path d="M701.5,2338.7 L702.4,2313.2 L711.1,2306.5 L748.8,2309.8 L708.2,2334.3 Z" stroke-width="2.07" fill="#fcfcfc" />
<line x1="708.2" y1="2334.3" x2="702.4" y2="2313.2" stroke-width="1.4949999999999999"/>
<path d="M733.3,2369.8 L733.3,2390.9 L746.6,2398.7 L754.4,2394.2 L754.4,2378.7 L747.7,2375.3 L747.7,2363.1" stroke-width="2.07" fill="#fcfcfc" />
<path d="M747.7,2375.3 L741.5,2379.1 L741.5,2395.3" stroke-width="1.6099999999999999" fill="none" />
<path d="M666.7,2360.9 C676.1,2354.9 700.9,2341.1 716.6,2332.0 C732.4,2322.9 745.7,2315.2 761.0,2306.3 C776.4,2297.4 797.7,2282.4 808.8,2278.7 C819.9,2275.1 822.6,2281.0 827.7,2284.3 C832.7,2287.6 837.4,2294.2 839.2,2298.7 C841.1,2303.3 844.4,2306.3 838.8,2311.6 C833.1,2316.9 822.1,2320.7 805.5,2330.3 C788.8,2339.8 757.9,2357.9 738.8,2368.9 C719.8,2379.9 701.8,2392.6 691.1,2396.4 C680.4,2400.3 679.1,2394.6 674.4,2392.0 C669.8,2389.4 665.7,2384.9 663.3,2380.9 C660.9,2376.9 659.4,2371.3 660.0,2368.0 C660.5,2364.7 657.2,2366.9 666.7,2360.9 Z" stroke-width="2.3" fill="#fcfcfc" />
<path d="M666.7,2360.9 C669.4,2361.6 678.5,2362.4 683.3,2365.3 C688.1,2368.3 693.3,2374.2 695.5,2378.7 C697.7,2383.1 697.4,2389.0 696.6,2392.0 C695.9,2395.0 692.0,2395.7 691.1,2396.4" stroke-width="1.8399999999999999" fill="none" />
<path d="M703.3,2339.8 L771.0,2300.9 L797.7,2316.5 L728.8,2357.6 Z" stroke-width="2.07" fill="#fcfcfc" />
<path d="M710.0,2343.6 L781.0,2303.2" stroke-width="1.6099999999999999" fill="none" />
<path d="M716.6,2347.6 L785.5,2308.1 L781.0,2303.2" stroke-width="1.6099999999999999" fill="none" />
<path d="M723.3,2351.6 L792.1,2312.0" stroke-width="1.6099999999999999" fill="none" />
<line x1="703.3" y1="2339.8" x2="710.0" y2="2343.6" stroke-width="1.6099999999999999"/>
<path d="M714.4,2448.6 L716.6,2447.1 L723.3,2450.8 L747.7,2437.5 L751.0,2439.1 L756.6,2435.3 L765.5,2432.4 L777.7,2425.3 L777.7,2412.4 L781.0,2410.9 L785.0,2414.2 L785.0,2419.8 L779.9,2427.5 L767.7,2435.3 L758.8,2438.6 L753.3,2442.6 L748.8,2441.3 L721.5,2456.0 L714.4,2451.5 Z" stroke-width="1.8399999999999999" fill="#fcfcfc" />
<path d="M723.3,2450.8 L721.5,2456.0" stroke-width="1.38" fill="none" />
<path d="M898.2,2015.4 L895.2,2013.3 L892.5,2010.8 L890.2,2007.8 L888.1,2004.4 L886.5,2000.6 L885.2,1996.5 L884.2,1991.9 L883.7,1987.1 L883.5,1982.0 L883.8,1976.7 L884.4,1971.2 L885.4,1965.6 L886.8,1959.8 L888.6,1954.0 L890.7,1948.1 L893.2,1942.3 L895.9,1936.6 L899.0,1931.0 L902.3,1925.5 L905.9,1920.2 L909.7,1915.2 L913.7,1910.4 L917.9,1906.0 L922.2,1901.9 L926.6,1898.2 L931.0,1894.9 L935.5,1892.0 L940.0,1889.6 L944.4,1887.7 L948.8,1886.2 L953.1,1885.3 L957.2,1884.8 L961.1,1884.9 L964.9,1885.4 L968.4,1886.5 L971.7,1888.1 L1025.2,1918.9 L951.7,2046.2 Z" stroke-width="2.3" fill="#fcfcfc" />
<ellipse cx="988.4" cy="1982.6" rx="41.5" ry="73.5" stroke-width="2.3" fill="#fcfcfc" transform="rotate(30 988.4 1982.6)" />
<path d="M1035.8,1928.8 L1049.6,1937.0 L1048.1,1958.2 L1038.1,1964.7" stroke-width="2.3" fill="#fcfcfc" />
<line x1="1038.1" y1="1943.5" x2="1048.1" y2="1938.2" stroke-width="1.6099999999999999"/>
<ellipse cx="989.3" cy="1980.8" rx="41.5" ry="73.5" stroke-width="2.3" fill="#fcfcfc" transform="rotate(30 989.3 1980.8)" />
<clipPath id="c50"><ellipse cx="989.6" cy="1982.3" rx="33.2" ry="57.3" transform="rotate(30 989.6 1982.3)"/></clipPath>
<g clip-path="url(#c50)">
<line x1="976.0" y1="1911.2" x2="1027.4" y2="1940.9" stroke-width="1.7249999999999999"/>
<line x1="972.9" y1="1916.6" x2="1024.3" y2="1946.3" stroke-width="1.7249999999999999"/>
<line x1="969.8" y1="1921.9" x2="1021.2" y2="1951.6" stroke-width="1.7249999999999999"/>
<line x1="966.7" y1="1927.3" x2="1018.1" y2="1957.0" stroke-width="1.7249999999999999"/>
<line x1="963.6" y1="1932.6" x2="1015.1" y2="1962.3" stroke-width="1.7249999999999999"/>
<line x1="960.5" y1="1938.0" x2="1012.0" y2="1967.7" stroke-width="1.7249999999999999"/>
<line x1="957.4" y1="1943.3" x2="1008.9" y2="1973.0" stroke-width="1.7249999999999999"/>
<line x1="954.4" y1="1948.7" x2="1005.8" y2="1978.4" stroke-width="1.7249999999999999"/>
<line x1="951.3" y1="1954.0" x2="1002.7" y2="1983.7" stroke-width="1.7249999999999999"/>
<line x1="948.2" y1="1959.4" x2="999.6" y2="1989.0" stroke-width="1.7249999999999999"/>
<line x1="945.1" y1="1964.7" x2="996.5" y2="1994.4" stroke-width="1.7249999999999999"/>
<line x1="942.0" y1="1970.1" x2="993.5" y2="1999.7" stroke-width="1.7249999999999999"/>
<line x1="938.9" y1="1975.4" x2="990.4" y2="2005.1" stroke-width="1.7249999999999999"/>
<line x1="935.8" y1="1980.7" x2="987.3" y2="2010.4" stroke-width="1.7249999999999999"/>
<line x1="932.8" y1="1986.1" x2="984.2" y2="2015.8" stroke-width="1.7249999999999999"/>
<line x1="929.7" y1="1991.4" x2="981.1" y2="2021.1" stroke-width="1.7249999999999999"/>
<line x1="926.6" y1="1996.8" x2="978.0" y2="2026.5" stroke-width="1.7249999999999999"/>
<line x1="923.5" y1="2002.1" x2="974.9" y2="2031.8" stroke-width="1.7249999999999999"/>
<line x1="920.4" y1="2007.5" x2="971.8" y2="2037.2" stroke-width="1.7249999999999999"/>
<path d="M984.2,2044.6 L981.8,2042.9 L979.6,2040.9 L977.7,2038.6 L976.1,2035.9 L974.7,2032.9 L973.6,2029.6 L972.9,2026.1 L972.4,2022.3 L972.2,2018.3 L972.4,2014.1 L972.8,2009.8 L973.6,2005.4 L974.6,2000.8 L976.0,1996.3 L977.6,1991.7 L979.5,1987.2 L981.7,1982.7 L984.1,1978.3 L986.7,1974.0 L989.5,1969.9 L992.5,1966.0 L995.6,1962.3 L998.9,1958.9 L1002.2,1955.7 L1005.7,1952.8 L1009.2,1950.3 L1012.8,1948.1 L1016.3,1946.2 L1019.8,1944.7 L1023.3,1943.6 L1026.7,1942.9 L1029.9,1942.6 L1033.1,1942.7 L1036.1,1943.2 L1038.9,1944.0 L1041.5,1945.3" stroke-width="1.8399999999999999" fill="none" />
</g>
<ellipse cx="989.6" cy="1982.3" rx="33.2" ry="57.3" stroke-width="2.3" fill="none" transform="rotate(30 989.6 1982.3)" />
<path d="M873.2,1976.4 L889.4,1968.5 L939.4,1993.5 L932.0,2005.8 L932.0,2030.2 L874.7,1999.3 Z" stroke-width="2.3" fill="#fcfcfc" />
<path d="M873.2,1976.4 L932.0,2005.8" stroke-width="2.07" fill="none" />
<line x1="939.4" y1="1993.5" x2="939.4" y2="2017.0" stroke-width="1.8399999999999999"/>
<line x1="932.0" y1="2030.2" x2="940.8" y2="2022.9" stroke-width="1.8399999999999999"/>
<path d="M889.4,2005.2 C890.4,2006.7 887.9,2009.1 895.3,2014.0 C902.6,2018.9 924.7,2029.7 933.5,2034.6 C942.3,2039.5 945.7,2042.0 948.2,2043.4" stroke-width="1.7249999999999999" fill="none" />
<ellipse cx="1094.3" cy="2043.4" rx="48.9" ry="70.8" stroke-width="2.3" fill="#fcfcfc" transform="rotate(30 1094.3 2043.4)" />
<path d="M1144.5,2002.9 L1149.5,2004.6 L1149.5,2018.4 L1145.7,2020.5" stroke-width="2.07" fill="#fcfcfc" />
<path d="M1042.8,2067.5 L1038.7,2069.9 L1038.7,2080.2 L1042.8,2079.3" stroke-width="2.07" fill="#fcfcfc" />
<path d="M1098.4,2063.8 L1095.3,2066.2 L1092.2,2068.0 L1089.1,2069.4 L1086.0,2070.2 L1083.1,2070.4 L1080.4,2070.0 L1078.0,2069.0 L1075.9,2067.5 L1074.1,2065.4 L1072.8,2062.9 L1071.8,2059.9 L1071.4,2056.6 L1071.4,2053.0 L1071.8,2049.2 L1072.7,2045.2 L1074.1,2041.2 L1075.8,2037.3 L1077.9,2033.5 L1080.3,2029.9 L1083.0,2026.6 L1085.9,2023.7 L1088.9,2021.2 L1092.1,2019.2 L1095.2,2017.7 L1098.2,2016.8 L1101.2,2016.5 L1103.9,2016.7 L1106.5,2017.6 L1108.7,2019.0 L1110.5,2020.9 L1112.0,2023.3 L1113.0,2026.2 L1113.6,2029.4 L1113.7,2033.0 L1113.4,2036.7 L1112.6,2040.7" stroke-width="2.3" fill="none" />
<ellipse cx="1131.0" cy="2022.3" rx="2.9" ry="4.7" stroke-width="1.8399999999999999" fill="none" transform="rotate(30 1131.0 2022.3)" />
<ellipse cx="1057.5" cy="2064.9" rx="2.9" ry="4.7" stroke-width="1.8399999999999999" fill="none" transform="rotate(30 1057.5 2064.9)" />
<clipPath id="c52"><rect x="1100" y="2000" width="187.7" height="230"/></clipPath>
<g clip-path="url(#c52)">
<ellipse cx="1219.2" cy="2114.0" rx="57.0" ry="83.8" stroke-width="2.3" fill="#fcfcfc" transform="rotate(30 1219.2 2114.0)" />
<ellipse cx="1224.5" cy="2116.3" rx="57.0" ry="83.8" stroke-width="2.3" fill="#fcfcfc" transform="rotate(30 1224.5 2116.3)" />
<ellipse cx="1231.0" cy="2119.9" rx="45.0" ry="66.1" stroke-width="1.8399999999999999" fill="none" transform="rotate(30 1231.0 2119.9)" />
<ellipse cx="1233.3" cy="2121.3" rx="41.0" ry="60.3" stroke-width="1.6099999999999999" fill="none" transform="rotate(30 1233.3 2121.3)" />
<line x1="1205.0" y1="2153.1" x2="1190.7" y2="2172.2" stroke-width="1.7249999999999999"/>
<line x1="1209.7" y1="2153.1" x2="1195.4" y2="2172.2" stroke-width="1.7249999999999999"/>
<line x1="1199.7" y1="2119.5" x2="1182.2" y2="2118.9" stroke-width="1.7249999999999999"/>
<line x1="1204.4" y1="2119.5" x2="1186.9" y2="2118.9" stroke-width="1.7249999999999999"/>
<line x1="1221.4" y1="2088.5" x2="1216.7" y2="2069.9" stroke-width="1.7249999999999999"/>
<line x1="1226.1" y1="2088.5" x2="1221.4" y2="2069.9" stroke-width="1.7249999999999999"/>
<line x1="1247.9" y1="2083.7" x2="1258.6" y2="2062.2" stroke-width="1.7249999999999999"/>
<line x1="1252.6" y1="2083.7" x2="1263.3" y2="2062.2" stroke-width="1.7249999999999999"/>
<line x1="1261.3" y1="2108.3" x2="1279.9" y2="2101.1" stroke-width="1.7249999999999999"/>
<line x1="1266.0" y1="2108.3" x2="1284.6" y2="2101.1" stroke-width="1.7249999999999999"/>
<path d="M1212.1,2155.5 L1210.4,2154.3 L1208.7,2152.8 L1207.3,2151.1 L1206.1,2149.1 L1205.0,2146.9 L1204.2,2144.5 L1203.6,2142.0 L1203.2,2139.2 L1203.1,2136.3 L1203.1,2133.3 L1203.4,2130.2 L1203.9,2127.0 L1204.6,2123.7 L1205.6,2120.4 L1206.7,2117.2 L1208.1,2113.9 L1209.6,2110.7 L1211.3,2107.5 L1213.2,2104.4 L1215.2,2101.5 L1217.4,2098.7 L1219.7,2096.1 L1222.0,2093.6 L1224.5,2091.3 L1227.0,2089.3 L1229.6,2087.5 L1232.2,2085.9 L1234.7,2084.6 L1237.3,2083.6 L1239.8,2082.8 L1242.3,2082.3 L1244.7,2082.1 L1247.1,2082.2 L1249.3,2082.6 L1251.4,2083.3 L1253.3,2084.2 L1281.3,2100.4 L1240.1,2171.7 Z" stroke-width="2.3" fill="#fcfcfc" />
<ellipse cx="1260.7" cy="2136.0" rx="24.7" ry="41.2" stroke-width="2.3" fill="#fcfcfc" transform="rotate(30 1260.7 2136.0)" />
<path d="M1238.8,2170.3 L1236.5,2169.6 L1234.4,2168.5 L1232.4,2167.0 L1230.7,2165.3 L1229.2,2163.2 L1228.0,2160.9 L1227.0,2158.3 L1226.3,2155.5 L1225.8,2152.4 L1225.7,2149.2 L1225.8,2145.8 L1226.2,2142.3 L1226.8,2138.8 L1227.8,2135.1 L1229.0,2131.5 L1230.4,2127.8 L1232.1,2124.2 L1234.0,2120.7 L1236.1,2117.3 L1238.3,2114.1 L1240.8,2111.0 L1243.3,2108.2 L1246.0,2105.5 L1248.8,2103.2 L1251.6,2101.1 L1254.5,2099.3 L1257.4,2097.8 L1260.2,2096.7 L1263.0,2095.9 L1265.8,2095.5 L1268.4,2095.4 L1270.9,2095.6 L1273.3,2096.2 L1275.5,2097.2 L1277.5,2098.5 L1279.3,2100.1" stroke-width="1.6099999999999999" fill="none" />
<ellipse cx="1261.5" cy="2136.9" rx="19.1" ry="30.9" stroke-width="2.07" fill="none" transform="rotate(30 1261.5 2136.9)" />
<path d="M1262.3,2161.1 L1259.9,2162.0 L1257.5,2162.5 L1255.3,2162.7 L1253.2,2162.4 L1251.2,2161.9 L1249.4,2160.9 L1247.7,2159.7 L1246.4,2158.1 L1245.2,2156.2 L1244.4,2154.1 L1243.8,2151.7 L1243.5,2149.1 L1243.5,2146.3 L1243.8,2143.4 L1244.3,2140.4 L1245.2,2137.4 L1246.3,2134.4 L1247.6,2131.5 L1249.2,2128.6 L1251.0,2125.9 L1253.0,2123.3 L1255.1,2121.0 L1257.4,2118.9 L1259.7,2117.1 L1262.1,2115.6 L1264.5,2114.4 L1266.9,2113.5 L1269.2,2113.0 L1271.5,2112.9 L1273.6,2113.2 L1275.6,2113.8 L1277.4,2114.7 L1279.0,2116.0 L1280.3,2117.6 L1281.4,2119.5 L1282.3,2121.7" stroke-width="1.4949999999999999" fill="none" />
<path d="M1261.5,2161.6 L1259.6,2161.9 L1257.7,2161.9 L1255.9,2161.7 L1254.2,2161.1 L1252.7,2160.3 L1251.3,2159.2 L1250.2,2157.9 L1249.2,2156.4 L1248.4,2154.6 L1247.8,2152.6 L1247.4,2150.5 L1247.3,2148.2 L1247.4,2145.8 L1247.7,2143.3 L1248.3,2140.8 L1249.1,2138.2 L1250.0,2135.6 L1251.2,2133.1 L1252.5,2130.7 L1254.0,2128.4 L1255.7,2126.2 L1257.5,2124.1 L1259.3,2122.3 L1261.3,2120.6 L1263.3,2119.2 L1265.3,2118.0 L1267.4,2117.1 L1269.4,2116.4 L1271.4,2116.1 L1273.3,2116.0 L1275.1,2116.2 L1276.8,2116.7 L1278.3,2117.4 L1279.7,2118.5 L1280.9,2119.8 L1282.0,2121.3" stroke-width="1.4949999999999999" fill="none" />
<path d="M1261.4,2160.9 L1259.9,2160.8 L1258.4,2160.5 L1257.1,2160.0 L1255.8,2159.3 L1254.7,2158.3 L1253.7,2157.2 L1252.9,2155.9 L1252.2,2154.4 L1251.7,2152.8 L1251.4,2151.0 L1251.2,2149.1 L1251.2,2147.2 L1251.4,2145.1 L1251.7,2143.0 L1252.2,2140.9 L1252.9,2138.7 L1253.7,2136.6 L1254.7,2134.5 L1255.9,2132.4 L1257.1,2130.5 L1258.5,2128.6 L1259.9,2126.8 L1261.5,2125.2 L1263.1,2123.8 L1264.7,2122.5 L1266.4,2121.3 L1268.1,2120.4 L1269.8,2119.7 L1271.5,2119.1 L1273.2,2118.8 L1274.8,2118.8 L1276.3,2118.9 L1277.8,2119.2 L1279.1,2119.8 L1280.3,2120.6 L1281.4,2121.5" stroke-width="1.4949999999999999" fill="none" />
<path d="M1203.9,2052.2 L1206.9,2046.4 L1217.1,2045.8 L1219.2,2049.9" stroke-width="1.8399999999999999" fill="none" />
<path d="M1231.0,2046.4 L1233.3,2041.1 L1243.6,2039.0" stroke-width="1.8399999999999999" fill="none" />
<path d="M1270.1,2049.3 L1275.9,2045.8 L1283.3,2050.8" stroke-width="1.8399999999999999" fill="none" />
</g>
<clipPath id="c47"><rect x="640.0" y="1720.0" width="69.6" height="90"/></clipPath>
<g clip-path="url(#c47)">
<path d="M660.8,1781.9 L659.7,1781.1 L658.6,1780.1 L657.7,1779.0 L656.9,1777.8 L656.3,1776.4 L655.7,1774.9 L655.3,1773.2 L655.1,1771.5 L655.0,1769.6 L655.0,1767.7 L655.2,1765.7 L655.5,1763.6 L656.0,1761.5 L656.6,1759.4 L657.3,1757.3 L658.2,1755.2 L659.2,1753.2 L660.3,1751.2 L661.5,1749.2 L662.8,1747.3 L664.2,1745.5 L665.6,1743.8 L667.1,1742.3 L668.7,1740.8 L670.3,1739.5 L671.9,1738.4 L673.6,1737.4 L675.3,1736.5 L676.9,1735.9 L678.5,1735.4 L680.1,1735.1 L681.7,1734.9 L683.1,1735.0 L684.6,1735.2 L685.9,1735.7 L687.1,1736.3 L707.4,1748.0 L681.1,1793.6 Z" stroke-width="2.3" fill="#fcfcfc" />
<ellipse cx="694.3" cy="1770.8" rx="15.8" ry="26.3" stroke-width="2.3" fill="#fcfcfc" transform="rotate(30 694.3 1770.8)" />
<line x1="658.6" y1="1780.1" x2="679.0" y2="1791.9" stroke-width="1.7249999999999999"/>
<line x1="655.3" y1="1773.2" x2="675.7" y2="1784.9" stroke-width="1.7249999999999999"/>
<line x1="655.5" y1="1763.6" x2="675.9" y2="1775.3" stroke-width="1.7249999999999999"/>
<line x1="659.2" y1="1753.2" x2="679.6" y2="1764.9" stroke-width="1.7249999999999999"/>
<line x1="665.6" y1="1743.8" x2="686.0" y2="1755.6" stroke-width="1.7249999999999999"/>
<line x1="673.6" y1="1737.4" x2="694.0" y2="1749.1" stroke-width="1.7249999999999999"/>
<line x1="681.7" y1="1734.9" x2="702.0" y2="1746.7" stroke-width="1.7249999999999999"/>
<path d="M661.7,1782.3 L660.7,1781.4 L659.9,1780.4 L659.1,1779.3 L658.5,1778.1 L658.0,1776.7 L657.6,1775.2 L657.3,1773.7 L657.1,1772.0 L657.0,1770.3 L657.1,1768.5 L657.3,1766.7 L657.6,1764.8 L658.0,1762.9 L658.5,1761.0 L659.2,1759.0 L659.9,1757.1 L660.8,1755.2 L661.8,1753.4 L662.8,1751.5 L663.9,1749.8 L665.2,1748.1 L666.4,1746.4 L667.8,1744.9 L669.2,1743.5 L670.6,1742.1 L672.1,1740.9 L673.6,1739.8 L675.1,1738.9 L676.6,1738.0 L678.1,1737.4 L679.6,1736.8 L681.1,1736.4 L682.5,1736.2 L683.9,1736.1 L685.3,1736.2 L686.6,1736.4" stroke-width="1.4949999999999999" fill="none" />
<ellipse cx="694.7" cy="1771.0" rx="4.5" ry="6.5" stroke-width="2.3" fill="none" transform="rotate(30 694.7 1771.0)" />
</g>
<clipPath id="c49"><rect x="795.9" y="1816.5" width="70.0" height="90"/></clipPath>
<g clip-path="url(#c49)">
<path d="M816.7,1878.4 L815.6,1877.6 L814.5,1876.6 L813.6,1875.5 L812.8,1874.3 L812.2,1872.9 L811.6,1871.4 L811.2,1869.7 L811.0,1868.0 L810.9,1866.1 L810.9,1864.2 L811.1,1862.2 L811.4,1860.1 L811.9,1858.0 L812.5,1855.9 L813.2,1853.8 L814.1,1851.7 L815.1,1849.7 L816.2,1847.7 L817.4,1845.7 L818.7,1843.8 L820.1,1842.0 L821.5,1840.3 L823.0,1838.8 L824.6,1837.3 L826.2,1836.0 L827.8,1834.9 L829.5,1833.9 L831.2,1833.0 L832.8,1832.4 L834.4,1831.9 L836.0,1831.6 L837.6,1831.4 L839.0,1831.5 L840.5,1831.7 L841.8,1832.2 L843.0,1832.8 L863.3,1844.5 L837.0,1890.1 Z" stroke-width="2.3" fill="#fcfcfc" />
<ellipse cx="850.2" cy="1867.3" rx="15.8" ry="26.3" stroke-width="2.3" fill="#fcfcfc" transform="rotate(30 850.2 1867.3)" />
<line x1="814.5" y1="1876.6" x2="834.9" y2="1888.4" stroke-width="1.7249999999999999"/>
<line x1="811.2" y1="1869.7" x2="831.6" y2="1881.4" stroke-width="1.7249999999999999"/>
<line x1="811.4" y1="1860.1" x2="831.8" y2="1871.8" stroke-width="1.7249999999999999"/>
<line x1="815.1" y1="1849.7" x2="835.5" y2="1861.4" stroke-width="1.7249999999999999"/>
<line x1="821.5" y1="1840.3" x2="841.9" y2="1852.1" stroke-width="1.7249999999999999"/>
<line x1="829.5" y1="1833.9" x2="849.9" y2="1845.6" stroke-width="1.7249999999999999"/>
<line x1="837.6" y1="1831.4" x2="857.9" y2="1843.2" stroke-width="1.7249999999999999"/>
<path d="M817.6,1878.8 L816.6,1877.9 L815.8,1876.9 L815.0,1875.8 L814.4,1874.6 L813.9,1873.2 L813.5,1871.7 L813.2,1870.2 L813.0,1868.5 L812.9,1866.8 L813.0,1865.0 L813.2,1863.2 L813.5,1861.3 L813.9,1859.4 L814.4,1857.5 L815.1,1855.5 L815.8,1853.6 L816.7,1851.7 L817.7,1849.9 L818.7,1848.0 L819.8,1846.3 L821.1,1844.6 L822.3,1842.9 L823.7,1841.4 L825.1,1840.0 L826.5,1838.6 L828.0,1837.4 L829.5,1836.3 L831.0,1835.4 L832.5,1834.5 L834.0,1833.9 L835.5,1833.3 L837.0,1832.9 L838.4,1832.7 L839.8,1832.6 L841.2,1832.7 L842.5,1832.9" stroke-width="1.4949999999999999" fill="none" />
<ellipse cx="850.6" cy="1867.5" rx="4.5" ry="6.5" stroke-width="2.3" fill="none" transform="rotate(30 850.6 1867.5)" />
</g>
<path d="M704.5,1844.0 L703.4,1843.2 L702.4,1842.3 L701.5,1841.2 L700.8,1840.0 L700.1,1838.7 L699.6,1837.2 L699.2,1835.6 L699.0,1833.9 L698.9,1832.1 L698.9,1830.2 L699.1,1828.3 L699.4,1826.3 L699.9,1824.3 L700.5,1822.3 L701.2,1820.2 L702.0,1818.2 L703.0,1816.2 L704.0,1814.3 L705.2,1812.4 L706.5,1810.5 L707.8,1808.8 L709.2,1807.2 L710.7,1805.7 L712.2,1804.3 L713.7,1803.0 L715.3,1801.9 L716.9,1800.9 L718.5,1800.1 L720.1,1799.4 L721.7,1799.0 L723.2,1798.7 L724.7,1798.6 L726.2,1798.6 L727.5,1798.8 L728.8,1799.3 L730.0,1799.8 L746.2,1809.2 L720.7,1853.3 Z" stroke-width="2.3" fill="#fcfcfc" />
<ellipse cx="733.5" cy="1831.2" rx="15.3" ry="25.5" stroke-width="2.3" fill="#fcfcfc" transform="rotate(30 733.5 1831.2)" />
<line x1="700.8" y1="1840.0" x2="716.9" y2="1849.4" stroke-width="1.7249999999999999"/>
<line x1="698.9" y1="1832.1" x2="715.0" y2="1841.4" stroke-width="1.7249999999999999"/>
<line x1="700.5" y1="1822.3" x2="716.6" y2="1831.6" stroke-width="1.7249999999999999"/>
<line x1="705.2" y1="1812.4" x2="721.3" y2="1821.7" stroke-width="1.7249999999999999"/>
<line x1="712.2" y1="1804.3" x2="728.3" y2="1813.6" stroke-width="1.7249999999999999"/>
<line x1="720.1" y1="1799.4" x2="736.3" y2="1808.8" stroke-width="1.7249999999999999"/>
<line x1="726.2" y1="1798.6" x2="742.3" y2="1808.0" stroke-width="1.7249999999999999"/>
<path d="M718.0,1880.1 L716.2,1878.9 L714.6,1877.3 L713.2,1875.5 L712.1,1873.3 L711.2,1870.9 L710.5,1868.2 L710.1,1865.3 L710.0,1862.1 L710.0,1858.8 L710.4,1855.3 L710.9,1851.7 L711.8,1847.9 L712.8,1844.1 L714.1,1840.2 L715.6,1836.3 L717.3,1832.4 L719.2,1828.6 L721.3,1824.8 L723.5,1821.1 L725.9,1817.5 L728.4,1814.1 L731.1,1810.8 L733.8,1807.8 L736.6,1805.0 L739.4,1802.4 L742.2,1800.1 L745.1,1798.1 L747.9,1796.3 L750.7,1794.9 L753.5,1793.8 L756.1,1793.0 L758.7,1792.6 L761.1,1792.5 L763.4,1792.7 L765.6,1793.3 L767.5,1794.2 L781.5,1802.3 L731.9,1888.2 Z" stroke-width="2.3" fill="#fcfcfc" />
<ellipse cx="756.7" cy="1845.3" rx="24.8" ry="49.6" stroke-width="2.3" fill="#fcfcfc" transform="rotate(30 756.7 1845.3)" />
<ellipse cx="751.2" cy="1846.5" rx="10.2" ry="17.0" stroke-width="1.8399999999999999" fill="none" transform="rotate(30 751.2 1846.5)" />
<path d="M750.3,1860.8 L749.1,1861.0 L748.0,1861.0 L746.9,1860.9 L745.9,1860.6 L745.0,1860.1 L744.2,1859.5 L743.5,1858.7 L743.0,1857.7 L742.5,1856.7 L742.2,1855.5 L742.0,1854.2 L741.9,1852.8 L742.0,1851.3 L742.2,1849.8 L742.6,1848.3 L743.0,1846.7 L743.6,1845.2 L744.4,1843.6 L745.2,1842.1 L746.1,1840.7 L747.1,1839.4 L748.2,1838.1 L749.3,1837.0 L750.5,1835.9 L751.7,1835.1 L752.9,1834.3 L754.2,1833.7 L755.4,1833.3 L756.6,1833.1 L757.7,1833.0 L758.8,1833.1 L759.8,1833.4 L760.7,1833.9 L761.5,1834.5 L762.2,1835.3 L762.8,1836.2" stroke-width="1.6099999999999999" fill="none" />
<ellipse cx="750.4" cy="1846.0" rx="6.3" ry="10.5" stroke-width="2.07" fill="none" transform="rotate(30 750.4 1846.0)" />
<path d="M749.4,1855.3 L748.7,1855.2 L748.1,1855.1 L747.6,1854.9 L747.1,1854.5 L746.6,1854.1 L746.2,1853.6 L745.9,1853.1 L745.7,1852.4 L745.5,1851.7 L745.4,1851.0 L745.4,1850.1 L745.4,1849.3 L745.5,1848.4 L745.7,1847.5 L746.0,1846.6 L746.4,1845.7 L746.8,1844.8 L747.2,1843.9 L747.8,1843.1 L748.3,1842.2 L749.0,1841.5 L749.6,1840.8 L750.3,1840.2 L751.0,1839.6 L751.7,1839.1 L752.4,1838.8 L753.1,1838.5 L753.8,1838.3 L754.5,1838.2 L755.2,1838.1 L755.8,1838.2 L756.4,1838.4 L756.9,1838.7 L757.4,1839.1 L757.8,1839.5 L758.1,1840.1" stroke-width="1.6099999999999999" fill="none" />
<path d="M751.3,1828.1 L751.9,1827.5 L752.5,1826.9 L753.1,1826.3 L753.7,1825.7 L754.3,1825.2 L755.0,1824.7 L755.6,1824.3 L756.3,1823.9 L756.9,1823.5 L757.6,1823.1 L758.2,1822.8 L758.9,1822.6 L759.5,1822.3 L760.2,1822.1 L760.8,1822.0 L761.4,1821.9 L762.0,1821.8 L762.6,1821.8 L763.2,1821.8 L763.8,1821.8 L764.4,1821.9 L764.9,1822.0 L765.4,1822.2 L765.9,1822.4 L766.4,1822.7 L766.9,1822.9 L767.3,1823.3 L767.8,1823.6 L768.1,1824.0 L768.5,1824.4 L768.9,1824.9 L769.2,1825.4 L769.5,1825.9 L769.7,1826.5 L769.9,1827.1 L770.1,1827.7" stroke-width="1.6099999999999999" fill="none" />
<ellipse cx="733.9" cy="1846.5" rx="2.5" ry="3.7" stroke-width="1.8399999999999999" fill="none" transform="rotate(25 733.9 1846.5)" />
<ellipse cx="755.8" cy="1875.7" rx="2.5" ry="3.7" stroke-width="1.8399999999999999" fill="none" transform="rotate(25 755.8 1875.7)" />
<path d="M761.1,1821.3 L760.8,1821.1 L760.6,1820.9 L760.4,1820.7 L760.2,1820.4 L760.1,1820.1 L760.0,1819.8 L759.9,1819.4 L759.8,1819.0 L759.8,1818.6 L759.8,1818.2 L759.9,1817.7 L759.9,1817.3 L760.0,1816.8 L760.2,1816.4 L760.3,1815.9 L760.5,1815.5 L760.7,1815.0 L761.0,1814.6 L761.2,1814.1 L761.5,1813.7 L761.8,1813.3 L762.1,1813.0 L762.5,1812.6 L762.8,1812.3 L763.2,1812.0 L763.5,1811.8 L763.9,1811.5 L764.3,1811.4 L764.6,1811.2 L765.0,1811.1 L765.3,1811.0 L765.7,1811.0 L766.0,1811.0 L766.3,1811.1 L766.6,1811.2 L766.9,1811.3 L780.4,1819.1 L774.6,1829.1 Z" stroke-width="2.07" fill="#fcfcfc" />
<ellipse cx="777.5" cy="1824.1" rx="3.5" ry="5.8" stroke-width="2.07" fill="#fcfcfc" transform="rotate(30 777.5 1824.1)" />
<path d="M771.6,1862.8 L771.4,1862.7 L771.2,1862.5 L771.0,1862.3 L770.9,1862.0 L770.7,1861.8 L770.6,1861.5 L770.6,1861.2 L770.5,1860.8 L770.5,1860.5 L770.5,1860.1 L770.5,1859.7 L770.6,1859.3 L770.7,1858.9 L770.8,1858.5 L771.0,1858.1 L771.1,1857.7 L771.3,1857.3 L771.5,1856.9 L771.8,1856.5 L772.0,1856.1 L772.3,1855.8 L772.6,1855.5 L772.8,1855.2 L773.2,1854.9 L773.5,1854.6 L773.8,1854.4 L774.1,1854.2 L774.4,1854.1 L774.7,1853.9 L775.1,1853.8 L775.4,1853.8 L775.7,1853.7 L775.9,1853.8 L776.2,1853.8 L776.5,1853.9 L776.7,1854.0 L791.1,1862.3 L786.0,1871.2 Z" stroke-width="2.07" fill="#fcfcfc" />
<ellipse cx="788.6" cy="1866.7" rx="3.1" ry="5.1" stroke-width="2.07" fill="#fcfcfc" transform="rotate(30 788.6 1866.7)" />
<path d="M728.8,1874.5 L728.6,1874.3 L728.3,1874.1 L728.1,1873.8 L728.0,1873.6 L727.8,1873.3 L727.7,1872.9 L727.6,1872.6 L727.6,1872.2 L727.5,1871.8 L727.6,1871.3 L727.6,1870.9 L727.7,1870.5 L727.8,1870.0 L727.9,1869.5 L728.1,1869.1 L728.3,1868.6 L728.5,1868.2 L728.7,1867.7 L729.0,1867.3 L729.3,1866.9 L729.6,1866.5 L729.9,1866.1 L730.2,1865.8 L730.6,1865.5 L730.9,1865.2 L731.3,1864.9 L731.6,1864.7 L732.0,1864.5 L732.4,1864.4 L732.7,1864.3 L733.1,1864.2 L733.4,1864.2 L733.7,1864.2 L734.0,1864.2 L734.3,1864.3 L734.6,1864.5 L749.0,1872.8 L743.2,1882.8 Z" stroke-width="2.07" fill="#fcfcfc" />
<ellipse cx="746.1" cy="1877.8" rx="3.5" ry="5.8" stroke-width="2.07" fill="#fcfcfc" transform="rotate(30 746.1 1877.8)" />
<ellipse cx="1358.0" cy="1674.0" rx="4.5" ry="4.5" stroke-width="1.7249999999999999" fill="none" />
<clipPath id="c41"><rect x="1382.4" y="1670" width="60" height="90"/></clipPath>
<g clip-path="url(#c41)">
<ellipse cx="1400.0" cy="1712.0" rx="20.0" ry="33.0" stroke-width="1.8399999999999999" fill="none" transform="rotate(30 1400.0 1712.0)" />
<ellipse cx="1403.0" cy="1713.0" rx="20.0" ry="32.0" stroke-width="1.8399999999999999" fill="none" transform="rotate(30 1403.0 1713.0)" />
<ellipse cx="1405.0" cy="1714.0" rx="11.0" ry="19.0" stroke-width="2.07" fill="none" transform="rotate(30 1405.0 1714.0)" />
<path d="M1405.3,1728.4 L1404.1,1728.7 L1403.0,1728.7 L1401.9,1728.5 L1401.0,1728.2 L1400.1,1727.7 L1399.3,1727.0 L1398.7,1726.2 L1398.1,1725.2 L1397.7,1724.1 L1397.5,1722.8 L1397.4,1721.5 L1397.4,1720.0 L1397.6,1718.5 L1397.9,1716.9 L1398.4,1715.4 L1398.9,1713.8 L1399.6,1712.2 L1400.5,1710.7 L1401.4,1709.2 L1402.4,1707.8 L1403.5,1706.5 L1404.6,1705.3 L1405.8,1704.2 L1407.0,1703.3 L1408.3,1702.6 L1409.5,1702.0 L1410.7,1701.6 L1411.9,1701.3 L1413.0,1701.3 L1414.1,1701.5 L1415.0,1701.8 L1415.9,1702.3 L1416.7,1703.0 L1417.3,1703.8 L1417.9,1704.8 L1418.3,1705.9" stroke-width="1.6099999999999999" fill="none" />
</g>
<path d="M1449.5,1753.5 L1449.0,1753.2 L1448.6,1752.8 L1448.2,1752.3 L1447.9,1751.8 L1447.6,1751.2 L1447.4,1750.6 L1447.2,1749.9 L1447.1,1749.2 L1447.1,1748.4 L1447.1,1747.6 L1447.2,1746.8 L1447.3,1745.9 L1447.5,1745.0 L1447.7,1744.2 L1448.1,1743.3 L1448.4,1742.4 L1448.8,1741.5 L1449.3,1740.7 L1449.8,1739.9 L1450.3,1739.1 L1450.9,1738.3 L1451.5,1737.6 L1452.1,1737.0 L1452.8,1736.4 L1453.5,1735.8 L1454.2,1735.3 L1454.8,1734.9 L1455.5,1734.6 L1456.2,1734.3 L1456.9,1734.1 L1457.6,1734.0 L1458.2,1733.9 L1458.8,1733.9 L1459.4,1734.0 L1460.0,1734.2 L1460.5,1734.5 L1479.6,1745.5 L1468.6,1764.5 Z" stroke-width="2.07" fill="#fcfcfc" />
<ellipse cx="1474.1" cy="1755.0" rx="6.6" ry="11.0" stroke-width="2.07" fill="#fcfcfc" transform="rotate(30 1474.1 1755.0)" />
<path d="M1463,1736 L1478,1733 L1470,1768 L1457,1757 Z" stroke-width="1.8399999999999999" fill="#fcfcfc" />
<ellipse cx="1483.0" cy="1759.0" rx="15.0" ry="26.0" stroke-width="2.07" fill="#fcfcfc" transform="rotate(30 1483.0 1759.0)" />
<path d="M1489.3,1759.0 L1486.0,1761.5 L1486.2,1766.8 L1483.0,1764.0 L1479.8,1766.8 L1480.0,1761.5 L1476.7,1759.0 L1480.0,1756.5 L1479.8,1751.2 L1483.0,1754.0 L1486.2,1751.2 L1486.0,1756.5 Z" stroke-width="1.6099999999999999" fill="none" />
<clipPath id="c44"><rect x="150" y="1460" width="200" height="137.5"/></clipPath>
<g clip-path="url(#c44)">
<ellipse cx="212.1" cy="1535.1" rx="43.5" ry="66.9" stroke-width="2.3" fill="#fcfcfc" transform="rotate(30 212.1 1535.1)" />
<ellipse cx="216.9" cy="1537.7" rx="43.5" ry="66.9" stroke-width="2.3" fill="#fcfcfc" transform="rotate(30 216.9 1537.7)" />
<ellipse cx="221.2" cy="1539.7" rx="39.1" ry="62.1" stroke-width="1.4949999999999999" fill="none" transform="rotate(30 221.2 1539.7)" />
<path d="M202.4,1587.3 L200.3,1585.8 L198.4,1584.0 L196.7,1581.9 L195.2,1579.5 L194.0,1576.8 L193.1,1573.8 L192.4,1570.6 L192.0,1567.2 L191.9,1563.6 L192.1,1559.9 L192.5,1556.0 L193.2,1552.0 L194.2,1547.9 L195.4,1543.8 L196.9,1539.6 L198.6,1535.5 L200.6,1531.5 L202.7,1527.5 L205.1,1523.6 L207.6,1519.9 L210.3,1516.4 L213.2,1513.0 L216.1,1509.9 L219.2,1507.0 L222.3,1504.4 L225.4,1502.1 L228.6,1500.0 L231.8,1498.3 L234.9,1497.0 L238.0,1496.0 L241.1,1495.3 L244.0,1495.0 L246.8,1495.0 L249.5,1495.4 L252.0,1496.2 L254.3,1497.3 L268.5,1505.5 L216.6,1595.4 Z" stroke-width="2.3" fill="#fcfcfc" />
<ellipse cx="242.5" cy="1550.5" rx="29.6" ry="51.9" stroke-width="2.3" fill="#fcfcfc" transform="rotate(30 242.5 1550.5)" />
</g>
<ellipse cx="239.8" cy="1548.2" rx="10.2" ry="17.0" stroke-width="2.07" fill="none" transform="rotate(30 239.8 1548.2)" />
<path d="M239.6,1564.2 L238.3,1564.4 L237.0,1564.4 L235.9,1564.3 L234.8,1563.9 L233.8,1563.3 L232.9,1562.6 L232.2,1561.6 L231.6,1560.5 L231.1,1559.3 L230.8,1557.9 L230.7,1556.4 L230.7,1554.8 L230.8,1553.2 L231.2,1551.5 L231.7,1549.7 L232.3,1548.0 L233.0,1546.3 L233.9,1544.6 L234.9,1543.0 L236.0,1541.5 L237.2,1540.0 L238.5,1538.8 L239.8,1537.6 L241.2,1536.6 L242.5,1535.8 L243.9,1535.2 L245.3,1534.8 L246.6,1534.6 L247.8,1534.5 L249.0,1534.7 L250.1,1535.1 L251.1,1535.7 L251.9,1536.4 L252.7,1537.3 L253.3,1538.4 L253.7,1539.7" stroke-width="1.6099999999999999" fill="none" />
<ellipse cx="215.3" cy="1548.8" rx="2.6" ry="3.9" stroke-width="1.6099999999999999" fill="none" transform="rotate(20 215.3 1548.8)" />
<ellipse cx="242.4" cy="1584.1" rx="2.0" ry="3.3" stroke-width="1.4949999999999999" fill="none" transform="rotate(20 242.4 1584.1)" />
<path d="M250.1,1521.5 L249.7,1521.3 L249.4,1520.9 L249.1,1520.6 L248.8,1520.2 L248.6,1519.7 L248.4,1519.2 L248.3,1518.6 L248.2,1518.0 L248.1,1517.4 L248.2,1516.8 L248.2,1516.1 L248.3,1515.4 L248.5,1514.7 L248.7,1514.0 L248.9,1513.3 L249.2,1512.6 L249.6,1511.9 L249.9,1511.2 L250.3,1510.6 L250.8,1510.0 L251.2,1509.4 L251.7,1508.8 L252.2,1508.3 L252.7,1507.8 L253.3,1507.3 L253.8,1507.0 L254.4,1506.6 L254.9,1506.3 L255.5,1506.1 L256.0,1506.0 L256.6,1505.8 L257.1,1505.8 L257.6,1505.8 L258.1,1505.9 L258.5,1506.0 L258.9,1506.2 L275.3,1515.7 L266.5,1531.0 Z" stroke-width="2.07" fill="#fcfcfc" />
<ellipse cx="270.9" cy="1523.4" rx="5.3" ry="8.8" stroke-width="2.07" fill="#fcfcfc" transform="rotate(30 270.9 1523.4)" />
<path d="M264.8,1572.8 L264.4,1572.5 L264.1,1572.2 L263.8,1571.9 L263.5,1571.4 L263.3,1571.0 L263.1,1570.5 L263.0,1569.9 L262.9,1569.3 L262.8,1568.7 L262.9,1568.0 L262.9,1567.4 L263.0,1566.7 L263.2,1566.0 L263.4,1565.3 L263.6,1564.6 L263.9,1563.9 L264.3,1563.2 L264.6,1562.5 L265.0,1561.9 L265.5,1561.2 L265.9,1560.6 L266.4,1560.1 L266.9,1559.5 L267.4,1559.1 L268.0,1558.6 L268.5,1558.2 L269.1,1557.9 L269.6,1557.6 L270.2,1557.4 L270.7,1557.2 L271.3,1557.1 L271.8,1557.1 L272.3,1557.1 L272.7,1557.2 L273.2,1557.3 L273.6,1557.5 L290.0,1567.0 L281.2,1582.3 Z" stroke-width="2.07" fill="#fcfcfc" />
<ellipse cx="285.6" cy="1574.6" rx="5.3" ry="8.8" stroke-width="2.07" fill="#fcfcfc" transform="rotate(30 285.6 1574.6)" />
<path d="M214.8,1586.8 L214.4,1586.6 L214.1,1586.3 L213.8,1585.9 L213.5,1585.5 L213.3,1585.0 L213.1,1584.5 L213.0,1583.9 L212.9,1583.4 L212.9,1582.7 L212.9,1582.1 L213.0,1581.4 L213.1,1580.7 L213.2,1580.0 L213.4,1579.3 L213.7,1578.6 L214.0,1577.9 L214.3,1577.2 L214.7,1576.6 L215.1,1575.9 L215.5,1575.3 L216.0,1574.7 L216.4,1574.1 L216.9,1573.6 L217.5,1573.1 L218.0,1572.7 L218.6,1572.3 L219.1,1571.9 L219.7,1571.7 L220.2,1571.4 L220.8,1571.3 L221.3,1571.2 L221.8,1571.1 L222.3,1571.1 L222.8,1571.2 L223.2,1571.4 L223.6,1571.6 L240.0,1581.0 L231.2,1596.3 Z" stroke-width="2.07" fill="#fcfcfc" />
<ellipse cx="235.6" cy="1588.7" rx="5.3" ry="8.8" stroke-width="2.07" fill="#fcfcfc" transform="rotate(30 235.6 1588.7)" />
<path d="M308.1,1678.2 L305.0,1676.1 L302.3,1673.4 L299.9,1670.3 L297.9,1666.7 L296.2,1662.7 L295.0,1658.2 L294.2,1653.4 L293.8,1648.2 L293.8,1642.7 L294.2,1637.0 L295.0,1631.1 L296.2,1624.9 L297.8,1618.7 L299.8,1612.4 L302.2,1606.0 L304.9,1599.7 L308.0,1593.5 L311.4,1587.3 L315.0,1581.3 L318.9,1575.5 L323.0,1570.0 L327.3,1564.8 L331.8,1559.9 L336.4,1555.4 L341.1,1551.2 L345.8,1547.6 L350.6,1544.3 L355.3,1541.6 L360.0,1539.4 L364.6,1537.7 L369.1,1536.5 L373.4,1535.9 L377.5,1535.9 L381.4,1536.4 L385.0,1537.4 L388.4,1539.0 L407.6,1550.1 L327.3,1689.3 Z" stroke-width="2.3" fill="#fcfcfc" />
<ellipse cx="367.5" cy="1619.7" rx="42.6" ry="80.3" stroke-width="2.3" fill="#fcfcfc" transform="rotate(30 367.5 1619.7)" />
<ellipse cx="368.8" cy="1620.0" rx="40.2" ry="75.8" stroke-width="1.6099999999999999" fill="none" transform="rotate(30 368.8 1620.0)" />
<ellipse cx="370.4" cy="1620.7" rx="35.9" ry="65.3" stroke-width="6.8999999999999995" fill="none" transform="rotate(30 370.4 1620.7)" />
<ellipse cx="371.4" cy="1621.3" rx="30.5" ry="55.5" stroke-width="1.7249999999999999" fill="none" transform="rotate(30 371.4 1621.3)" />
<path d="M356.5,1673.5 L353.7,1672.6 L351.2,1671.3 L348.9,1669.6 L346.8,1667.4 L345.1,1664.8 L343.7,1661.9 L342.6,1658.6 L341.9,1655.0 L341.5,1651.1 L341.4,1647.0 L341.7,1642.7 L342.4,1638.2 L343.3,1633.6 L344.7,1628.9 L346.3,1624.1 L348.2,1619.4 L350.5,1614.7 L352.9,1610.1 L355.7,1605.7 L358.6,1601.4 L361.7,1597.3 L365.0,1593.6 L368.5,1590.1 L372.0,1586.9 L375.5,1584.1 L379.2,1581.7 L382.8,1579.7 L386.3,1578.1 L389.8,1576.9 L393.2,1576.2 L396.4,1576.0 L399.5,1576.2 L402.4,1576.9 L405.0,1578.0 L407.5,1579.5 L409.6,1581.5" stroke-width="1.6099999999999999" fill="none" />
<path d="M400.4,1591.8 L400.0,1593.8 L399.4,1596.0 L398.8,1598.2 L398.2,1600.4 L397.4,1602.6 L396.6,1604.9 L395.7,1607.2 L394.8,1609.5 L393.8,1611.8 L392.8,1614.1 L391.6,1616.5 L390.5,1618.8 L389.3,1621.1 L388.0,1623.4 L386.7,1625.6 L385.3,1627.9 L383.9,1630.1 L382.5,1632.2 L381.1,1634.3 L379.6,1636.4 L378.1,1638.4 L376.5,1640.4 L375.0,1642.2 L373.4,1644.1 L371.8,1645.8 L370.2,1647.5 L368.6,1649.1 L367.1,1650.6 L365.5,1652.0 L363.9,1653.4 L362.3,1654.6 L360.8,1655.7 L359.3,1656.8 L357.7,1657.7 L356.3,1658.6 L354.8,1659.3" stroke-width="1.4949999999999999" fill="none" />
<path d="M502.7,1615.1 C510.3,1610.0 516.0,1599.9 522.3,1595.5 C528.6,1591.2 533.7,1588.5 540.3,1589.0 C546.8,1589.5 556.3,1594.7 561.5,1598.8 C566.7,1602.9 571.0,1607.2 571.3,1613.5 C571.6,1619.8 569.1,1631.5 563.1,1636.4 C557.1,1641.3 549.8,1634.2 535.4,1642.9 C520.9,1651.6 486.4,1664.7 476.6,1688.6 C466.8,1712.6 478.8,1767.5 476.6,1786.6 C474.4,1805.6 467.9,1799.5 463.5,1802.9 C459.2,1806.3 455.4,1807.4 450.5,1806.8 C445.6,1806.3 438.5,1803.0 434.1,1799.6 C429.8,1796.3 425.3,1791.5 424.3,1786.6 C423.4,1781.7 427.4,1776.2 428.2,1770.3 C429.1,1764.3 430.4,1756.1 429.2,1750.7 C428.0,1745.2 422.4,1743.0 421.1,1737.6 C419.7,1732.2 420.0,1722.9 421.1,1718.0 C422.2,1713.1 426.0,1712.0 427.6,1708.2 C429.2,1704.4 431.7,1701.1 430.9,1695.1 C430.0,1689.2 423.5,1678.8 422.7,1672.3 C421.9,1665.7 423.0,1660.4 426.0,1656.0 C429.0,1651.5 435.5,1646.6 440.7,1645.5 C445.8,1644.4 451.0,1652.6 457.0,1649.4 C463.0,1646.3 469.0,1632.3 476.6,1626.6 C484.2,1620.8 495.1,1620.3 502.7,1615.1 Z" stroke-width="2.3" fill="#fcfcfc" />
<path d="M453.7,1651.1 C452.4,1654.6 445.6,1663.8 445.6,1672.3 C445.6,1680.7 452.4,1696.8 453.7,1701.7" stroke-width="1.8399999999999999" fill="none" />
<path d="M453.7,1806.2 C452.4,1802.9 445.6,1793.7 445.6,1786.6 C445.6,1779.5 452.4,1767.5 453.7,1763.7" stroke-width="1.8399999999999999" fill="none" />
<path d="M445.6,1764.2 L441.9,1761.7 L438.6,1758.7 L435.6,1755.3 L433.0,1751.3 L430.9,1746.9 L429.1,1742.1 L427.8,1736.9 L426.9,1731.4 L426.5,1725.6 L426.6,1719.6 L427.1,1713.3 L428.0,1706.9 L429.4,1700.5 L431.2,1693.9 L433.5,1687.4 L436.1,1680.9 L439.2,1674.5 L442.5,1668.2 L446.3,1662.1 L450.3,1656.3 L454.6,1650.8 L459.1,1645.5 L463.9,1640.7 L468.8,1636.2 L473.9,1632.2 L479.0,1628.7 L484.2,1625.6 L489.5,1623.1 L494.7,1621.1 L499.8,1619.6 L504.9,1618.7 L509.7,1618.4 L514.5,1618.7 L519.0,1619.5 L523.2,1620.9 L527.2,1622.8 L612.1,1671.8 L530.4,1813.2 Z" stroke-width="2.3" fill="#fcfcfc" />
<ellipse cx="571.2" cy="1742.5" rx="50.6" ry="81.6" stroke-width="2.3" fill="#fcfcfc" transform="rotate(30 571.2 1742.5)" />
<path d="M428.0,1706.9 L428.8,1702.9 L429.8,1698.9 L431.0,1694.8 L432.3,1690.7 L433.7,1686.6 L435.4,1682.6 L437.2,1678.6 L439.1,1674.6 L441.1,1670.7 L443.3,1666.8 L445.7,1663.1 L448.1,1659.4 L450.7,1655.8 L453.3,1652.3 L456.1,1649.0 L458.9,1645.8 L461.9,1642.7 L464.9,1639.8 L467.9,1637.0 L471.1,1634.4 L474.2,1632.0 L477.4,1629.7 L480.7,1627.7 L483.9,1625.8 L487.2,1624.1 L490.4,1622.7 L493.6,1621.4 L496.9,1620.4 L500.0,1619.6 L503.2,1619.0 L506.3,1618.6 L509.3,1618.4 L512.3,1618.5 L515.2,1618.7 L518.0,1619.2 L520.7,1620.0" stroke-width="2.3" fill="none" />
<path d="M468.3,1680.2 L460.4,1689.1 L450.7,1684.4 L449.0,1670.9 L456.8,1662.0 L466.5,1666.7 Z" stroke-width="1.8399999999999999" fill="#fcfcfc" />
<ellipse cx="458.6" cy="1675.5" rx="5.8" ry="7.5" stroke-width="1.8399999999999999" fill="none" transform="rotate(20 458.6 1675.5)" />
<path d="M565.3,1624.3 L558.2,1632.2 L549.5,1628.0 L547.9,1615.8 L555.0,1607.8 L563.7,1612.0 Z" stroke-width="1.8399999999999999" fill="#fcfcfc" />
<ellipse cx="556.6" cy="1620.0" rx="5.2" ry="6.8" stroke-width="1.8399999999999999" fill="none" transform="rotate(20 556.6 1620.0)" />
<path d="M466.7,1794.5 L458.8,1803.4 L449.1,1798.7 L447.3,1785.2 L455.2,1776.3 L464.9,1781.0 Z" stroke-width="1.8399999999999999" fill="#fcfcfc" />
<ellipse cx="457.0" cy="1789.8" rx="5.8" ry="7.5" stroke-width="1.8399999999999999" fill="none" transform="rotate(20 457.0 1789.8)" />
<line x1="558.2" y1="1620.0" x2="597.4" y2="1641.3" stroke-width="1.8399999999999999"/>
<line x1="558.2" y1="1626.6" x2="595.8" y2="1647.8" stroke-width="1.8399999999999999"/>
<path d="M618.5,1655.7 L610.6,1664.6 L601.0,1659.9 L599.2,1646.4 L607.1,1637.5 L616.7,1642.2 Z" stroke-width="1.8399999999999999" fill="#fcfcfc" />
<ellipse cx="608.9" cy="1651.1" rx="5.8" ry="7.5" stroke-width="1.8399999999999999" fill="none" transform="rotate(20 608.9 1651.1)" />
<path d="M421.1,1714.7 L437.4,1708.2 L517.4,1747.4 L510.9,1757.2 L507.6,1783.3 L422.7,1740.9 Z" fill="#fcfcfc" style="stroke:none"/>
<path d="M512.5,1755.6 L421.1,1713.1 L421.7,1740.9 L506.6,1782.7" stroke-width="2.3" fill="none" />
<path d="M421.1,1713.1 L437.4,1707.6 L518.4,1748.0" stroke-width="2.07" fill="none" />
<path d="M421.7,1740.9 C422.7,1743.0 426.6,1748.5 427.6,1753.9 C428.6,1759.4 427.6,1770.3 427.6,1773.5" stroke-width="2.07" fill="none" />
<path d="M613.6,1766.0 L606.8,1776.3 L599.0,1785.7 L590.4,1793.7 L581.2,1800.1 L571.8,1804.8 L562.4,1807.6 L553.4,1808.5 L544.9,1807.3 L537.3,1804.2 L530.8,1799.1 L525.6,1792.4 L521.8,1784.1 L519.5,1774.6 L518.9,1764.1 L519.9,1753.0 L522.5,1741.5 L526.7,1730.1 L532.2,1719.0 L539.0,1708.7 L546.9,1699.3 L555.5,1691.3 L564.6,1684.9 L574.0,1680.2 L583.4,1677.4 L592.5,1676.5 L600.9,1677.7 L608.5,1680.8 L615.0,1685.9 L620.3,1692.6 L624.1,1700.8 L626.4,1710.4 L627.0,1720.9 L626.0,1732.0 L623.3,1743.5 L619.2,1754.9 L613.6,1766.0" stroke-width="2.07" fill="none" />
<path d="M518.4,1748.0 L511.9,1755.6 L507.6,1783.3 L519.0,1789.8 L522.3,1778.4 L512.5,1773.5" stroke-width="2.07" fill="none" />
<path d="M620.3,1688.6 L633.3,1695.1 L626.8,1701.7 L631.7,1721.3 L621.9,1724.5" stroke-width="1.8399999999999999" fill="none" />
<line x1="571.3" y1="1688.6" x2="620.3" y2="1714.7" stroke-width="1.6099999999999999"/>
<line x1="564.8" y1="1695.1" x2="621.9" y2="1724.5" stroke-width="1.6099999999999999"/>
<line x1="519.0" y1="1789.8" x2="528.8" y2="1812.7" stroke-width="1.6099999999999999"/>
<path d="M919.2,1488.4 L915.8,1488.3 L912.7,1487.6 L909.8,1486.5 L907.2,1484.8 L904.9,1482.6 L902.9,1480.0 L901.3,1476.9 L900.1,1473.4 L899.3,1469.6 L898.9,1465.4 L898.9,1461.0 L899.3,1456.4 L900.2,1451.6 L901.4,1446.7 L903.0,1441.7 L904.9,1436.8 L907.3,1431.9 L909.9,1427.1 L912.8,1422.6 L915.9,1418.2 L919.3,1414.1 L922.8,1410.4 L926.5,1407.0 L930.3,1404.0 L934.1,1401.5 L937.9,1399.4 L941.7,1397.9 L945.4,1396.8 L948.9,1396.3 L952.3,1396.3 L955.5,1396.8 L958.5,1397.9 L961.1,1399.5 L963.5,1401.6 L965.5,1404.1 L967.2,1407.1" stroke-width="2.53" fill="none" />
<path d="M942.3,1501.6 L939.0,1501.5 L935.8,1500.9 L932.9,1499.7 L930.3,1498.0 L928.0,1495.8 L926.1,1493.2 L924.5,1490.1 L923.3,1486.7 L922.5,1482.8 L922.1,1478.7 L922.1,1474.3 L922.5,1469.6 L923.3,1464.8 L924.5,1459.9 L926.1,1455.0 L928.1,1450.0 L930.4,1445.1 L933.0,1440.4 L935.9,1435.8 L939.1,1431.4 L942.4,1427.3 L946.0,1423.6 L949.7,1420.2 L953.4,1417.2 L957.2,1414.7 L961.1,1412.6 L964.8,1411.1 L968.5,1410.0 L972.1,1409.5 L975.5,1409.5 L978.7,1410.1 L981.6,1411.1 L984.3,1412.7 L986.6,1414.8 L988.7,1417.4 L990.3,1420.3" stroke-width="2.53" fill="none" />
<path d="M965.5,1514.8 L962.1,1514.7 L959.0,1514.1 L956.1,1512.9 L953.5,1511.2 L951.2,1509.1 L949.2,1506.4 L947.6,1503.4 L946.4,1499.9 L945.6,1496.0 L945.2,1491.9 L945.2,1487.5 L945.6,1482.9 L946.5,1478.1 L947.7,1473.1 L949.3,1468.2 L951.2,1463.2 L953.5,1458.4 L956.2,1453.6 L959.1,1449.0 L962.2,1444.7 L965.6,1440.6 L969.1,1436.8 L972.8,1433.4 L976.6,1430.5 L980.4,1427.9 L984.2,1425.9 L988.0,1424.3 L991.7,1423.3 L995.2,1422.7 L998.6,1422.7 L1001.8,1423.3 L1004.8,1424.4 L1007.4,1425.9 L1009.8,1428.0 L1011.8,1430.6 L1013.5,1433.6" stroke-width="2.53" fill="none" />
<path d="M988.6,1528.1 L985.3,1528.0 L982.1,1527.3 L979.2,1526.1 L976.6,1524.5 L974.3,1522.3 L972.4,1519.7 L970.8,1516.6 L969.6,1513.1 L968.8,1509.3 L968.4,1505.1 L968.4,1500.7 L968.8,1496.1 L969.6,1491.3 L970.8,1486.4 L972.4,1481.4 L974.4,1476.5 L976.7,1471.6 L979.3,1466.8 L982.2,1462.2 L985.4,1457.9 L988.7,1453.8 L992.3,1450.0 L996.0,1446.7 L999.7,1443.7 L1003.5,1441.2 L1007.4,1439.1 L1011.1,1437.5 L1014.8,1436.5 L1018.4,1436.0 L1021.8,1436.0 L1025.0,1436.5 L1027.9,1437.6 L1030.6,1439.2 L1032.9,1441.3 L1035.0,1443.8 L1036.6,1446.8" stroke-width="2.53" fill="none" />
<ellipse cx="1027.0" cy="1495.2" rx="28.8" ry="50.6" stroke-width="2.53" fill="none" transform="rotate(30 1027.0 1495.2)" />
<path d="M1049.3,1464.3 L1049.7,1466.1 L1050.0,1468.0 L1050.2,1469.9 L1050.3,1472.0 L1050.3,1474.0 L1050.2,1476.2 L1050.0,1478.4 L1049.6,1480.6 L1049.2,1482.9 L1048.7,1485.2 L1048.1,1487.5 L1047.3,1489.9 L1046.5,1492.2 L1045.6,1494.5 L1044.6,1496.9 L1043.5,1499.2 L1042.3,1501.4 L1041.1,1503.7 L1039.8,1505.9 L1038.4,1508.0 L1036.9,1510.1 L1035.4,1512.1 L1033.9,1514.1 L1032.2,1516.0 L1030.6,1517.8 L1028.9,1519.5 L1027.2,1521.1 L1025.4,1522.6 L1023.6,1524.0 L1021.8,1525.3 L1020.0,1526.5 L1018.2,1527.5 L1016.4,1528.4 L1014.6,1529.2 L1012.9,1529.9 L1011.1,1530.5" stroke-width="2.3" fill="none" />
<path d="M1080.8,1605.3 L1078.4,1603.7 L1076.4,1601.6 L1074.6,1599.0 L1073.2,1596.0 L1072.1,1592.6 L1071.4,1588.9 L1070.9,1584.8 L1070.9,1580.4 L1071.1,1575.7 L1071.8,1570.8 L1072.7,1565.7 L1074.0,1560.4 L1075.6,1554.9 L1077.5,1549.4 L1079.8,1543.9 L1082.3,1538.3 L1085.0,1532.8 L1088.0,1527.4 L1091.2,1522.1 L1094.6,1516.9 L1098.2,1512.0 L1101.9,1507.3 L1105.7,1502.9 L1109.6,1498.8 L1113.5,1495.0 L1117.5,1491.6 L1121.4,1488.6 L1125.4,1486.0 L1129.2,1483.9 L1133.0,1482.2 L1136.6,1481.0 L1140.1,1480.2 L1143.4,1480.0 L1146.4,1480.2 L1149.3,1480.9 L1151.9,1482.1 L1163.4,1488.7 L1092.2,1611.9 Z" stroke-width="2.3" fill="#fcfcfc" />
<ellipse cx="1127.8" cy="1550.3" rx="32.7" ry="71.1" stroke-width="2.3" fill="#fcfcfc" transform="rotate(30 1127.8 1550.3)" />
<path d="M1092.1,1610.5 L1089.0,1609.6 L1086.1,1608.2 L1083.6,1606.2 L1081.5,1603.7 L1079.7,1600.6 L1078.3,1597.0 L1077.4,1593.0 L1076.9,1588.5 L1076.8,1583.6 L1077.1,1578.4 L1077.8,1572.9 L1079.0,1567.1 L1080.6,1561.2 L1082.5,1555.1 L1084.9,1549.0 L1087.6,1542.8 L1090.6,1536.6 L1093.9,1530.6 L1097.5,1524.7 L1101.3,1519.0 L1105.3,1513.6 L1109.4,1508.5 L1113.7,1503.8 L1118.1,1499.4 L1122.5,1495.5 L1126.9,1492.1 L1131.2,1489.3 L1135.5,1486.9 L1139.7,1485.1 L1143.7,1483.9 L1147.4,1483.3 L1151.0,1483.3 L1154.3,1483.9 L1157.2,1485.1 L1159.9,1486.8 L1162.2,1489.1" stroke-width="1.6099999999999999" fill="none" />
<ellipse cx="1127.5" cy="1550.5" rx="31.4" ry="68.2" stroke-width="1.6099999999999999" fill="none" transform="rotate(30 1127.5 1550.5)" />
<ellipse cx="1126.6" cy="1550.5" rx="25.6" ry="37.6" stroke-width="2.07" fill="none" transform="rotate(30 1126.6 1550.5)" />
<path d="M1122.2,1527.0 C1125.2,1526.2 1131.0,1525.5 1134.0,1528.4 C1136.9,1531.4 1137.9,1540.9 1139.9,1544.6 C1141.8,1548.3 1145.2,1548.0 1145.7,1550.5 C1146.2,1552.9 1145.2,1557.6 1142.8,1559.3 C1140.3,1561.0 1135.4,1558.1 1131.0,1560.8 C1126.6,1563.5 1120.3,1572.8 1116.3,1575.5 C1112.4,1578.2 1109.2,1578.2 1107.5,1576.9 C1105.8,1575.7 1105.1,1572.0 1106.0,1568.1 C1107.0,1564.2 1111.7,1559.3 1113.4,1553.4 C1115.1,1547.5 1114.9,1537.3 1116.3,1532.9 C1117.8,1528.4 1119.3,1527.7 1122.2,1527.0 Z" stroke-width="2.07" fill="none" />
<path d="M1125.2,1532.9 C1124.7,1536.8 1124.7,1550.0 1122.2,1556.4 C1119.8,1562.7 1112.4,1568.6 1110.5,1571.1" stroke-width="1.6099999999999999" fill="none" />
<line x1="1122.2" y1="1543.1" x2="1142.8" y2="1550.5" stroke-width="1.4949999999999999"/>
<line x1="1119.3" y1="1550.5" x2="1139.9" y2="1557.8" stroke-width="1.4949999999999999"/>
<ellipse cx="1161.9" cy="1509.3" rx="6.5" ry="8.2" stroke-width="1.8399999999999999" fill="none" transform="rotate(30 1161.9 1509.3)" />
<ellipse cx="1089.9" cy="1549.0" rx="6.5" ry="8.2" stroke-width="1.8399999999999999" fill="none" transform="rotate(30 1089.9 1549.0)" />
<ellipse cx="1125.2" cy="1599.0" rx="6.5" ry="8.2" stroke-width="1.8399999999999999" fill="none" transform="rotate(30 1125.2 1599.0)" />
<ellipse cx="1210.4" cy="1536.7" rx="8.5" ry="8.5" stroke-width="2.3" fill="none" />
<ellipse cx="1269.2" cy="1635.7" rx="46.0" ry="66.7" stroke-width="2.3" fill="#fcfcfc" transform="rotate(30 1269.2 1635.7)" />
<ellipse cx="1274.2" cy="1638.1" rx="46.0" ry="66.7" stroke-width="2.3" fill="#fcfcfc" transform="rotate(30 1274.2 1638.1)" />
<ellipse cx="1275.7" cy="1638.7" rx="43.0" ry="62.3" stroke-width="1.4949999999999999" fill="none" transform="rotate(30 1275.7 1638.7)" />
<path d="M1248.0,1651.9 L1258.9,1618.7 L1287.4,1602.8 L1313.3,1612.2 L1324.5,1625.4 L1319.2,1650.4 L1301.5,1676.9 L1269.2,1685.7 L1250.1,1669.5 Z" stroke-width="2.3" fill="#fcfcfc" />
<path d="M1258.9,1618.7 L1269.2,1629.9 L1297.1,1615.2 L1313.3,1612.2" stroke-width="1.8399999999999999" fill="none" />
<path d="M1269.2,1629.9 L1261.0,1660.7 L1269.2,1685.7" stroke-width="1.8399999999999999" fill="none" />
<line x1="1248.0" y1="1651.9" x2="1261.0" y2="1660.7" stroke-width="1.7249999999999999"/>
<ellipse cx="1290.4" cy="1644.6" rx="19.0" ry="28.8" stroke-width="2.07" fill="none" transform="rotate(30 1290.4 1644.6)" />
<path d="M1292.9,1666.6 L1290.7,1667.3 L1288.5,1667.7 L1286.4,1667.8 L1284.3,1667.5 L1282.5,1666.9 L1280.8,1665.9 L1279.3,1664.6 L1278.0,1663.0 L1277.0,1661.2 L1276.2,1659.1 L1275.7,1656.8 L1275.4,1654.4 L1275.5,1651.8 L1275.8,1649.1 L1276.5,1646.3 L1277.3,1643.6 L1278.5,1640.9 L1279.9,1638.3 L1281.4,1635.8 L1283.2,1633.4 L1285.1,1631.3 L1287.2,1629.4 L1289.4,1627.7 L1291.6,1626.4 L1293.8,1625.4 L1296.1,1624.7 L1298.3,1624.3 L1300.4,1624.3 L1302.4,1624.6 L1304.2,1625.2 L1305.9,1626.2 L1307.4,1627.5 L1308.7,1629.1 L1309.7,1631.0 L1310.5,1633.1 L1310.9,1635.4" stroke-width="1.7249999999999999" fill="none" />
<path d="M1305.9,1628.6 L1305.9,1629.7 L1305.8,1630.8 L1305.7,1631.9 L1305.6,1633.0 L1305.4,1634.2 L1305.2,1635.4 L1304.9,1636.6 L1304.6,1637.8 L1304.2,1639.1 L1303.8,1640.3 L1303.4,1641.6 L1302.9,1642.8 L1302.4,1644.1 L1301.8,1645.3 L1301.3,1646.6 L1300.6,1647.8 L1300.0,1649.1 L1299.3,1650.3 L1298.6,1651.5 L1297.8,1652.7 L1297.1,1653.8 L1296.3,1655.0 L1295.5,1656.1 L1294.6,1657.1 L1293.8,1658.2 L1292.9,1659.2 L1292.0,1660.2 L1291.1,1661.1 L1290.2,1662.0 L1289.3,1662.8 L1288.4,1663.6 L1287.5,1664.3 L1286.6,1665.0 L1285.6,1665.7 L1284.7,1666.3 L1283.8,1666.8" stroke-width="1.6099999999999999" fill="none" />
<path d="M536.5,1284.2 L534.1,1282.6 L532.0,1280.5 L530.1,1278.1 L528.6,1275.2 L527.3,1272.1 L526.4,1268.6 L525.7,1264.8 L525.4,1260.8 L525.4,1256.5 L525.8,1252.0 L526.4,1247.3 L527.4,1242.5 L528.7,1237.6 L530.3,1232.7 L532.2,1227.7 L534.3,1222.7 L536.7,1217.8 L539.3,1213.0 L542.2,1208.3 L545.3,1203.8 L548.5,1199.4 L551.9,1195.3 L555.4,1191.5 L559.0,1187.9 L562.6,1184.6 L566.3,1181.7 L570.1,1179.2 L573.8,1177.1 L577.4,1175.3 L581.0,1174.0 L584.5,1173.0 L587.9,1172.5 L591.1,1172.5 L594.1,1172.9 L597.0,1173.7 L599.6,1174.9 L615.7,1184.2 L552.6,1293.5 Z" stroke-width="2.3" fill="#fcfcfc" />
<ellipse cx="584.2" cy="1238.9" rx="33.1" ry="63.1" stroke-width="2.3" fill="#fcfcfc" transform="rotate(30 584.2 1238.9)" />
<path d="M521.9,1240.5 L527.4,1244.7 L537.0,1255.6 L535.1,1261.1 L526.1,1266.6 L530.2,1270.7 L543.9,1278.9 L541.2,1240.5" stroke-width="2.07" fill="#fcfcfc" />
<path d="M527.4,1232.3 L543.9,1240.5 L543.9,1276.2 L530.2,1268.0 L532.9,1259.7 L527.4,1246.0 Z" fill="#fcfcfc" style="stroke:none"/>
<path d="M522.5,1241.9 C523.8,1242.8 527.8,1245.1 530.2,1247.4 C532.5,1249.7 535.7,1253.3 536.5,1255.6 C537.3,1257.9 537.0,1259.3 535.1,1261.1 C533.2,1262.9 526.9,1265.7 525.2,1266.6" stroke-width="2.07" fill="none" />
<path d="M525.2,1266.6 C526.1,1267.5 527.5,1270.5 530.2,1272.1 C532.8,1273.7 539.3,1275.5 541.2,1276.2" stroke-width="2.07" fill="none" />
<ellipse cx="587.8" cy="1237.8" rx="21.1" ry="38.4" stroke-width="1.8399999999999999" fill="none" transform="rotate(30 587.8 1237.8)" />
<ellipse cx="588.3" cy="1238.1" rx="17.8" ry="32.4" stroke-width="1.8399999999999999" fill="none" transform="rotate(30 588.3 1238.1)" />
<path d="M575.4,1235.0 L582.3,1222.7 L596.0,1218.6 L605.6,1222.7 L604.3,1246.0 L596.0,1259.7 L582.3,1263.9 L576.3,1258.4 Z" stroke-width="1.8399999999999999" fill="none" />
<path d="M593.2,1253.9 L591.5,1254.9 L589.8,1255.6 L588.1,1256.0 L586.5,1256.1 L585.0,1255.9 L583.7,1255.4 L582.5,1254.6 L581.5,1253.5 L580.7,1252.2 L580.1,1250.6 L579.7,1248.9 L579.6,1246.9 L579.8,1244.9 L580.2,1242.7 L580.8,1240.6 L581.6,1238.4 L582.6,1236.2 L583.8,1234.2 L585.2,1232.2 L586.7,1230.5 L588.3,1228.9 L590.0,1227.6 L591.7,1226.5 L593.5,1225.7 L595.1,1225.2 L596.8,1225.0 L598.3,1225.0 L599.7,1225.5 L601.0,1226.2 L602.0,1227.1 L602.9,1228.4 L603.6,1229.9 L604.0,1231.6 L604.2,1233.5 L604.1,1235.5 L603.8,1237.6" stroke-width="2.07" fill="none" />
<path d="M592.6,1253.1 L591.3,1253.6 L590.1,1253.9 L588.9,1253.9 L587.8,1253.8 L586.7,1253.4 L585.8,1252.8 L585.0,1252.1 L584.4,1251.1 L583.9,1250.0 L583.6,1248.7 L583.4,1247.3 L583.4,1245.8 L583.6,1244.3 L583.9,1242.6 L584.4,1241.0 L585.1,1239.4 L585.9,1237.8 L586.8,1236.2 L587.8,1234.8 L588.9,1233.4 L590.1,1232.2 L591.4,1231.2 L592.7,1230.3 L594.0,1229.6 L595.2,1229.1 L596.5,1228.9 L597.7,1228.8 L598.8,1228.9 L599.8,1229.3 L600.7,1229.9 L601.5,1230.7 L602.2,1231.6 L602.7,1232.7 L603.0,1234.0 L603.2,1235.4 L603.1,1236.9" stroke-width="1.6099999999999999" fill="none" />
<ellipse cx="660.8" cy="1284.4" rx="38.9" ry="61.7" stroke-width="2.9899999999999998" fill="#fcfcfc" transform="rotate(30 660.8 1284.4)" />
<ellipse cx="661.6" cy="1283.9" rx="23.7" ry="37.6" stroke-width="2.3" fill="none" transform="rotate(30 661.6 1283.9)" />
<path d="M684.7,1254.9 L686.2,1256.7 L687.5,1258.7 L688.6,1261.0 L689.4,1263.5 L690.0,1266.2 L690.3,1269.1 L690.4,1272.1 L690.2,1275.3 L689.7,1278.5 L689.0,1281.8 L688.1,1285.1 L686.9,1288.4 L685.5,1291.6 L683.9,1294.8 L682.1,1297.9 L680.1,1300.9 L677.9,1303.7 L675.6,1306.4 L673.2,1308.8 L670.7,1311.0 L668.1,1312.9 L665.5,1314.6 L662.8,1316.0 L660.2,1317.1 L657.5,1317.9 L655.0,1318.4 L652.5,1318.6 L650.1,1318.4 L647.8,1317.9 L645.7,1317.1 L643.7,1316.0 L641.9,1314.6 L640.3,1313.0 L638.9,1311.0 L637.7,1308.8 L636.8,1306.4" stroke-width="1.7249999999999999" fill="none" />
<ellipse cx="825.7" cy="1304.5" rx="10.4" ry="10.4" stroke-width="2.3" fill="none" />
<path d="M768.0,1368.7 L767.3,1368.2 L766.5,1367.5 L765.9,1366.8 L765.4,1365.9 L764.9,1364.9 L764.5,1363.9 L764.3,1362.7 L764.1,1361.5 L764.0,1360.3 L764.1,1358.9 L764.2,1357.6 L764.4,1356.2 L764.7,1354.7 L765.2,1353.3 L765.7,1351.8 L766.3,1350.4 L766.9,1349.0 L767.7,1347.6 L768.5,1346.2 L769.4,1344.9 L770.3,1343.7 L771.3,1342.6 L772.4,1341.5 L773.5,1340.5 L774.6,1339.6 L775.7,1338.8 L776.8,1338.1 L778.0,1337.5 L779.1,1337.1 L780.2,1336.7 L781.3,1336.5 L782.4,1336.4 L783.4,1336.5 L784.4,1336.6 L785.3,1336.9 L786.1,1337.3 L880.0,1391.5 L861.9,1422.9 Z" stroke-width="2.3" fill="#fcfcfc" />
<ellipse cx="870.9" cy="1407.2" rx="10.9" ry="18.1" stroke-width="2.3" fill="#fcfcfc" transform="rotate(30 870.9 1407.2)" />
<ellipse cx="825.1" cy="1379.1" rx="12.3" ry="7.7" stroke-width="2.07" fill="none" transform="rotate(30 825.1 1379.1)" />
<path d="M878.0,1412.0 L876.7,1414.0 L875.3,1415.8 L873.7,1417.4 L872.0,1418.7 L870.2,1419.6 L868.5,1420.2 L866.9,1420.5 L865.4,1420.3 L864.1,1419.8 L862.9,1418.9 L862.0,1417.6 L861.4,1416.1 L861.1,1414.3 L861.1,1412.4 L861.3,1410.3 L861.9,1408.1 L862.7,1405.9 L863.8,1403.8 L865.1,1401.8 L866.6,1400.0 L868.2,1398.4 L869.9,1397.1 L871.6,1396.1 L873.3,1395.5 L874.9,1395.3 L876.4,1395.5 L877.8,1396.0 L878.9,1396.9 L879.8,1398.1 L880.4,1399.7 L880.8,1401.4 L880.8,1403.4 L880.5,1405.5 L880.0,1407.7 L879.1,1409.9 L878.0,1412.0" stroke-width="1.8399999999999999" fill="none" />
<path d="M870.3,1419.1 L869.4,1419.2 L868.5,1419.3 L867.7,1419.1 L866.9,1418.9 L866.2,1418.5 L865.6,1417.9 L865.1,1417.3 L864.6,1416.5 L864.3,1415.6 L864.1,1414.7 L864.0,1413.6 L864.0,1412.5 L864.1,1411.3 L864.4,1410.1 L864.7,1408.9 L865.1,1407.6 L865.7,1406.4 L866.3,1405.3 L867.0,1404.1 L867.8,1403.0 L868.6,1402.0 L869.5,1401.1 L870.5,1400.3 L871.4,1399.6 L872.4,1399.1 L873.3,1398.6 L874.3,1398.3 L875.2,1398.2 L876.1,1398.2 L876.9,1398.3 L877.7,1398.5 L878.4,1398.9 L879.0,1399.5 L879.5,1400.1 L880.0,1400.9 L880.3,1401.8" stroke-width="1.4949999999999999" fill="none" />
<path d="M872.0,1418.4 L871.2,1418.6 L870.4,1418.6 L869.7,1418.5 L869.0,1418.2 L868.4,1417.9 L867.9,1417.4 L867.5,1416.9 L867.1,1416.2 L866.8,1415.5 L866.6,1414.6 L866.5,1413.7 L866.6,1412.8 L866.7,1411.8 L866.9,1410.7 L867.2,1409.7 L867.5,1408.6 L868.0,1407.6 L868.5,1406.6 L869.1,1405.6 L869.8,1404.7 L870.5,1403.8 L871.3,1403.0 L872.1,1402.4 L872.9,1401.8 L873.7,1401.3 L874.6,1400.9 L875.4,1400.6 L876.2,1400.5 L876.9,1400.5 L877.6,1400.6 L878.3,1400.8 L878.9,1401.2 L879.4,1401.6 L879.9,1402.2 L880.2,1402.9 L880.5,1403.6" stroke-width="1.4949999999999999" fill="none" />
<path d="M752.7,1361.9 L751.7,1361.3 L750.9,1360.6 L750.2,1359.7 L749.5,1358.6 L749.0,1357.5 L748.5,1356.3 L748.2,1354.9 L748.0,1353.5 L747.9,1352.0 L748.0,1350.4 L748.1,1348.8 L748.4,1347.1 L748.8,1345.4 L749.3,1343.7 L749.9,1342.0 L750.6,1340.3 L751.4,1338.6 L752.3,1337.0 L753.2,1335.4 L754.3,1333.9 L755.4,1332.4 L756.6,1331.0 L757.8,1329.8 L759.1,1328.6 L760.4,1327.5 L761.7,1326.6 L763.1,1325.8 L764.4,1325.1 L765.8,1324.6 L767.1,1324.2 L768.4,1323.9 L769.6,1323.8 L770.8,1323.9 L772.0,1324.1 L773.1,1324.4 L774.1,1324.9 L787.1,1332.4 L765.7,1369.5 Z" stroke-width="2.07" fill="#fcfcfc" />
<ellipse cx="776.4" cy="1351.0" rx="12.8" ry="21.4" stroke-width="2.07" fill="#fcfcfc" transform="rotate(30 776.4 1351.0)" />
<path d="M780.9,1328.4 L781.9,1329.1 L782.7,1329.8 L783.4,1330.7 L784.1,1331.8 L784.6,1332.9 L785.1,1334.1 L785.4,1335.5 L785.6,1336.9 L785.7,1338.4 L785.6,1340.0 L785.5,1341.6 L785.2,1343.3 L784.8,1345.0 L784.3,1346.7 L783.7,1348.4 L783.0,1350.1 L782.2,1351.8 L781.4,1353.4 L780.4,1355.0 L779.3,1356.5 L778.2,1358.0 L777.0,1359.4 L775.8,1360.6 L774.5,1361.8 L773.2,1362.9 L771.9,1363.8 L770.5,1364.6 L769.2,1365.3 L767.8,1365.8 L766.5,1366.2 L765.2,1366.5 L764.0,1366.6 L762.8,1366.5 L761.6,1366.3 L760.5,1366.0 L759.5,1365.5" stroke-width="1.6099999999999999" fill="none" />
<path d="M785.0,1330.9 L786.0,1331.5 L786.8,1332.3 L787.6,1333.2 L788.2,1334.2 L788.7,1335.4 L789.2,1336.6 L789.5,1338.0 L789.7,1339.4 L789.8,1340.9 L789.7,1342.5 L789.6,1344.1 L789.3,1345.7 L788.9,1347.4 L788.5,1349.1 L787.9,1350.9 L787.2,1352.6 L786.4,1354.2 L785.5,1355.9 L784.5,1357.5 L783.4,1359.0 L782.3,1360.4 L781.1,1361.8 L779.9,1363.1 L778.6,1364.3 L777.3,1365.3 L776.0,1366.3 L774.6,1367.1 L773.3,1367.8 L772.0,1368.3 L770.6,1368.7 L769.4,1369.0 L768.1,1369.1 L766.9,1369.0 L765.7,1368.8 L764.7,1368.5 L763.6,1368.0" stroke-width="1.6099999999999999" fill="none" />
<path d="M698.1,1337.1 C687.2,1328.1 696.3,1321.2 698.1,1314.6 C699.8,1308.0 704.5,1301.3 708.5,1297.6 C712.5,1293.9 709.4,1287.2 722.2,1292.1 C735.0,1297.0 776.6,1317.7 785.3,1327.0 C794.0,1336.2 778.0,1340.6 774.3,1347.5 C770.7,1354.5 776.1,1370.4 763.4,1368.7 C750.7,1366.9 709.0,1346.1 698.1,1337.1 Z" stroke-width="2.3" fill="#fcfcfc" />
<line x1="698.1" y1="1337.1" x2="763.4" y2="1368.7" stroke-width="2.3"/>
<line x1="722.2" y1="1292.1" x2="785.3" y2="1327.0" stroke-width="2.3"/>
<path d="M698.1,1314.6 C699.8,1315.1 697.6,1312.1 708.5,1317.4 C719.4,1322.6 753.5,1340.7 763.4,1346.2 C773.2,1351.6 766.8,1349.6 767.5,1350.3" stroke-width="1.7249999999999999" fill="none" />
<path d="M719.5,1292.7 C720.5,1294.5 725.3,1299.3 725.5,1303.6 C725.7,1308.0 722.5,1314.8 720.9,1318.7 C719.2,1322.6 716.3,1325.6 715.4,1327.0" stroke-width="1.7249999999999999" fill="none" />
<path d="M726.9,1296.8 C727.9,1298.6 732.7,1303.4 732.9,1307.8 C733.2,1312.1 729.9,1319.0 728.3,1322.8 C726.6,1326.7 723.7,1329.7 722.8,1331.1" stroke-width="1.7249999999999999" fill="none" />
<path d="M734.3,1300.9 C735.3,1302.7 740.1,1307.5 740.3,1311.9 C740.6,1316.2 737.4,1323.1 735.7,1327.0 C734.0,1330.8 731.1,1333.8 730.2,1335.2" stroke-width="1.7249999999999999" fill="none" />
<path d="M741.7,1305.0 C742.7,1306.8 747.5,1311.6 747.7,1316.0 C748.0,1320.3 744.8,1327.2 743.1,1331.1 C741.4,1335.0 738.5,1337.9 737.6,1339.3" stroke-width="1.7249999999999999" fill="none" />
<path d="M749.1,1309.1 C750.1,1311.0 754.9,1315.8 755.1,1320.1 C755.4,1324.4 752.2,1331.3 750.5,1335.2 C748.8,1339.1 745.9,1342.0 745.0,1343.4" stroke-width="1.7249999999999999" fill="none" />
<path d="M756.5,1313.2 C757.5,1315.1 762.3,1319.9 762.6,1324.2 C762.8,1328.6 759.6,1335.4 757.9,1339.3 C756.2,1343.2 753.3,1346.2 752.4,1347.5" stroke-width="1.7249999999999999" fill="none" />
<path d="M763.9,1317.4 C764.9,1319.2 769.7,1324.0 770.0,1328.3 C770.2,1332.7 767.0,1339.5 765.3,1343.4 C763.6,1347.3 760.7,1350.3 759.8,1351.6" stroke-width="1.7249999999999999" fill="none" />
<path d="M771.3,1321.5 C772.3,1323.3 777.1,1328.1 777.4,1332.4 C777.6,1336.8 774.4,1343.6 772.7,1347.5 C771.0,1351.4 768.1,1354.4 767.2,1355.8" stroke-width="1.7249999999999999" fill="none" />
<path d="M759.3,1366.7 L764.7,1358.5 L770.2,1369.5" stroke-width="1.7249999999999999" fill="none" />
<path d="M284.6,979.0 C288.7,982.0 304.0,989.3 309.3,996.8 C314.6,1004.4 315.7,1015.1 316.2,1024.3 C316.6,1033.4 315.5,1041.6 312.0,1051.7 C308.6,1061.7 302.9,1074.5 295.6,1084.6 C288.3,1094.7 277.3,1105.4 268.1,1112.0 C259.0,1118.7 248.5,1122.5 240.7,1124.4 C232.9,1126.3 226.1,1124.5 221.5,1123.6 C216.9,1122.7 219.2,1122.4 213.3,1118.9 C207.3,1115.4 195.0,1108.1 185.8,1102.7 C176.7,1097.4 164.4,1090.3 158.4,1086.8 C152.5,1083.3 152.9,1085.9 150.2,1081.9 C147.4,1077.8 143.1,1070.4 141.9,1062.7 C140.8,1054.9 141.0,1046.2 143.3,1035.2 C145.6,1024.3 150.2,1008.2 155.7,996.8 C161.2,985.5 171.2,972.3 176.2,967.2 C181.3,962.1 182.0,965.0 185.8,966.1 C189.7,967.2 192.7,969.9 199.6,973.8 C206.4,977.6 220.1,985.3 227.0,989.1 C233.9,993.0 238.4,995.5 240.7,996.8" stroke-width="2.3" fill="#fcfcfc" />
<path d="M221.5,1123.6 C219.2,1120.7 211.1,1113.0 207.8,1106.6 C204.5,1100.1 202.7,1091.9 201.8,1084.6 C200.8,1077.3 200.4,1071.8 202.3,1062.7 C204.2,1053.5 206.9,1040.3 213.3,1029.7 C219.7,1019.2 236.1,1004.6 240.7,999.6" stroke-width="2.3" fill="none" />
<path d="M253.1,969.4 C253.4,973.5 256.4,984.0 255.0,994.1 C253.6,1004.1 249.9,1019.2 244.8,1029.7 C239.7,1040.3 231.1,1049.3 224.3,1057.2 C217.4,1065.0 207.1,1073.6 203.7,1076.9" stroke-width="2.3" fill="none" />
<path d="M220.1,947.4 C220.8,946.0 214.9,938.9 225.6,943.3 C236.4,947.8 274.2,968.1 284.6,974.0 C295.0,980.0 290.2,978.3 287.9,979.0 C285.6,979.7 282.0,982.6 270.9,978.2 C259.8,973.7 230.0,957.2 221.5,952.1 C213.0,947.0 219.5,948.9 220.1,947.4 Z" stroke-width="2.07" fill="#fcfcfc" />
<path d="M268.1,978.2 L284.6,979.0" stroke-width="2.07" fill="none" />
<ellipse cx="228.4" cy="1099.7" rx="7.7" ry="3.8" stroke-width="2.07" fill="none" />
<ellipse cx="228.4" cy="1171.0" rx="17.0" ry="8.8" stroke-width="2.07" fill="#fcfcfc" />
<ellipse cx="228.4" cy="1165.0" rx="17.0" ry="8.2" stroke-width="2.07" fill="#fcfcfc" />
<path d="M218.8,1150.5 L218.8,1165.5 L237.4,1165.5 L237.4,1150.5" stroke-width="2.07" fill="#fcfcfc" />
<ellipse cx="228.1" cy="1165.5" rx="9.3" ry="3.3" stroke-width="1.7249999999999999" fill="#fcfcfc" />
<ellipse cx="228.1" cy="1150.5" rx="9.3" ry="3.8" stroke-width="2.07" fill="#fcfcfc" />
<path d="M219.3,1158.1 C220.8,1158.7 225.1,1161.4 228.1,1161.4 C231.1,1161.4 235.6,1158.7 237.1,1158.1" stroke-width="1.4949999999999999" fill="none" />
<path d="M338.8,1117.2 L338.0,1117.0 L337.2,1116.8 L336.5,1116.4 L335.9,1115.9 L335.3,1115.3 L334.8,1114.6 L334.4,1113.8 L334.1,1113.0 L333.9,1112.0 L333.7,1111.0 L333.7,1109.9 L333.7,1108.8 L333.9,1107.6 L334.1,1106.4 L334.4,1105.2 L334.8,1104.0 L335.3,1102.8 L335.9,1101.6 L336.5,1100.4 L337.2,1099.3 L338.0,1098.2 L338.8,1097.2 L339.7,1096.2 L340.6,1095.4 L341.5,1094.6 L342.4,1093.9 L343.4,1093.3 L344.4,1092.8 L345.3,1092.5 L346.2,1092.2 L347.2,1092.1 L348.0,1092.1 L348.9,1092.2 L349.7,1092.4 L350.4,1092.7 L351.0,1093.2" stroke-width="1.8399999999999999" fill="none" />
<path d="M346.2,1121.3 L345.4,1121.1 L344.6,1120.9 L343.9,1120.5 L343.3,1120.0 L342.7,1119.4 L342.2,1118.7 L341.8,1117.9 L341.5,1117.1 L341.3,1116.1 L341.2,1115.1 L341.1,1114.0 L341.2,1112.9 L341.3,1111.7 L341.5,1110.5 L341.8,1109.3 L342.3,1108.1 L342.7,1106.9 L343.3,1105.7 L343.9,1104.5 L344.6,1103.4 L345.4,1102.3 L346.2,1101.3 L347.1,1100.4 L348.0,1099.5 L348.9,1098.7 L349.9,1098.0 L350.8,1097.4 L351.8,1097.0 L352.7,1096.6 L353.7,1096.3 L354.6,1096.2 L355.4,1096.2 L356.3,1096.3 L357.1,1096.5 L357.8,1096.8 L358.5,1097.3" stroke-width="1.8399999999999999" fill="none" />
<path d="M353.6,1125.4 L352.8,1125.3 L352.0,1125.0 L351.3,1124.6 L350.7,1124.1 L350.1,1123.5 L349.7,1122.8 L349.3,1122.1 L348.9,1121.2 L348.7,1120.2 L348.6,1119.2 L348.5,1118.1 L348.6,1117.0 L348.7,1115.8 L348.9,1114.6 L349.3,1113.4 L349.7,1112.2 L350.1,1111.0 L350.7,1109.8 L351.3,1108.6 L352.1,1107.5 L352.8,1106.4 L353.6,1105.4 L354.5,1104.5 L355.4,1103.6 L356.3,1102.8 L357.3,1102.1 L358.2,1101.6 L359.2,1101.1 L360.1,1100.7 L361.1,1100.5 L362.0,1100.3 L362.8,1100.3 L363.7,1100.4 L364.5,1100.6 L365.2,1100.9 L365.9,1101.4" stroke-width="1.8399999999999999" fill="none" />
<path d="M361.0,1129.5 L360.2,1129.4 L359.5,1129.1 L358.8,1128.7 L358.1,1128.3 L357.6,1127.7 L357.1,1127.0 L356.7,1126.2 L356.3,1125.3 L356.1,1124.4 L356.0,1123.3 L355.9,1122.3 L356.0,1121.1 L356.1,1120.0 L356.3,1118.8 L356.7,1117.5 L357.1,1116.3 L357.6,1115.1 L358.1,1113.9 L358.8,1112.8 L359.5,1111.6 L360.2,1110.5 L361.0,1109.5 L361.9,1108.6 L362.8,1107.7 L363.7,1106.9 L364.7,1106.3 L365.6,1105.7 L366.6,1105.2 L367.5,1104.8 L368.5,1104.6 L369.4,1104.4 L370.3,1104.4 L371.1,1104.5 L371.9,1104.7 L372.6,1105.1 L373.3,1105.5" stroke-width="1.8399999999999999" fill="none" />
<ellipse cx="373.2" cy="1121.1" rx="8.2" ry="13.2" stroke-width="2.07" fill="none" transform="rotate(30 373.2 1121.1)" />
<path d="M375.3,1127.0 L374.6,1127.5 L373.9,1127.9 L373.2,1128.3 L372.5,1128.5 L371.9,1128.7 L371.2,1128.7 L370.6,1128.6 L370.1,1128.4 L369.6,1128.1 L369.2,1127.7 L368.8,1127.2 L368.5,1126.6 L368.4,1125.9 L368.3,1125.1 L368.2,1124.3 L368.3,1123.5 L368.5,1122.6 L368.7,1121.8 L369.0,1120.9 L369.4,1120.0 L369.9,1119.1 L370.4,1118.3 L371.0,1117.6 L371.6,1116.9 L372.3,1116.3 L373.0,1115.7 L373.7,1115.3 L374.4,1115.0 L375.1,1114.7 L375.7,1114.6 L376.4,1114.6 L377.0,1114.7 L377.5,1114.9 L378.0,1115.2 L378.4,1115.7 L378.7,1116.2" stroke-width="1.7249999999999999" fill="none" />
<ellipse cx="476.4" cy="1179.1" rx="43.6" ry="62.3" stroke-width="2.3" fill="#fcfcfc" transform="rotate(30 476.4 1179.1)" />
<ellipse cx="479.4" cy="1180.6" rx="43.6" ry="62.3" stroke-width="1.38" fill="#fcfcfc" transform="rotate(30 479.4 1180.6)" />
<path d="M506.7,1194.4 L517.0,1200.0 L515.0,1203.5 L504.9,1197.4" stroke-width="1.8399999999999999" fill="none" />
<path d="M503.7,1199.3 L512.9,1206.8 L510.6,1210.0 L501.8,1202.1" stroke-width="1.8399999999999999" fill="none" />
<path d="M500.4,1203.8 L508.2,1213.1 L505.6,1216.1 L498.2,1206.4" stroke-width="1.8399999999999999" fill="none" />
<path d="M496.6,1208.0 L503.1,1218.8 L500.3,1221.5 L494.3,1210.3" stroke-width="1.8399999999999999" fill="none" />
<path d="M492.6,1211.7 L497.5,1223.9 L494.5,1226.2 L490.1,1213.7" stroke-width="1.8399999999999999" fill="none" />
<path d="M488.4,1214.9 L491.6,1228.3 L488.5,1230.2 L485.8,1216.5" stroke-width="1.8399999999999999" fill="none" />
<path d="M484.0,1217.5 L485.5,1231.8 L482.4,1233.3 L481.3,1218.7" stroke-width="1.8399999999999999" fill="none" />
<path d="M479.5,1219.4 L479.3,1234.5 L476.1,1235.5 L476.8,1220.3" stroke-width="1.8399999999999999" fill="none" />
<path d="M475.1,1220.7 L473.1,1236.2 L470.0,1236.7 L472.4,1221.1" stroke-width="1.8399999999999999" fill="none" />
<path d="M470.7,1221.3 L467.0,1237.0 L464.0,1237.0 L468.1,1221.3" stroke-width="1.8399999999999999" fill="none" />
<path d="M466.4,1221.2 L461.2,1236.8 L458.3,1236.4 L464.0,1220.8" stroke-width="1.8399999999999999" fill="none" />
<path d="M462.4,1220.4 L455.6,1235.7 L452.9,1234.8 L460.1,1219.6" stroke-width="1.8399999999999999" fill="none" />
<path d="M458.7,1219.0 L450.4,1233.6 L448.0,1232.2 L456.6,1217.8" stroke-width="1.8399999999999999" fill="none" />
<path d="M455.3,1216.8 L445.8,1230.6 L443.6,1228.8 L453.4,1215.3" stroke-width="1.8399999999999999" fill="none" />
<path d="M452.3,1214.1 L441.7,1226.8 L439.8,1224.5 L450.7,1212.2" stroke-width="1.8399999999999999" fill="none" />
<path d="M449.8,1210.8 L438.2,1222.2 L436.8,1219.5 L448.5,1208.5" stroke-width="1.8399999999999999" fill="none" />
<path d="M447.8,1206.9 L435.5,1216.8 L434.4,1213.9 L446.9,1204.4" stroke-width="1.8399999999999999" fill="none" />
<path d="M446.3,1202.7 L433.5,1210.9 L432.8,1207.6 L445.7,1199.9" stroke-width="1.8399999999999999" fill="none" />
<path d="M445.5,1198.0 L432.3,1204.4 L432.0,1200.9 L445.2,1195.1" stroke-width="1.8399999999999999" fill="none" />
<path d="M445.1,1193.0 L431.9,1197.5 L432.0,1193.9 L445.2,1190.0" stroke-width="1.8399999999999999" fill="none" />
<path d="M445.4,1187.9 L432.3,1190.3 L432.9,1186.6 L445.9,1184.7" stroke-width="1.8399999999999999" fill="none" />
<path d="M446.3,1182.6 L433.6,1183.0 L434.5,1179.2 L447.1,1179.4" stroke-width="1.8399999999999999" fill="none" />
<path d="M447.7,1177.3 L435.6,1175.6 L436.9,1171.9 L448.8,1174.1" stroke-width="1.8399999999999999" fill="none" />
<path d="M449.7,1172.0 L438.3,1168.3 L440.0,1164.7 L451.1,1168.9" stroke-width="1.8399999999999999" fill="none" />
<path d="M452.1,1166.9 L441.8,1161.2 L443.8,1157.8 L453.8,1163.9" stroke-width="1.8399999999999999" fill="none" />
<path d="M455.1,1162.0 L445.9,1154.5 L448.2,1151.2 L457.0,1159.2" stroke-width="1.8399999999999999" fill="none" />
<path d="M458.4,1157.4 L450.6,1148.2 L453.1,1145.2 L460.6,1154.9" stroke-width="1.8399999999999999" fill="none" />
<path d="M462.1,1153.2 L455.7,1142.4 L458.5,1139.8 L464.5,1151.0" stroke-width="1.8399999999999999" fill="none" />
<path d="M466.2,1149.5 L461.3,1137.3 L464.3,1135.0 L468.7,1147.6" stroke-width="1.8399999999999999" fill="none" />
<path d="M470.4,1146.4 L467.2,1133.0 L470.3,1131.1 L473.0,1144.8" stroke-width="1.8399999999999999" fill="none" />
<path d="M474.8,1143.8 L473.3,1129.5 L476.4,1128.0 L477.5,1142.6" stroke-width="1.8399999999999999" fill="none" />
<path d="M479.3,1141.8 L479.5,1126.8 L482.6,1125.8 L481.9,1141.0" stroke-width="1.8399999999999999" fill="none" />
<path d="M483.7,1140.6 L485.7,1125.0 L488.8,1124.5 L486.4,1140.1" stroke-width="1.8399999999999999" fill="none" />
<path d="M488.1,1140.0 L491.8,1124.3 L494.8,1124.2 L490.7,1139.9" stroke-width="1.8399999999999999" fill="none" />
<path d="M492.4,1140.1 L497.6,1124.4 L500.5,1124.9 L494.8,1140.4" stroke-width="1.8399999999999999" fill="none" />
<path d="M496.4,1140.8 L503.2,1125.6 L505.9,1126.5 L498.7,1141.6" stroke-width="1.8399999999999999" fill="none" />
<path d="M500.1,1142.3 L508.4,1127.6 L510.8,1129.1 L502.2,1143.5" stroke-width="1.8399999999999999" fill="none" />
<path d="M503.5,1144.4 L513.0,1130.6 L515.2,1132.5 L505.4,1146.0" stroke-width="1.8399999999999999" fill="none" />
<path d="M506.5,1147.2 L517.1,1134.5 L518.9,1136.7 L508.0,1149.1" stroke-width="1.8399999999999999" fill="none" />
<path d="M509.0,1150.5 L520.5,1139.1 L522.0,1141.7 L510.3,1152.7" stroke-width="1.8399999999999999" fill="none" />
<path d="M511.0,1154.3 L523.3,1144.4 L524.4,1147.4 L511.9,1156.8" stroke-width="1.8399999999999999" fill="none" />
<path d="M512.4,1158.6 L525.3,1150.4 L526.0,1153.6 L513.1,1161.4" stroke-width="1.8399999999999999" fill="none" />
<path d="M513.3,1163.3 L526.5,1156.9 L526.8,1160.3 L513.6,1166.2" stroke-width="1.8399999999999999" fill="none" />
<path d="M513.7,1168.2 L526.9,1163.8 L526.8,1167.4 L513.6,1171.3" stroke-width="1.8399999999999999" fill="none" />
<path d="M513.4,1173.4 L526.4,1170.9 L525.9,1174.7 L512.9,1176.6" stroke-width="1.8399999999999999" fill="none" />
<path d="M512.5,1178.7 L525.2,1178.3 L524.3,1182.0 L511.7,1181.9" stroke-width="1.8399999999999999" fill="none" />
<path d="M511.1,1184.0 L523.2,1185.6 L521.9,1189.4 L510.0,1187.2" stroke-width="1.8399999999999999" fill="none" />
<path d="M509.1,1189.3 L520.5,1192.9 L518.8,1196.6 L507.7,1192.4" stroke-width="1.8399999999999999" fill="none" />
<ellipse cx="479.4" cy="1180.6" rx="13.9" ry="22.5" stroke-width="2.07" fill="none" transform="rotate(30 479.4 1180.6)" />
<path d="M476.4,1202.7 L474.9,1202.6 L473.5,1202.3 L472.2,1201.8 L471.0,1201.1 L470.0,1200.2 L469.0,1199.2 L468.2,1197.9 L467.6,1196.5 L467.1,1194.9 L466.8,1193.2 L466.6,1191.4 L466.6,1189.6 L466.8,1187.6 L467.1,1185.6 L467.6,1183.5 L468.3,1181.5 L469.1,1179.4 L470.0,1177.4 L471.1,1175.5 L472.3,1173.6 L473.6,1171.8 L475.0,1170.1 L476.4,1168.6 L478.0,1167.2 L479.6,1165.9 L481.2,1164.8 L482.8,1163.9 L484.5,1163.2 L486.1,1162.7 L487.7,1162.4 L489.2,1162.4 L490.6,1162.5 L492.0,1162.8 L493.3,1163.4 L494.5,1164.1 L495.5,1165.0" stroke-width="1.7249999999999999" fill="none" />
<path d="M490.7,1165.4 L490.9,1166.1 L491.1,1166.9 L491.2,1167.7 L491.3,1168.6 L491.4,1169.5 L491.4,1170.3 L491.4,1171.2 L491.3,1172.2 L491.2,1173.1 L491.1,1174.1 L490.9,1175.0 L490.7,1176.0 L490.5,1177.0 L490.2,1177.9 L489.9,1178.9 L489.6,1179.9 L489.2,1180.9 L488.8,1181.8 L488.4,1182.8 L487.9,1183.7 L487.4,1184.7 L486.9,1185.6 L486.3,1186.5 L485.7,1187.4 L485.1,1188.3 L484.5,1189.1 L483.8,1189.9 L483.2,1190.7 L482.5,1191.5 L481.8,1192.2 L481.0,1192.9 L480.3,1193.6 L479.6,1194.2 L478.8,1194.8 L478.0,1195.4 L477.3,1195.9" stroke-width="1.7249999999999999" fill="none" />
<ellipse cx="506.3" cy="1166.9" rx="3.6" ry="4.4" stroke-width="1.7249999999999999" fill="none" transform="rotate(30 506.3 1166.9)" />
<ellipse cx="458.8" cy="1193.0" rx="3.6" ry="4.4" stroke-width="1.7249999999999999" fill="none" transform="rotate(30 458.8 1193.0)" />
<ellipse cx="942.7" cy="870.9" rx="6.5" ry="6.5" stroke-width="2.07" fill="none" />
<path d="M900.1,939.6 L899.3,939.0 L898.5,938.3 L897.8,937.5 L897.3,936.5 L896.8,935.4 L896.5,934.2 L896.2,932.9 L896.1,931.5 L896.0,930.0 L896.1,928.5 L896.3,926.9 L896.6,925.2 L897.1,923.6 L897.6,921.9 L898.2,920.2 L898.9,918.5 L899.7,916.8 L900.6,915.2 L901.6,913.6 L902.6,912.0 L903.7,910.6 L904.9,909.2 L906.1,907.9 L907.3,906.7 L908.6,905.6 L909.9,904.6 L911.2,903.8 L912.5,903.1 L913.8,902.5 L915.0,902.1 L916.2,901.8 L917.4,901.6 L918.5,901.6 L919.6,901.8 L920.6,902.1 L921.5,902.5 L966.8,928.6 L945.4,965.7 Z" stroke-width="2.3" fill="#fcfcfc" />
<ellipse cx="956.1" cy="947.2" rx="11.8" ry="21.4" stroke-width="2.3" fill="#fcfcfc" transform="rotate(30 956.1 947.2)" />
<path d="M906.0,942.4 L904.9,942.1 L903.8,941.6 L902.9,940.9 L902.1,940.0 L901.4,939.0 L900.9,937.9 L900.4,936.6 L900.1,935.1 L900.0,933.6 L900.0,931.9 L900.1,930.2 L900.3,928.4 L900.7,926.6 L901.3,924.7 L901.9,922.8 L902.7,920.9 L903.6,919.1 L904.5,917.3 L905.6,915.5 L906.8,913.8 L908.0,912.2 L909.4,910.7 L910.7,909.3 L912.1,908.0 L913.5,906.9 L915.0,906.0 L916.4,905.2 L917.8,904.5 L919.2,904.1 L920.5,903.8 L921.8,903.7 L923.1,903.8 L924.2,904.0 L925.3,904.5 L926.2,905.1 L927.1,905.9" stroke-width="1.7249999999999999" fill="none" />
<path d="M900.1,939.6 L899.3,939.0 L898.5,938.3 L897.8,937.5 L897.3,936.5 L896.8,935.4 L896.5,934.2 L896.2,932.9 L896.1,931.5 L896.0,930.0 L896.1,928.5 L896.3,926.9 L896.6,925.2 L897.1,923.6 L897.6,921.9 L898.2,920.2 L898.9,918.5 L899.7,916.8 L900.6,915.2 L901.6,913.6 L902.6,912.0 L903.7,910.6 L904.9,909.2 L906.1,907.9 L907.3,906.7 L908.6,905.6 L909.9,904.6 L911.2,903.8 L912.5,903.1 L913.8,902.5 L915.0,902.1 L916.2,901.8 L917.4,901.6 L918.5,901.6 L919.6,901.8 L920.6,902.1 L921.5,902.5" stroke-width="2.3" fill="none" />
<ellipse cx="942.2" cy="919.2" rx="6.5" ry="3.4" stroke-width="1.8399999999999999" fill="none" transform="rotate(10 942.2 919.2)" />
<path d="M944.7,980.5 L943.5,979.7 L942.4,978.7 L941.5,977.5 L940.7,976.1 L940.0,974.6 L939.5,972.9 L939.2,971.1 L939.0,969.1 L938.9,967.1 L939.1,964.9 L939.3,962.7 L939.8,960.4 L940.4,958.0 L941.1,955.6 L942.0,953.3 L943.0,950.9 L944.1,948.5 L945.4,946.2 L946.7,944.0 L948.2,941.9 L949.8,939.8 L951.4,937.8 L953.1,936.0 L954.8,934.3 L956.6,932.8 L958.4,931.5 L960.2,930.3 L962.0,929.3 L963.8,928.5 L965.5,927.8 L967.3,927.4 L968.9,927.2 L970.5,927.2 L972.0,927.4 L973.4,927.9 L974.7,928.5 L984.2,934.0 L954.2,986.0 Z" stroke-width="2.3" fill="#fcfcfc" />
<ellipse cx="969.2" cy="960.0" rx="16.5" ry="30.0" stroke-width="2.3" fill="#fcfcfc" transform="rotate(30 969.2 960.0)" />
<path d="M959.9,980.9 L959.0,980.3 L958.2,979.5 L957.5,978.6 L956.9,977.6 L956.4,976.4 L956.0,975.1 L955.7,973.7 L955.6,972.2 L955.6,970.6 L955.7,969.0 L955.9,967.3 L956.2,965.5 L956.7,963.7 L957.2,961.9 L957.9,960.1 L958.7,958.3 L959.5,956.5 L960.5,954.7 L961.5,953.0 L962.7,951.4 L963.8,949.8 L965.1,948.3 L966.4,946.9 L967.7,945.6 L969.1,944.4 L970.4,943.4 L971.8,942.5 L973.2,941.7 L974.6,941.1 L975.9,940.6 L977.2,940.3 L978.5,940.2 L979.7,940.2 L980.9,940.3 L981.9,940.7 L982.9,941.1 L1025.9,965.9 L1002.9,1005.8 Z" stroke-width="2.3" fill="#fcfcfc" />
<ellipse cx="1014.4" cy="985.9" rx="12.6" ry="23.0" stroke-width="2.3" fill="#fcfcfc" transform="rotate(30 1014.4 985.9)" />
<path d="M986.1,943.0 L987.0,943.6 L987.8,944.4 L988.5,945.3 L989.1,946.3 L989.6,947.5 L990.0,948.8 L990.3,950.2 L990.4,951.7 L990.5,953.3 L990.4,954.9 L990.1,956.6 L989.8,958.4 L989.4,960.2 L988.8,962.0 L988.1,963.8 L987.4,965.6 L986.5,967.4 L985.5,969.2 L984.5,970.9 L983.4,972.6 L982.2,974.1 L980.9,975.6 L979.6,977.0 L978.3,978.3 L977.0,979.5 L975.6,980.5 L974.2,981.4 L972.8,982.2 L971.4,982.8 L970.1,983.3 L968.8,983.6 L967.5,983.7 L966.3,983.7 L965.2,983.6 L964.1,983.3 L963.1,982.8" stroke-width="1.7249999999999999" fill="none" />
<path d="M999.1,1005.9 L998.1,1005.2 L997.2,1004.4 L996.4,1003.4 L995.7,1002.2 L995.2,1000.9 L994.8,999.5 L994.5,997.9 L994.3,996.2 L994.3,994.5 L994.4,992.6 L994.6,990.7 L995.0,988.8 L995.5,986.8 L996.1,984.7 L996.8,982.7 L997.7,980.7 L998.7,978.7 L999.7,976.7 L1000.9,974.8 L1002.2,973.0 L1003.5,971.2 L1004.9,969.6 L1006.3,968.0 L1007.8,966.6 L1009.3,965.3 L1010.8,964.1 L1012.4,963.1 L1013.9,962.3 L1015.4,961.6 L1016.9,961.0 L1018.4,960.7 L1019.8,960.5 L1021.1,960.5 L1022.4,960.7 L1023.6,961.1 L1024.7,961.6 L1031.5,965.5 L1005.9,1009.9 Z" stroke-width="2.3" fill="#fcfcfc" />
<ellipse cx="1018.7" cy="987.7" rx="14.1" ry="25.6" stroke-width="2.3" fill="#fcfcfc" transform="rotate(30 1018.7 987.7)" />
<path d="M1005.3,1008.6 L1003.9,1008.3 L1002.5,1007.9 L1001.2,1007.2 L1000.1,1006.3 L999.2,1005.1 L998.4,1003.8 L997.7,1002.2 L997.3,1000.5 L997.0,998.6 L996.9,996.6 L997.0,994.5 L997.2,992.3 L997.7,990.0 L998.3,987.7 L999.1,985.3 L1000.0,982.9 L1001.1,980.6 L1002.4,978.3 L1003.7,976.1 L1005.2,974.0 L1006.8,972.0 L1008.4,970.1 L1010.1,968.4 L1011.9,966.9 L1013.7,965.5 L1015.5,964.4 L1017.3,963.5 L1019.0,962.8 L1020.8,962.3 L1022.4,962.1 L1024.0,962.1 L1025.5,962.4 L1026.8,962.9 L1028.0,963.6 L1029.1,964.6 L1030.1,965.7" stroke-width="1.6099999999999999" fill="none" />
<path d="M1021.1,972.8 L1060.3,992.4 L1064.7,1001.5 L1053.7,1015.1 L1047.2,1014.1 L1015.9,996.8 L1017.2,980.6 Z" stroke-width="2.3" fill="#fcfcfc" />
<path d="M1018.5,981.9 L1051.1,999.4 L1060.3,992.4" stroke-width="1.7249999999999999" fill="none" />
<line x1="1051.1" y1="999.4" x2="1047.2" y2="1014.1" stroke-width="1.7249999999999999"/>
<path d="M1096.3,1078.5 L1094.5,1077.2 L1092.9,1075.7 L1091.5,1073.9 L1090.4,1071.8 L1089.4,1069.5 L1088.7,1066.9 L1088.2,1064.1 L1087.9,1061.2 L1087.9,1058.0 L1088.1,1054.7 L1088.5,1051.3 L1089.2,1047.8 L1090.1,1044.2 L1091.2,1040.6 L1092.6,1036.9 L1094.2,1033.3 L1095.9,1029.7 L1097.8,1026.2 L1099.9,1022.8 L1102.1,1019.5 L1104.5,1016.3 L1107.0,1013.3 L1109.5,1010.6 L1112.2,1008.0 L1114.9,1005.6 L1117.6,1003.5 L1120.4,1001.7 L1123.1,1000.1 L1125.8,998.9 L1128.5,997.9 L1131.1,997.3 L1133.6,997.0 L1136.0,997.0 L1138.2,997.3 L1140.4,997.9 L1142.3,998.8 L1156.3,1006.9 L1110.4,1086.6 Z" stroke-width="2.3" fill="#fcfcfc" />
<ellipse cx="1133.3" cy="1046.7" rx="24.8" ry="46.0" stroke-width="2.3" fill="#fcfcfc" transform="rotate(30 1133.3 1046.7)" />
<ellipse cx="1134.2" cy="1046.5" rx="22.3" ry="41.3" stroke-width="1.7249999999999999" fill="none" transform="rotate(30 1134.2 1046.5)" />
<ellipse cx="1134.7" cy="1046.5" rx="19.5" ry="36.1" stroke-width="5.9799999999999995" fill="none" transform="rotate(30 1134.7 1046.5)" />
<ellipse cx="1135.3" cy="1046.7" rx="15.8" ry="29.3" stroke-width="1.7249999999999999" fill="none" transform="rotate(30 1135.3 1046.7)" />
<path d="M1129.3,1071.5 L1127.6,1071.4 L1126.1,1071.2 L1124.6,1070.6 L1123.4,1069.8 L1122.3,1068.7 L1121.3,1067.4 L1120.6,1065.9 L1120.0,1064.2 L1119.6,1062.3 L1119.5,1060.2 L1119.5,1058.0 L1119.7,1055.6 L1120.2,1053.2 L1120.8,1050.7 L1121.6,1048.2 L1122.6,1045.7 L1123.8,1043.2 L1125.1,1040.7 L1126.6,1038.4 L1128.2,1036.1 L1129.9,1034.0 L1131.6,1032.0 L1133.5,1030.2 L1135.3,1028.6 L1137.3,1027.2 L1139.2,1026.1 L1141.0,1025.2 L1142.9,1024.6 L1144.7,1024.2 L1146.4,1024.1 L1148.0,1024.2 L1149.4,1024.7 L1150.8,1025.4 L1151.9,1026.3 L1153.0,1027.5 L1153.8,1028.9" stroke-width="1.8399999999999999" fill="none" />
<path d="M1126.3,1070.9 L1125.6,1070.0 L1125.0,1069.0 L1124.4,1067.9 L1124.0,1066.6 L1123.7,1065.2 L1123.5,1063.8 L1123.4,1062.3 L1123.4,1060.7 L1123.5,1059.0 L1123.7,1057.3 L1124.1,1055.5 L1124.5,1053.7 L1125.0,1051.9 L1125.6,1050.1 L1126.4,1048.2 L1127.2,1046.4 L1128.1,1044.6 L1129.0,1042.8 L1130.1,1041.1 L1131.2,1039.4 L1132.4,1037.8 L1133.6,1036.2 L1134.9,1034.8 L1136.2,1033.4 L1137.6,1032.1 L1138.9,1031.0 L1140.3,1029.9 L1141.7,1029.0 L1143.1,1028.2 L1144.4,1027.5 L1145.8,1027.0 L1147.1,1026.6 L1148.4,1026.3 L1149.7,1026.2 L1150.9,1026.2 L1152.0,1026.4" stroke-width="1.7249999999999999" fill="none" />
<path d="M1150.9,1029.9 L1151.1,1030.9 L1151.2,1032.0 L1151.3,1033.2 L1151.3,1034.3 L1151.3,1035.6 L1151.2,1036.8 L1151.0,1038.1 L1150.8,1039.4 L1150.5,1040.7 L1150.2,1042.1 L1149.8,1043.5 L1149.4,1044.8 L1148.9,1046.2 L1148.3,1047.6 L1147.7,1049.0 L1147.1,1050.3 L1146.4,1051.7 L1145.6,1053.0 L1144.9,1054.3 L1144.0,1055.6 L1143.2,1056.8 L1142.3,1058.0 L1141.4,1059.2 L1140.4,1060.3 L1139.5,1061.4 L1138.5,1062.4 L1137.5,1063.4 L1136.5,1064.3 L1135.4,1065.1 L1134.4,1065.9 L1133.4,1066.6 L1132.3,1067.2 L1131.3,1067.8 L1130.2,1068.3 L1129.2,1068.7 L1128.2,1069.1" stroke-width="1.7249999999999999" fill="none" />
<path d="M1274.6,1183.0 L1272.8,1181.7 L1271.2,1180.2 L1269.8,1178.4 L1268.7,1176.3 L1267.7,1174.0 L1267.0,1171.4 L1266.5,1168.6 L1266.2,1165.7 L1266.2,1162.5 L1266.4,1159.2 L1266.8,1155.8 L1267.5,1152.3 L1268.4,1148.7 L1269.5,1145.1 L1270.9,1141.4 L1272.5,1137.8 L1274.2,1134.2 L1276.1,1130.7 L1278.2,1127.3 L1280.4,1124.0 L1282.8,1120.8 L1285.3,1117.8 L1287.8,1115.1 L1290.5,1112.5 L1293.2,1110.1 L1295.9,1108.0 L1298.7,1106.2 L1301.4,1104.6 L1304.1,1103.4 L1306.8,1102.4 L1309.4,1101.8 L1311.9,1101.5 L1314.3,1101.5 L1316.5,1101.8 L1318.7,1102.4 L1320.6,1103.3 L1334.6,1111.4 L1288.7,1191.1 Z" stroke-width="2.3" fill="#fcfcfc" />
<ellipse cx="1311.6" cy="1151.2" rx="24.8" ry="46.0" stroke-width="2.3" fill="#fcfcfc" transform="rotate(30 1311.6 1151.2)" />
<ellipse cx="1312.5" cy="1151.0" rx="22.3" ry="41.3" stroke-width="1.7249999999999999" fill="none" transform="rotate(30 1312.5 1151.0)" />
<ellipse cx="1313.0" cy="1151.0" rx="19.5" ry="36.1" stroke-width="5.9799999999999995" fill="none" transform="rotate(30 1313.0 1151.0)" />
<ellipse cx="1313.6" cy="1151.2" rx="15.8" ry="29.3" stroke-width="1.7249999999999999" fill="none" transform="rotate(30 1313.6 1151.2)" />
<path d="M1307.6,1176.0 L1305.9,1175.9 L1304.4,1175.7 L1302.9,1175.1 L1301.7,1174.3 L1300.6,1173.2 L1299.6,1171.9 L1298.9,1170.4 L1298.3,1168.7 L1297.9,1166.8 L1297.8,1164.7 L1297.8,1162.5 L1298.0,1160.1 L1298.5,1157.7 L1299.1,1155.2 L1299.9,1152.7 L1300.9,1150.2 L1302.1,1147.7 L1303.4,1145.2 L1304.9,1142.9 L1306.5,1140.6 L1308.2,1138.5 L1309.9,1136.5 L1311.8,1134.7 L1313.6,1133.1 L1315.6,1131.7 L1317.5,1130.6 L1319.3,1129.7 L1321.2,1129.1 L1323.0,1128.7 L1324.7,1128.6 L1326.3,1128.7 L1327.7,1129.2 L1329.1,1129.9 L1330.2,1130.8 L1331.3,1132.0 L1332.1,1133.4" stroke-width="1.8399999999999999" fill="none" />
<path d="M1304.6,1175.4 L1303.9,1174.5 L1303.3,1173.5 L1302.7,1172.4 L1302.3,1171.1 L1302.0,1169.7 L1301.8,1168.3 L1301.7,1166.8 L1301.7,1165.2 L1301.8,1163.5 L1302.0,1161.8 L1302.4,1160.0 L1302.8,1158.2 L1303.3,1156.4 L1303.9,1154.6 L1304.7,1152.7 L1305.5,1150.9 L1306.4,1149.1 L1307.3,1147.3 L1308.4,1145.6 L1309.5,1143.9 L1310.7,1142.3 L1311.9,1140.7 L1313.2,1139.3 L1314.5,1137.9 L1315.9,1136.6 L1317.2,1135.5 L1318.6,1134.4 L1320.0,1133.5 L1321.4,1132.7 L1322.7,1132.0 L1324.1,1131.5 L1325.4,1131.1 L1326.7,1130.8 L1328.0,1130.7 L1329.2,1130.7 L1330.3,1130.9" stroke-width="1.7249999999999999" fill="none" />
<path d="M1329.2,1134.4 L1329.4,1135.4 L1329.5,1136.5 L1329.6,1137.7 L1329.6,1138.8 L1329.6,1140.1 L1329.5,1141.3 L1329.3,1142.6 L1329.1,1143.9 L1328.8,1145.2 L1328.5,1146.6 L1328.1,1148.0 L1327.7,1149.3 L1327.2,1150.7 L1326.6,1152.1 L1326.0,1153.5 L1325.4,1154.8 L1324.7,1156.2 L1323.9,1157.5 L1323.2,1158.8 L1322.3,1160.1 L1321.5,1161.3 L1320.6,1162.5 L1319.7,1163.7 L1318.7,1164.8 L1317.8,1165.9 L1316.8,1166.9 L1315.8,1167.9 L1314.8,1168.8 L1313.7,1169.6 L1312.7,1170.4 L1311.7,1171.1 L1310.6,1171.7 L1309.6,1172.3 L1308.5,1172.8 L1307.5,1173.2 L1306.5,1173.6" stroke-width="1.7249999999999999" fill="none" />
<path d="M1195.9,1126.4 L1194.5,1125.5 L1193.4,1124.3 L1192.4,1122.8 L1191.5,1121.1 L1190.9,1119.2 L1190.5,1117.0 L1190.2,1114.7 L1190.2,1112.2 L1190.4,1109.5 L1190.7,1106.7 L1191.3,1103.7 L1192.0,1100.7 L1192.9,1097.6 L1194.0,1094.4 L1195.3,1091.2 L1196.7,1088.0 L1198.3,1084.9 L1200.0,1081.8 L1201.9,1078.7 L1203.8,1075.8 L1205.8,1073.0 L1208.0,1070.3 L1210.1,1067.7 L1212.4,1065.4 L1214.6,1063.2 L1216.9,1061.3 L1219.2,1059.6 L1221.4,1058.1 L1223.6,1056.9 L1225.8,1055.9 L1227.9,1055.2 L1229.8,1054.8 L1231.7,1054.6 L1233.5,1054.8 L1235.1,1055.2 L1236.6,1055.9 L1249.1,1063.0 L1208.3,1133.6 Z" stroke-width="2.3" fill="#fcfcfc" />
<ellipse cx="1228.7" cy="1098.3" rx="18.7" ry="40.8" stroke-width="2.3" fill="#fcfcfc" transform="rotate(30 1228.7 1098.3)" />
<ellipse cx="1225.7" cy="1100.3" rx="13.6" ry="26.1" stroke-width="2.3" fill="none" transform="rotate(30 1225.7 1100.3)" />
<path d="M1226.0,1125.9 L1224.1,1126.4 L1222.3,1126.5 L1220.6,1126.4 L1219.0,1125.9 L1217.7,1125.1 L1216.5,1124.0 L1215.5,1122.6 L1214.7,1121.0 L1214.2,1119.1 L1213.9,1117.0 L1213.8,1114.7 L1214.0,1112.2 L1214.4,1109.7 L1215.0,1107.0 L1215.9,1104.3 L1216.9,1101.5 L1218.2,1098.8 L1219.6,1096.1 L1221.2,1093.5 L1223.0,1091.1 L1224.8,1088.8 L1226.8,1086.7 L1228.8,1084.8 L1230.8,1083.2 L1232.8,1081.8 L1234.9,1080.7 L1236.8,1079.9 L1238.7,1079.4 L1240.5,1079.3 L1242.2,1079.4 L1243.8,1079.9 L1245.1,1080.7 L1246.3,1081.8 L1247.3,1083.2 L1248.1,1084.8 L1248.6,1086.7" stroke-width="2.07" fill="none" />
<path d="M1387.8,1165.3 L1389.5,1166.4 L1390.9,1167.8 L1392.0,1169.6 L1392.8,1171.7 L1393.3,1174.1 L1393.5,1176.7 L1393.4,1179.5 L1392.9,1182.3 L1392.1,1185.3 L1391.0,1188.2 L1389.6,1191.0 L1388.0,1193.8 L1386.1,1196.3 L1384.1,1198.6 L1381.9,1200.7 L1379.7,1202.4 L1377.3,1203.8 L1375.0,1204.9 L1372.7,1205.5 L1370.5,1205.7 L1368.4,1205.5 L1366.5,1204.9 L1364.8,1203.9 L1363.4,1202.5 L1362.2,1200.7 L1361.3,1198.7 L1360.7,1196.4 L1360.5,1193.8 L1360.6,1191.1 L1361.0,1188.2 L1361.7,1185.3 L1362.8,1182.4 L1364.1,1179.5 L1365.7,1176.8 L1367.5,1174.2 L1369.5,1171.8" stroke-width="4.641500000000001" fill="none"/>
<path d="M1387.8,1165.3 L1389.5,1166.4 L1390.9,1167.8 L1392.0,1169.6 L1392.8,1171.7 L1393.3,1174.1 L1393.5,1176.7 L1393.4,1179.5 L1392.9,1182.3 L1392.1,1185.3 L1391.0,1188.2 L1389.6,1191.0 L1388.0,1193.8 L1386.1,1196.3 L1384.1,1198.6 L1381.9,1200.7 L1379.7,1202.4 L1377.3,1203.8 L1375.0,1204.9 L1372.7,1205.5 L1370.5,1205.7 L1368.4,1205.5 L1366.5,1204.9 L1364.8,1203.9 L1363.4,1202.5 L1362.2,1200.7 L1361.3,1198.7 L1360.7,1196.4 L1360.5,1193.8 L1360.6,1191.1 L1361.0,1188.2 L1361.7,1185.3 L1362.8,1182.4 L1364.1,1179.5 L1365.7,1176.8 L1367.5,1174.2 L1369.5,1171.8" stroke-width="1.42" fill="none" style="stroke:#fcfcfc"/>
<path d="M1433.8,1266.7 L1429.8,1266.3 L1426.1,1265.1 L1422.9,1263.0 L1420.2,1260.2 L1418.0,1256.7 L1416.5,1252.5 L1415.6,1247.9 L1415.4,1242.8 L1415.9,1237.4 L1417.1,1231.8 L1418.9,1226.1 L1421.3,1220.5 L1424.2,1215.1 L1427.6,1210.0 L1431.4,1205.3 L1435.6,1201.2 L1439.9,1197.7 L1444.4,1194.9 L1448.9,1192.9 L1453.4,1191.7 L1457.6,1191.3 L1461.6,1191.8 L1465.2,1193.1 L1468.4,1195.2 L1471.1,1198.1 L1473.2,1201.7 L1474.6,1205.9 L1475.4,1210.6 L1475.5,1215.7 L1475.0,1221.2 L1473.8,1226.8 L1471.9,1232.5 L1469.5,1238.0 L1466.5,1243.4 L1463.0,1248.5 L1459.2,1253.1" stroke-width="5.776" fill="none"/>
<path d="M1433.8,1266.7 L1429.8,1266.3 L1426.1,1265.1 L1422.9,1263.0 L1420.2,1260.2 L1418.0,1256.7 L1416.5,1252.5 L1415.6,1247.9 L1415.4,1242.8 L1415.9,1237.4 L1417.1,1231.8 L1418.9,1226.1 L1421.3,1220.5 L1424.2,1215.1 L1427.6,1210.0 L1431.4,1205.3 L1435.6,1201.2 L1439.9,1197.7 L1444.4,1194.9 L1448.9,1192.9 L1453.4,1191.7 L1457.6,1191.3 L1461.6,1191.8 L1465.2,1193.1 L1468.4,1195.2 L1471.1,1198.1 L1473.2,1201.7 L1474.6,1205.9 L1475.4,1210.6 L1475.5,1215.7 L1475.0,1221.2 L1473.8,1226.8 L1471.9,1232.5 L1469.5,1238.0 L1466.5,1243.4 L1463.0,1248.5 L1459.2,1253.1" stroke-width="2.10" fill="none" style="stroke:#fcfcfc"/>
<ellipse cx="1438.5" cy="1258.0" rx="6.5" ry="7.5" stroke-width="1.8399999999999999" fill="#fcfcfc" />
<ellipse cx="1454.5" cy="1249.0" rx="6.5" ry="7.5" stroke-width="1.8399999999999999" fill="#fcfcfc" />
<ellipse cx="1438.5" cy="1258.0" rx="2.5" ry="3.0" stroke-width="1.4949999999999999" fill="none" />
<ellipse cx="1454.5" cy="1249.0" rx="2.5" ry="3.0" stroke-width="1.4949999999999999" fill="none" />
<path d="M753.5,669.4 L753.2,669.2 L752.9,668.9 L752.7,668.6 L752.5,668.3 L752.3,668.0 L752.2,667.6 L752.1,667.1 L752.0,666.7 L752.0,666.2 L752.0,665.7 L752.0,665.2 L752.1,664.6 L752.2,664.1 L752.4,663.5 L752.6,663.0 L752.8,662.4 L753.1,661.9 L753.3,661.4 L753.7,660.9 L754.0,660.4 L754.3,659.9 L754.7,659.5 L755.1,659.1 L755.5,658.7 L756.0,658.3 L756.4,658.0 L756.8,657.8 L757.2,657.6 L757.7,657.4 L758.1,657.3 L758.5,657.2 L758.9,657.2 L759.3,657.2 L759.7,657.2 L760.0,657.3 L760.3,657.5 L814.8,688.9 L807.9,700.8 Z" stroke-width="2.07" fill="#fcfcfc" />
<ellipse cx="811.4" cy="694.9" rx="4.1" ry="6.9" stroke-width="2.07" fill="#fcfcfc" transform="rotate(30 811.4 694.9)" />
<path d="M767.4,661.4 L767.7,661.6 L767.9,661.8 L768.2,662.1 L768.4,662.4 L768.6,662.8 L768.7,663.2 L768.8,663.6 L768.9,664.1 L768.9,664.6 L768.9,665.1 L768.8,665.6 L768.7,666.1 L768.6,666.7 L768.5,667.2 L768.3,667.8 L768.0,668.3 L767.8,668.9 L767.5,669.4 L767.2,669.9 L766.9,670.4 L766.5,670.8 L766.1,671.3 L765.7,671.7 L765.3,672.1 L764.9,672.4 L764.5,672.7 L764.0,673.0 L763.6,673.2 L763.2,673.4 L762.8,673.5 L762.3,673.6 L761.9,673.6 L761.6,673.6 L761.2,673.5 L760.8,673.4 L760.5,673.3" stroke-width="1.7249999999999999" fill="none" />
<path d="M772.1,664.1 L772.4,664.3 L772.7,664.6 L772.9,664.9 L773.1,665.2 L773.3,665.6 L773.4,666.0 L773.5,666.4 L773.6,666.8 L773.6,667.3 L773.6,667.8 L773.6,668.3 L773.5,668.9 L773.4,669.4 L773.2,670.0 L773.0,670.5 L772.8,671.1 L772.5,671.6 L772.3,672.1 L771.9,672.6 L771.6,673.1 L771.2,673.6 L770.9,674.0 L770.5,674.4 L770.1,674.8 L769.6,675.2 L769.2,675.5 L768.8,675.7 L768.4,675.9 L767.9,676.1 L767.5,676.2 L767.1,676.3 L766.7,676.4 L766.3,676.3 L765.9,676.3 L765.6,676.2 L765.3,676.0" stroke-width="1.7249999999999999" fill="none" />
<path d="M776.9,666.9 L777.2,667.1 L777.4,667.3 L777.7,667.6 L777.9,667.9 L778.1,668.3 L778.2,668.7 L778.3,669.1 L778.4,669.6 L778.4,670.1 L778.4,670.6 L778.3,671.1 L778.2,671.6 L778.1,672.2 L778.0,672.7 L777.8,673.3 L777.6,673.8 L777.3,674.3 L777.0,674.9 L776.7,675.4 L776.4,675.9 L776.0,676.3 L775.6,676.8 L775.2,677.2 L774.8,677.6 L774.4,677.9 L774.0,678.2 L773.5,678.5 L773.1,678.7 L772.7,678.9 L772.3,679.0 L771.8,679.1 L771.4,679.1 L771.1,679.1 L770.7,679.0 L770.3,678.9 L770.0,678.8" stroke-width="1.7249999999999999" fill="none" />
<path d="M781.6,669.6 L781.9,669.8 L782.2,670.1 L782.4,670.4 L782.6,670.7 L782.8,671.0 L782.9,671.4 L783.1,671.9 L783.1,672.3 L783.1,672.8 L783.1,673.3 L783.1,673.8 L783.0,674.4 L782.9,674.9 L782.7,675.5 L782.5,676.0 L782.3,676.6 L782.0,677.1 L781.8,677.6 L781.4,678.1 L781.1,678.6 L780.8,679.1 L780.4,679.5 L780.0,679.9 L779.6,680.3 L779.2,680.6 L778.7,680.9 L778.3,681.2 L777.9,681.4 L777.4,681.6 L777.0,681.7 L776.6,681.8 L776.2,681.8 L775.8,681.8 L775.4,681.8 L775.1,681.7 L774.8,681.5" stroke-width="1.7249999999999999" fill="none" />
<path d="M786.4,672.4 L786.7,672.6 L786.9,672.8 L787.2,673.1 L787.4,673.4 L787.6,673.8 L787.7,674.2 L787.8,674.6 L787.9,675.1 L787.9,675.6 L787.9,676.1 L787.8,676.6 L787.8,677.1 L787.6,677.7 L787.5,678.2 L787.3,678.7 L787.1,679.3 L786.8,679.8 L786.5,680.4 L786.2,680.9 L785.9,681.4 L785.5,681.8 L785.1,682.3 L784.7,682.7 L784.3,683.1 L783.9,683.4 L783.5,683.7 L783.0,684.0 L782.6,684.2 L782.2,684.3 L781.8,684.5 L781.3,684.6 L780.9,684.6 L780.6,684.6 L780.2,684.5 L779.8,684.4 L779.5,684.2" stroke-width="1.7249999999999999" fill="none" />
<path d="M791.1,675.1 L791.4,675.3 L791.7,675.6 L791.9,675.8 L792.1,676.2 L792.3,676.5 L792.5,676.9 L792.6,677.4 L792.6,677.8 L792.6,678.3 L792.6,678.8 L792.6,679.3 L792.5,679.9 L792.4,680.4 L792.2,680.9 L792.0,681.5 L791.8,682.0 L791.6,682.6 L791.3,683.1 L791.0,683.6 L790.6,684.1 L790.3,684.6 L789.9,685.0 L789.5,685.4 L789.1,685.8 L788.7,686.1 L788.2,686.4 L787.8,686.7 L787.4,686.9 L786.9,687.1 L786.5,687.2 L786.1,687.3 L785.7,687.3 L785.3,687.3 L784.9,687.2 L784.6,687.1 L784.3,687.0" stroke-width="1.7249999999999999" fill="none" />
<path d="M795.9,677.8 L796.2,678.0 L796.4,678.3 L796.7,678.6 L796.9,678.9 L797.1,679.3 L797.2,679.7 L797.3,680.1 L797.4,680.6 L797.4,681.0 L797.4,681.5 L797.3,682.1 L797.3,682.6 L797.1,683.1 L797.0,683.7 L796.8,684.2 L796.6,684.8 L796.3,685.3 L796.0,685.8 L795.7,686.4 L795.4,686.8 L795.0,687.3 L794.6,687.8 L794.2,688.2 L793.8,688.5 L793.4,688.9 L793.0,689.2 L792.5,689.4 L792.1,689.7 L791.7,689.8 L791.3,690.0 L790.9,690.0 L790.5,690.1 L790.1,690.1 L789.7,690.0 L789.3,689.9 L789.0,689.7" stroke-width="1.7249999999999999" fill="none" />
<path d="M800.6,680.6 L800.9,680.8 L801.2,681.0 L801.4,681.3 L801.6,681.7 L801.8,682.0 L802.0,682.4 L802.1,682.8 L802.1,683.3 L802.2,683.8 L802.1,684.3 L802.1,684.8 L802.0,685.3 L801.9,685.9 L801.7,686.4 L801.5,687.0 L801.3,687.5 L801.1,688.1 L800.8,688.6 L800.5,689.1 L800.1,689.6 L799.8,690.1 L799.4,690.5 L799.0,690.9 L798.6,691.3 L798.2,691.6 L797.7,691.9 L797.3,692.2 L796.9,692.4 L796.4,692.6 L796.0,692.7 L795.6,692.8 L795.2,692.8 L794.8,692.8 L794.4,692.7 L794.1,692.6 L793.8,692.5" stroke-width="1.7249999999999999" fill="none" />
<path d="M805.4,683.3 L805.7,683.5 L806.0,683.8 L806.2,684.1 L806.4,684.4 L806.6,684.8 L806.7,685.2 L806.8,685.6 L806.9,686.0 L806.9,686.5 L806.9,687.0 L806.8,687.6 L806.8,688.1 L806.6,688.6 L806.5,689.2 L806.3,689.7 L806.1,690.3 L805.8,690.8 L805.5,691.3 L805.2,691.8 L804.9,692.3 L804.5,692.8 L804.1,693.2 L803.7,693.6 L803.3,694.0 L802.9,694.4 L802.5,694.7 L802.1,694.9 L801.6,695.1 L801.2,695.3 L800.8,695.4 L800.4,695.5 L800.0,695.6 L799.6,695.5 L799.2,695.5 L798.9,695.4 L798.5,695.2" stroke-width="1.7249999999999999" fill="none" />
<path d="M810.1,686.1 L810.4,686.3 L810.7,686.5 L810.9,686.8 L811.2,687.1 L811.3,687.5 L811.5,687.9 L811.6,688.3 L811.6,688.8 L811.7,689.3 L811.6,689.8 L811.6,690.3 L811.5,690.8 L811.4,691.4 L811.2,691.9 L811.0,692.5 L810.8,693.0 L810.6,693.5 L810.3,694.1 L810.0,694.6 L809.6,695.1 L809.3,695.5 L808.9,696.0 L808.5,696.4 L808.1,696.8 L807.7,697.1 L807.2,697.4 L806.8,697.7 L806.4,697.9 L805.9,698.1 L805.5,698.2 L805.1,698.3 L804.7,698.3 L804.3,698.3 L804.0,698.2 L803.6,698.1 L803.3,698.0" stroke-width="1.7249999999999999" fill="none" />
<path d="M751.2,672.9 L750.7,672.5 L750.2,672.1 L749.8,671.7 L749.5,671.1 L749.2,670.5 L749.0,669.8 L748.8,669.1 L748.7,668.4 L748.7,667.6 L748.7,666.7 L748.8,665.9 L748.9,665.0 L749.1,664.1 L749.4,663.1 L749.7,662.2 L750.1,661.3 L750.5,660.4 L751.0,659.6 L751.5,658.7 L752.0,657.9 L752.6,657.1 L753.3,656.4 L753.9,655.7 L754.6,655.1 L755.3,654.5 L756.0,654.0 L756.7,653.6 L757.5,653.2 L758.2,652.9 L758.9,652.7 L759.6,652.6 L760.2,652.5 L760.9,652.5 L761.5,652.6 L762.1,652.8 L762.6,653.1 L764.2,654.0 L752.8,673.8 Z" stroke-width="2.07" fill="#fcfcfc" />
<ellipse cx="758.5" cy="663.9" rx="6.9" ry="11.4" stroke-width="2.07" fill="#fcfcfc" transform="rotate(30 758.5 663.9)" />
<path d="M733.8,668.5 L733.1,668.1 L732.5,667.5 L731.9,666.8 L731.4,666.0 L731.0,665.1 L730.6,664.2 L730.4,663.1 L730.2,662.0 L730.2,660.9 L730.2,659.7 L730.3,658.4 L730.5,657.1 L730.8,655.8 L731.2,654.5 L731.7,653.2 L732.2,651.9 L732.8,650.6 L733.5,649.4 L734.2,648.1 L735.0,647.0 L735.9,645.8 L736.8,644.8 L737.8,643.8 L738.8,642.9 L739.8,642.1 L740.8,641.3 L741.8,640.7 L742.9,640.2 L743.9,639.8 L744.9,639.5 L745.9,639.3 L746.9,639.2 L747.8,639.2 L748.7,639.4 L749.5,639.7 L750.3,640.0 L757.8,644.4 L741.3,672.9 Z" stroke-width="2.3" fill="#fcfcfc" />
<ellipse cx="749.6" cy="658.6" rx="9.9" ry="16.5" stroke-width="2.3" fill="#fcfcfc" transform="rotate(30 749.6 658.6)" />
<path d="M736.6,670.1 L735.8,669.7 L735.2,669.1 L734.6,668.4 L734.1,667.6 L733.7,666.7 L733.4,665.8 L733.1,664.7 L733.0,663.6 L732.9,662.5 L732.9,661.3 L733.1,660.0 L733.3,658.7 L733.6,657.4 L733.9,656.1 L734.4,654.8 L734.9,653.5 L735.5,652.2 L736.2,651.0 L737.0,649.7 L737.8,648.6 L738.7,647.4 L739.6,646.4 L740.5,645.4 L741.5,644.5 L742.5,643.7 L743.5,642.9 L744.6,642.3 L745.6,641.8 L746.6,641.4 L747.6,641.1 L748.6,640.9 L749.6,640.8 L750.5,640.8 L751.4,641.0 L752.2,641.3 L753.0,641.6" stroke-width="1.4949999999999999" fill="none" />
<path d="M568.9,797.7 L566.6,796.1 L564.6,794.2 L562.8,792.0 L561.3,789.4 L560.0,786.5 L559.0,783.3 L558.3,779.9 L558.0,776.3 L557.9,772.4 L558.1,768.3 L558.6,764.1 L559.3,759.8 L560.4,755.5 L561.8,751.0 L563.4,746.6 L565.3,742.2 L567.4,737.8 L569.7,733.5 L572.2,729.3 L575.0,725.3 L577.9,721.5 L580.9,717.8 L584.1,714.5 L587.3,711.3 L590.7,708.5 L594.1,706.0 L597.5,703.8 L600.9,701.9 L604.2,700.4 L607.5,699.3 L610.8,698.6 L613.9,698.2 L616.9,698.3 L619.7,698.7 L622.4,699.5 L624.9,700.7 L684.3,735.0 L628.3,832.0 Z" stroke-width="2.3" fill="#fcfcfc" />
<ellipse cx="656.3" cy="783.5" rx="31.4" ry="56.0" stroke-width="2.3" fill="#fcfcfc" transform="rotate(30 656.3 783.5)" />
<path d="M620.9,838.7 L617.8,836.7 L615.1,834.1 L612.7,831.1 L610.6,827.6 L608.9,823.7 L607.6,819.4 L606.7,814.8 L606.2,809.9 L606.0,804.7 L606.3,799.2 L607.0,793.6 L608.0,787.8 L609.5,781.9 L611.3,775.9 L613.5,769.9 L616.0,763.9 L618.9,758.1 L622.0,752.3 L625.4,746.7 L629.1,741.3 L633.0,736.1 L637.1,731.2 L641.4,726.6 L645.8,722.4 L650.3,718.6 L654.8,715.2 L659.4,712.3 L664.0,709.8 L668.5,707.8 L673.0,706.3 L677.3,705.3 L681.5,704.8 L685.6,704.8 L689.4,705.4 L693.0,706.5 L696.3,708.1 L761.7,745.8 L686.2,876.5 Z" stroke-width="2.3" fill="#fcfcfc" />
<ellipse cx="723.9" cy="811.1" rx="42.2" ry="75.4" stroke-width="2.3" fill="#fcfcfc" transform="rotate(30 723.9 811.1)" />
<path d="M630.8,843.2 L626.8,842.0 L623.1,840.2 L619.9,837.7 L617.0,834.6 L614.5,831.0 L612.4,826.9 L610.9,822.2 L609.8,817.2 L609.2,811.7 L609.0,805.9 L609.4,799.8 L610.3,793.5 L611.6,787.0 L613.4,780.4 L615.7,773.7 L618.4,767.1 L621.5,760.5 L625.0,754.1 L628.8,747.9 L632.9,741.9 L637.3,736.3 L642.0,731.0 L646.8,726.1 L651.7,721.7 L656.8,717.8 L661.9,714.4 L666.9,711.6 L672.0,709.4 L676.9,707.8 L681.7,706.9 L686.3,706.6 L690.7,706.9 L694.8,707.9 L698.6,709.5 L702.0,711.7 L705.1,714.6" stroke-width="1.8399999999999999" fill="none" />
<path d="M620.9,838.7 L617.7,836.6 L615.0,833.9 L612.5,830.8 L610.4,827.2 L608.7,823.1 L607.5,818.7 L606.6,813.9 L606.1,808.7 L606.1,803.3 L606.5,797.7 L607.3,791.8 L608.5,785.8 L610.1,779.7 L612.1,773.6 L614.5,767.4 L617.2,761.3 L620.3,755.3 L623.7,749.5 L627.3,743.8 L631.3,738.4 L635.4,733.2 L639.7,728.4 L644.2,723.9 L648.8,719.9 L653.4,716.2 L658.1,713.0 L662.8,710.4 L667.5,708.2 L672.1,706.5 L676.6,705.4 L681.0,704.8 L685.1,704.8 L689.1,705.3 L692.8,706.4 L696.2,708.0 L699.4,710.2" stroke-width="2.3" fill="none" />
<path d="M569.8,798.2 L567.4,796.8 L565.3,794.9 L563.4,792.8 L561.7,790.2 L560.3,787.4 L559.3,784.2 L558.5,780.8 L558.0,777.1 L557.9,773.2 L558.0,769.1 L558.5,764.8 L559.2,760.4 L560.3,755.9 L561.6,751.4 L563.3,746.9 L565.2,742.3 L567.3,737.9 L569.7,733.5 L572.3,729.2 L575.1,725.1 L578.1,721.2 L581.2,717.5 L584.4,714.1 L587.8,710.9 L591.2,708.1 L594.7,705.6 L598.1,703.4 L601.6,701.6 L605.0,700.1 L608.4,699.1 L611.7,698.4 L614.8,698.2 L617.9,698.4 L620.7,698.9 L623.4,699.9 L625.8,701.2" stroke-width="2.3" fill="none" />
<path d="M710.0,716.0 L756.9,741.2 L778.6,780.0 L778.6,917.2 L707.8,895.5 L673.5,848.6 L678.0,807.5 Z" fill="#fcfcfc" style="stroke:none"/>
<path d="M667.7,720.1 C668.9,718.0 668.1,711.8 678.0,714.9 C687.9,718.0 718.6,733.4 727.2,738.9 C735.8,744.4 730.1,746.2 729.5,748.0 C728.8,749.9 733.0,753.3 723.3,749.9 C713.6,746.4 680.4,732.4 671.2,727.5 C661.9,722.5 666.6,722.2 667.7,720.1 Z" stroke-width="2.3" fill="#fcfcfc" />
<path d="M674.6,721.7 L723.8,745.3" stroke-width="1.4949999999999999" fill="none" />
<path d="M756.9,740.5 C751.4,743.3 733.9,750.6 723.8,757.2 C713.7,763.8 703.9,770.5 696.3,780.0 C688.7,789.6 681.8,802.9 678.0,814.3 C674.2,825.8 672.7,838.0 673.5,848.6 C674.2,859.3 676.9,870.6 682.6,878.3 C688.3,886.1 703.6,892.3 707.8,895.0" stroke-width="2.3" fill="none" />
<line x1="696.3" y1="780.0" x2="740.9" y2="804.0" stroke-width="1.8399999999999999"/>
<line x1="684.9" y1="800.6" x2="726.0" y2="821.2" stroke-width="1.8399999999999999"/>
<line x1="707.8" y1="711.0" x2="756.9" y2="740.5" stroke-width="2.3"/>
<path d="M808.3,757.2 C819.0,749.0 833.1,745.0 842.6,744.6 C852.2,744.2 859.4,748.2 865.5,754.9 C871.6,761.6 876.5,769.0 879.2,784.6 C882.0,800.2 883.1,830.3 882.0,848.6 C880.8,866.9 878.5,879.1 872.4,894.3 C866.2,909.6 856.7,929.4 844.9,940.1 C833.1,950.7 816.3,954.6 801.5,958.4 C786.6,962.2 764.8,962.9 755.8,962.9 C746.7,962.9 749.0,962.9 747.1,958.4 C745.2,953.8 744.4,942.4 744.3,935.5 C744.3,928.6 744.7,931.7 746.6,917.2 C748.5,902.7 750.4,869.2 755.8,848.6 C761.1,828.0 769.9,809.0 778.6,793.8 C787.4,778.5 797.7,765.4 808.3,757.2 Z" stroke-width="2.3" fill="#fcfcfc" />
<path d="M756.9,740.5 C760.5,741.2 770.1,741.8 778.6,744.6 C787.2,747.4 803.4,755.1 808.3,757.2" stroke-width="2.3" fill="none" />
<path d="M723.8,857.8 C723.2,854.3 719.6,845.2 720.3,837.2 C721.1,829.2 723.9,818.5 728.3,809.8 C732.7,801.0 741.9,789.9 746.6,784.6 C751.4,779.3 755.2,778.9 756.9,777.8" stroke-width="2.3" fill="none" />
<path d="M746.6,958.4 C743.2,956.8 730.4,953.0 726.0,949.2 C721.7,945.4 719.9,940.5 720.3,935.5 C720.7,930.5 724.7,921.2 728.3,919.5 C731.9,917.8 739.8,924.3 742.0,925.2" stroke-width="2.3" fill="none" />
<path d="M719.2,862.3 L718.0,912.6 L742.0,925.2" stroke-width="2.3" fill="none" />
<path d="M723.8,857.8 C727.9,857.0 745.5,850.9 748.9,853.2 C752.3,855.5 744.7,861.2 744.3,871.5 C743.9,881.8 746.2,907.7 746.6,914.9" stroke-width="2.3" fill="none" />
<path d="M705.5,838.3 L714.6,837.2 L714.6,896.6 L706.6,900.1 L705.5,838.3" stroke-width="2.07" fill="#fcfcfc" />
<line x1="732.9" y1="818.9" x2="746.6" y2="824.6" stroke-width="1.4949999999999999"/>
<line x1="732.9" y1="862.3" x2="744.3" y2="868.1" stroke-width="1.4949999999999999"/>
<line x1="730.6" y1="934.4" x2="744.3" y2="940.1" stroke-width="1.4949999999999999"/>
<path d="M833.5,900.1 L826.9,906.6 L820.0,912.2 L812.9,916.8 L805.7,920.3 L798.6,922.7 L791.7,923.9 L785.2,923.8 L779.0,922.6 L773.5,920.1 L768.6,916.5 L764.4,911.9 L761.1,906.2 L758.7,899.6 L757.2,892.3 L756.7,884.3 L757.1,875.9 L758.5,867.1 L760.8,858.1 L764.1,849.2 L768.1,840.3 L773.0,831.9 L778.5,823.8 L784.6,816.5 L791.1,809.8 L798.0,804.1 L805.1,799.3 L812.2,795.6 L819.3,793.1 L826.3,791.8 L832.9,791.6 L839.1,792.7 L844.7,795.0 L849.7,798.4 L854.0,802.9 L857.4,808.5 L860.0,814.9" stroke-width="2.3" fill="none" />
<path d="M772.6,918.1 L770.4,915.6 L768.4,912.7 L766.7,909.6 L765.2,906.2 L764.0,902.6 L763.0,898.7 L762.4,894.6 L762.0,890.4 L761.9,886.0 L762.0,881.4 L762.5,876.8 L763.2,872.0 L764.2,867.2 L765.5,862.4 L767.0,857.5 L768.8,852.6 L770.9,847.8 L773.1,843.1 L775.6,838.4 L778.3,833.9 L781.2,829.5 L784.3,825.3 L787.6,821.2 L791.0,817.3 L794.5,813.7 L798.1,810.3 L801.8,807.2 L805.6,804.4 L809.4,801.8 L813.3,799.6 L817.2,797.7 L821.1,796.1 L824.9,794.8 L828.7,793.9 L832.4,793.4 L836.0,793.2" stroke-width="1.8399999999999999" fill="none" />
<path d="M812.9,786.9 C816.7,787.1 830.1,785.8 835.8,788.0 C841.5,790.3 844.9,799.3 847.2,800.6 C849.5,801.9 846.8,796.0 849.5,796.0 C852.2,796.0 859.4,801.8 863.2,800.6 C867.0,799.5 870.8,791.1 872.4,789.2" stroke-width="2.07" fill="none" />
<path d="M872.4,789.2 C872.9,795.3 876.2,813.0 875.8,825.8 C875.4,838.5 871.0,859.1 870.1,865.8" stroke-width="1.8399999999999999" fill="none" />
<path d="M842.6,839.5 L841.5,850.9 L868.9,865.8" stroke-width="1.8399999999999999" fill="none" />
<path d="M815.2,893.2 L842.6,908.1 L835.8,924.1 L783.2,930.9 L775.2,927.5 L776.3,920.6" stroke-width="1.8399999999999999" fill="none" />
<path d="M751.2,903.5 C752.0,905.8 752.7,913.4 755.8,917.2 C758.8,921.0 764.9,923.1 769.5,926.4 C774.1,929.6 780.9,934.9 783.2,936.6" stroke-width="2.07" fill="none" />
<path d="M783.2,936.6 C782.6,938.7 776.7,947.1 779.8,949.2 C782.8,951.3 790.6,952.3 801.5,949.2 C812.3,946.2 837.7,934.0 844.9,930.9" stroke-width="1.8399999999999999" fill="none" />
<ellipse cx="859.8" cy="777.8" rx="6.4" ry="10.3" stroke-width="2.07" fill="none" transform="rotate(30 859.8 777.8)" />
<ellipse cx="761.5" cy="833.8" rx="6.4" ry="10.3" stroke-width="2.07" fill="none" transform="rotate(30 761.5 833.8)" />
<ellipse cx="859.8" cy="889.8" rx="6.4" ry="10.3" stroke-width="2.07" fill="none" transform="rotate(30 859.8 889.8)" />
<ellipse cx="760.3" cy="944.6" rx="6.4" ry="10.3" stroke-width="2.07" fill="none" transform="rotate(30 760.3 944.6)" />
<path d="M740.9,759.5 C740.1,756.4 743.0,752.0 746.6,750.3 C750.2,748.6 757.9,748.4 762.6,749.2 C767.4,749.9 774.1,752.0 775.2,754.9 C776.3,757.7 773.5,764.0 769.5,766.3 C765.5,768.6 756.0,769.7 751.2,768.6 C746.4,767.5 741.7,762.5 740.9,759.5 Z" stroke-width="2.3" fill="#fcfcfc" />
<ellipse cx="755.8" cy="758.3" rx="5.9" ry="7.3" stroke-width="2.07" fill="none" transform="rotate(60 755.8 758.3)" />
<path d="M758.0,768.6 L786.6,752.1 L824.3,772.0 L824.3,788.0 L811.8,789.6 L811.8,783.5 L795.8,775.5 L796.9,802.9 L786.6,805.6 L785.5,791.0 L759.2,778.2 Z" stroke-width="2.3" fill="#fcfcfc" />
<path d="M766.0,769.7 L787.8,757.2 L790.1,758.3 L790.1,777.8 L792.3,785.8 Z" stroke-width="1.8399999999999999" fill="none" />
<path d="M759.2,773.6 L785.9,786.9" stroke-width="1.6099999999999999" fill="none" />
<line x1="790.1" y1="777.8" x2="795.8" y2="775.5" stroke-width="1.6099999999999999"/>
<line x1="824.3" y1="772.0" x2="811.8" y2="783.5" stroke-width="1.4949999999999999"/>
<path d="M82.8,412.7 L84.5,414.3 L85.9,416.4 L87.0,418.8 L87.7,421.5 L87.9,424.4 L87.8,427.5 L87.2,430.7 L86.3,433.9 L85.0,437.0 L83.3,440.0 L81.4,442.8 L79.2,445.4 L76.8,447.6 L74.2,449.4 L71.6,450.8 L68.9,451.8 L66.3,452.3 L63.7,452.3 L61.3,451.8 L59.2,450.9 L57.2,449.5 L55.6,447.6 L54.4,445.4 L53.5,442.9 L53.0,440.1 L52.9,437.1 L53.2,434.0 L53.9,430.8 L55.0,427.6 L56.5,424.5 L58.3,421.6 L60.3,418.9 L62.6,416.4 L65.1,414.4 L67.7,412.7 L70.4,411.5" stroke-width="4.85875" fill="none"/>
<path d="M82.8,412.7 L84.5,414.3 L85.9,416.4 L87.0,418.8 L87.7,421.5 L87.9,424.4 L87.8,427.5 L87.2,430.7 L86.3,433.9 L85.0,437.0 L83.3,440.0 L81.4,442.8 L79.2,445.4 L76.8,447.6 L74.2,449.4 L71.6,450.8 L68.9,451.8 L66.3,452.3 L63.7,452.3 L61.3,451.8 L59.2,450.9 L57.2,449.5 L55.6,447.6 L54.4,445.4 L53.5,442.9 L53.0,440.1 L52.9,437.1 L53.2,434.0 L53.9,430.8 L55.0,427.6 L56.5,424.5 L58.3,421.6 L60.3,418.9 L62.6,416.4 L65.1,414.4 L67.7,412.7 L70.4,411.5" stroke-width="1.41" fill="none" style="stroke:#fcfcfc"/>
<clipPath id="c15"><rect x="80" y="420" width="55.2" height="80"/></clipPath>
<g clip-path="url(#c15)">
<ellipse cx="117.0" cy="460.5" rx="19.5" ry="31.0" stroke-width="1.8399999999999999" fill="none" transform="rotate(30 117.0 460.5)" />
<ellipse cx="119.0" cy="460.0" rx="18.5" ry="30.0" stroke-width="1.8399999999999999" fill="none" transform="rotate(30 119.0 460.0)" />
<ellipse cx="119.5" cy="460.0" rx="12.5" ry="23.5" stroke-width="2.07" fill="none" transform="rotate(30 119.5 460.0)" />
<path d="M106.9,472.9 L106.7,471.9 L106.6,471.0 L106.5,470.0 L106.5,468.9 L106.5,467.9 L106.6,466.7 L106.8,465.6 L107.0,464.5 L107.3,463.3 L107.6,462.1 L108.0,460.9 L108.4,459.7 L108.9,458.5 L109.4,457.3 L110.0,456.1 L110.6,454.9 L111.3,453.8 L112.0,452.7 L112.7,451.6 L113.4,450.5 L114.2,449.5 L115.1,448.5 L115.9,447.6 L116.8,446.7 L117.7,445.8 L118.6,445.1 L119.5,444.3 L120.4,443.7 L121.3,443.1 L122.2,442.6 L123.1,442.1 L124.0,441.7 L124.9,441.4 L125.8,441.2 L126.6,441.0 L127.4,440.9" stroke-width="1.8399999999999999" fill="none" />
</g>
<path d="M152.0,509.0 L150.0,508.6 L148.2,507.8 L146.5,506.8 L145.0,505.6 L143.6,504.1 L142.5,502.4 L141.5,500.5 L140.8,498.4 L140.3,496.1 L140.1,493.8 L140.0,491.3 L140.2,488.8 L140.7,486.3 L141.4,483.7 L142.3,481.2 L143.4,478.7 L144.7,476.3 L146.2,474.1 L147.8,471.9 L149.6,469.9 L151.5,468.2 L153.6,466.6 L155.7,465.2 L157.8,464.1 L160.0,463.3 L162.2,462.7 L164.3,462.4 L166.4,462.4 L168.4,462.6 L170.4,463.2 L172.2,464.0 L173.8,465.0 L175.3,466.3 L176.6,467.9 L177.7,469.6 L178.6,471.6" stroke-width="2.3" fill="none" />
<path d="M164.9,516.2 L162.9,515.8 L161.1,515.0 L159.4,514.0 L157.9,512.8 L156.5,511.3 L155.4,509.6 L154.4,507.7 L153.7,505.6 L153.2,503.3 L153.0,501.0 L152.9,498.5 L153.2,496.0 L153.6,493.5 L154.3,490.9 L155.2,488.4 L156.3,485.9 L157.6,483.5 L159.1,481.3 L160.7,479.1 L162.5,477.1 L164.4,475.4 L166.5,473.8 L168.6,472.4 L170.7,471.3 L172.9,470.5 L175.1,469.9 L177.2,469.6 L179.3,469.6 L181.3,469.8 L183.3,470.4 L185.1,471.2 L186.7,472.2 L188.2,473.5 L189.5,475.1 L190.6,476.8 L191.5,478.8" stroke-width="2.3" fill="none" />
<path d="M177.8,523.4 L175.8,523.0 L174.0,522.2 L172.3,521.2 L170.8,520.0 L169.4,518.5 L168.3,516.8 L167.3,514.9 L166.6,512.8 L166.1,510.5 L165.9,508.2 L165.8,505.7 L166.1,503.2 L166.5,500.7 L167.2,498.1 L168.1,495.6 L169.2,493.1 L170.5,490.7 L172.0,488.5 L173.6,486.3 L175.4,484.3 L177.3,482.6 L179.4,481.0 L181.5,479.6 L183.6,478.5 L185.8,477.7 L188.0,477.1 L190.1,476.8 L192.2,476.8 L194.2,477.0 L196.2,477.6 L198.0,478.4 L199.6,479.4 L201.1,480.7 L202.4,482.3 L203.5,484.0 L204.4,485.9" stroke-width="2.3" fill="none" />
<ellipse cx="198.7" cy="507.4" rx="18.0" ry="25.0" stroke-width="2.3" fill="none" transform="rotate(30 198.7 507.4)" />
<path d="M218.1,499.1 L218.1,499.9 L218.1,500.8 L218.1,501.6 L218.1,502.5 L218.0,503.4 L217.9,504.3 L217.7,505.2 L217.5,506.1 L217.3,507.0 L217.1,508.0 L216.8,508.9 L216.5,509.8 L216.1,510.8 L215.7,511.7 L215.3,512.6 L214.9,513.5 L214.4,514.4 L213.9,515.3 L213.4,516.2 L212.8,517.0 L212.3,517.9 L211.7,518.7 L211.1,519.5 L210.4,520.3 L209.8,521.0 L209.1,521.7 L208.5,522.4 L207.8,523.0 L207.1,523.7 L206.3,524.3 L205.6,524.8 L204.9,525.3 L204.2,525.8 L203.4,526.2 L202.7,526.6 L202.0,527.0" stroke-width="2.07" fill="none" />
<path d="M235.4,583.3 L233.5,582.0 L231.7,580.4 L230.2,578.5 L228.9,576.3 L227.8,573.9 L227.0,571.3 L226.3,568.4 L226.0,565.4 L225.8,562.2 L226.0,558.8 L226.3,555.3 L227.0,551.8 L227.8,548.1 L228.9,544.5 L230.2,540.8 L231.8,537.1 L233.5,533.5 L235.4,530.0 L237.5,526.5 L239.8,523.2 L242.2,520.1 L244.7,517.1 L247.3,514.3 L250.1,511.8 L252.8,509.4 L255.7,507.4 L258.5,505.6 L261.4,504.1 L264.2,502.9 L267.0,502.0 L269.7,501.4 L272.3,501.1 L274.8,501.2 L277.2,501.6 L279.5,502.3 L281.6,503.3 L323.4,527.4 L277.2,607.5 Z" stroke-width="2.3" fill="#fcfcfc" />
<ellipse cx="300.3" cy="567.4" rx="26.7" ry="46.2" stroke-width="2.3" fill="#fcfcfc" transform="rotate(30 300.3 567.4)" />
<path d="M284.9,604.8 L281.5,605.4 L278.2,605.6 L275.2,605.3 L272.3,604.5 L269.7,603.2 L267.4,601.4 L265.4,599.1 L263.7,596.5 L262.4,593.4 L261.4,590.0 L260.9,586.3 L260.7,582.3 L260.9,578.1 L261.4,573.7 L262.4,569.2 L263.7,564.6 L265.4,560.0 L267.4,555.5 L269.7,551.0 L272.3,546.7 L275.2,542.6 L278.3,538.7 L281.5,535.1 L284.9,531.9 L288.4,529.0 L291.9,526.6 L295.5,524.6 L299.0,523.0 L302.5,522.0 L305.8,521.4 L309.0,521.3 L312.1,521.7 L314.9,522.7 L317.4,524.1 L319.7,525.9 L321.6,528.3" stroke-width="1.7249999999999999" fill="none" />
<ellipse cx="301.3" cy="567.9" rx="23.7" ry="41.0" stroke-width="1.7249999999999999" fill="none" transform="rotate(30 301.3 567.9)" />
<ellipse cx="304.9" cy="570.3" rx="15.6" ry="26.0" stroke-width="2.3" fill="none" transform="rotate(30 304.9 570.3)" />
<path d="M305.4,590.9 L303.7,591.2 L302.1,591.2 L300.6,591.0 L299.2,590.5 L297.9,589.8 L296.8,588.8 L295.8,587.6 L295.0,586.2 L294.5,584.6 L294.1,582.8 L293.9,580.9 L293.9,578.9 L294.1,576.7 L294.5,574.5 L295.2,572.3 L296.0,570.1 L296.9,567.9 L298.1,565.7 L299.4,563.6 L300.8,561.7 L302.3,559.9 L304.0,558.2 L305.7,556.7 L307.4,555.5 L309.1,554.4 L310.9,553.7 L312.6,553.1 L314.3,552.8 L315.9,552.8 L317.4,553.0 L318.8,553.5 L320.1,554.2 L321.2,555.2 L322.2,556.4 L323.0,557.8 L323.5,559.4" stroke-width="2.3" fill="none" />
<path d="M301.3,590.0 L300.7,589.3 L300.2,588.4 L299.7,587.5 L299.3,586.5 L299.0,585.5 L298.8,584.3 L298.6,583.1 L298.6,581.8 L298.6,580.5 L298.7,579.2 L298.9,577.8 L299.2,576.4 L299.6,575.0 L300.1,573.6 L300.6,572.2 L301.2,570.7 L301.9,569.4 L302.6,568.0 L303.4,566.7 L304.3,565.4 L305.2,564.2 L306.2,563.0 L307.2,561.9 L308.2,560.9 L309.3,559.9 L310.4,559.0 L311.5,558.3 L312.6,557.6 L313.7,557.0 L314.8,556.5 L315.9,556.1 L317.0,555.9 L318.1,555.7 L319.1,555.7 L320.1,555.7 L321.0,555.9" stroke-width="1.7249999999999999" fill="none" />
<path d="M420.1,498.2 L420.1,511.3 L437.8,511.3 L437.8,498.2" stroke-width="2.3" fill="#fcfcfc" />
<ellipse cx="429.0" cy="511.3" rx="8.8" ry="3.5" stroke-width="2.3" fill="#fcfcfc" />
<ellipse cx="429.0" cy="491.0" rx="17.6" ry="7.4" stroke-width="2.3" fill="#fcfcfc" />
<ellipse cx="429.0" cy="488.4" rx="15.3" ry="6.3" stroke-width="1.8399999999999999" fill="#fcfcfc" />
<path d="M414.7,487.4 C414.9,485.8 413.8,480.4 416.2,477.6 C418.6,474.9 424.7,470.8 429.0,470.8 C433.2,470.8 439.3,474.9 441.7,477.6 C444.1,480.4 443.0,485.8 443.3,487.4" stroke-width="2.3" fill="#fcfcfc" />
<ellipse cx="429.0" cy="477.2" rx="9.8" ry="4.3" stroke-width="1.7249999999999999" fill="none" />
<line x1="424.1" y1="475.7" x2="433.9" y2="479.2" stroke-width="1.4949999999999999"/>
<line x1="426.0" y1="479.6" x2="431.9" y2="474.9" stroke-width="1.4949999999999999"/>
<path d="M395.6,568.8 C392.9,570.9 385.0,574.8 379.0,581.5 C372.9,588.2 364.3,599.8 359.4,608.9 C354.5,618.1 351.6,626.9 349.6,636.4 C347.6,645.8 347.1,654.3 347.6,665.8 C348.1,677.2 350.6,693.5 352.5,705.0 C354.5,716.4 356.6,726.8 359.4,734.3 C362.2,741.9 360.4,743.2 369.2,750.0 C378.0,756.9 404.0,769.9 412.3,775.5 C420.6,781.1 416.9,776.2 419.2,783.3 C421.4,790.5 423.9,813.4 426.0,818.6 C428.1,823.8 431.2,820.6 431.9,814.7 C432.6,808.8 431.0,789.5 430.3,783.3 C429.7,777.1 429.4,779.1 428.0,777.5 C426.6,775.8 424.3,778.1 422.1,773.5 C419.9,769.0 416.4,759.8 414.7,750.0 C413.0,740.2 412.1,727.2 411.9,714.8 C411.7,702.3 412.2,686.3 413.3,675.6 C414.3,664.8 415.7,657.3 418.2,650.1 C420.6,642.9 422.3,639.0 428.0,632.4 C433.7,625.9 447.9,616.8 452.5,610.9 C457.0,605.0 454.9,599.5 455.4,597.2" stroke-width="2.3" fill="#fcfcfc" />
<path d="M398.6,585.4 C395.3,589.3 383.9,600.4 379.0,608.9 C374.1,617.4 371.5,626.9 369.2,636.4 C366.9,645.8 365.8,654.3 365.3,665.8 C364.8,677.2 365.4,691.9 366.3,705.0 C367.1,718.0 369.5,737.6 370.2,744.1" stroke-width="1.7249999999999999" fill="none" />
<path d="M447.6,608.0 C443.3,611.7 428.0,623.8 422.1,630.5 C416.2,637.2 414.8,640.6 412.3,648.1 C409.9,655.6 408.5,664.5 407.4,675.6 C406.3,686.7 405.3,702.3 405.4,714.8 C405.6,727.2 406.6,739.6 408.4,750.0 C410.2,760.5 414.4,771.6 416.2,777.5 C418.0,783.3 418.7,784.0 419.2,785.3" stroke-width="2.3" fill="none" />
<path d="M432.9,804.9 L444.6,810.8 L443.7,815.7 L431.9,810.8" stroke-width="2.07" fill="none" />
<path d="M471.1,534.5 C473.7,534.2 480.9,532.2 486.8,532.9 C492.6,533.6 496.6,533.2 506.4,538.4 C516.2,543.5 537.7,556.5 545.6,563.9 C553.4,571.2 552.1,579.4 553.4,582.5" stroke-width="2.3" fill="#fcfcfc" />
<path d="M512.2,560.9 L523.0,566.8 L537.7,561.9 L546.5,579.5" stroke-width="2.07" fill="none" />
<path d="M527.9,570.1 L540.7,566.8 L547.9,581.1" stroke-width="1.7249999999999999" fill="none" />
<line x1="486.8" y1="537.4" x2="492.6" y2="538.4" stroke-width="1.4949999999999999"/>
<path d="M553.4,641.3 C553.2,647.0 553.7,665.6 552.4,675.6 C551.1,685.5 548.7,693.8 545.6,701.0 C542.5,708.2 535.9,709.9 533.8,718.7 C531.7,727.5 533.0,748.1 532.8,753.9" stroke-width="2.3" fill="none" />
<path d="M558.3,641.3 C558.1,647.0 558.6,665.3 557.3,675.6 C556.0,685.8 553.7,695.5 550.5,703.0 C547.2,710.5 540.0,712.1 537.7,720.6 C535.4,729.1 536.9,748.4 536.7,753.9" stroke-width="2.3" fill="none" />
<path d="M463.3,608.9 C462.3,612.9 461.3,623.6 457.4,632.4 C453.5,641.3 447.3,652.5 439.7,661.8 C432.2,671.2 416.9,683.9 412.3,688.3" stroke-width="2.3" fill="none" />
<path d="M465.6,614.8 C464.6,618.4 463.6,627.5 459.7,636.4 C455.8,645.2 450.0,658.1 442.1,667.7 C434.2,677.4 417.3,689.8 412.3,694.2" stroke-width="1.8399999999999999" fill="none" />
<path d="M480.9,628.5 C480.2,632.4 479.3,644.5 477.0,652.0 C474.7,659.6 476.6,664.1 467.2,673.6 C457.7,683.1 428.0,703.0 420.1,708.9" stroke-width="1.8399999999999999" fill="none" />
<line x1="473.1" y1="680.5" x2="526.0" y2="710.8" stroke-width="1.8399999999999999"/>
<path d="M427.0,736.3 L456.4,721.6 L526.0,718.3" stroke-width="1.8399999999999999" fill="none" />
<line x1="456.4" y1="722.6" x2="456.4" y2="753.9" stroke-width="1.8399999999999999"/>
<line x1="427.0" y1="736.3" x2="426.0" y2="771.6" stroke-width="2.07"/>
<path d="M428.0,769.6 L455.4,753.9 L514.2,755.9" stroke-width="2.07" fill="none" />
<path d="M514.2,750.0 L527.9,757.9 L533.8,755.9 L532.8,761.8 L527.9,764.7 L514.2,756.9 L514.2,750.0" stroke-width="2.07" fill="none" />
<line x1="527.9" y1="757.9" x2="527.9" y2="764.7" stroke-width="1.4949999999999999"/>
<path d="M384.9,615.8 L408.4,628.5" stroke-width="1.7249999999999999" fill="none" />
<path d="M559.3,635.4 L575.9,626.6 L578.9,628.5 L578.9,633.4 L562.2,641.3 L559.3,639.3 L559.3,635.4" stroke-width="2.07" fill="#fcfcfc" />
<line x1="562.2" y1="641.3" x2="562.2" y2="637.3" stroke-width="1.4949999999999999"/>
<path d="M394.7,566.8 C397.4,562.2 406.8,553.7 414.3,548.2 C421.8,542.6 433.5,536.4 439.7,533.5 C445.9,530.6 447.6,530.9 451.5,530.9 C455.4,530.9 457.4,530.9 463.3,533.5 C469.1,536.0 476.3,540.3 486.8,546.2 C497.2,552.1 512.9,561.4 526.0,568.8 C539.0,576.1 557.0,585.7 565.2,590.3 C573.3,594.9 572.0,592.9 575.0,596.2 C577.9,599.5 582.0,605.8 582.8,609.9 C583.6,614.0 584.9,616.3 579.9,620.7 C574.8,625.1 561.4,633.4 552.4,636.4 C543.4,639.4 532.0,639.2 526.0,638.7 C519.9,638.2 522.7,637.1 516.2,633.4 C509.6,629.8 496.2,622.2 486.8,616.8 C477.3,611.3 465.1,604.1 459.3,600.7 C453.6,597.3 454.0,597.2 452.5,596.6 C450.9,596.0 450.6,595.4 449.9,597.2 C449.3,599.0 450.3,606.5 448.6,607.4 C446.9,608.2 446.4,606.1 439.7,602.1 C433.0,598.0 415.4,587.4 408.4,583.1 C401.4,578.7 399.9,578.7 397.6,576.0 C395.3,573.3 391.9,571.4 394.7,566.8 Z" stroke-width="2.3" fill="#fcfcfc" />
<path d="M395.6,572.7 L447.6,606.0" stroke-width="1.7249999999999999" fill="none" />
<path d="M452.5,596.6 L452.5,605.0 L526.0,643.2" stroke-width="1.8399999999999999" fill="none" />
<path d="M526.0,643.2 C530.5,642.9 544.2,644.4 553.4,641.3 C562.6,638.2 576.6,627.4 581.2,624.6" stroke-width="1.8399999999999999" fill="none" />
<ellipse cx="429.9" cy="551.1" rx="17.2" ry="8.2" stroke-width="2.07" fill="none" transform="rotate(-18 429.9 551.1)" />
<ellipse cx="427.6" cy="556.0" rx="8.8" ry="3.3" stroke-width="1.8399999999999999" fill="none" transform="rotate(-5 427.6 556.0)" />
<line x1="512.2" y1="560.9" x2="515.2" y2="562.9" stroke-width="2.875"/>
<line x1="1954.0" y1="128.0" x2="1954.0" y2="201.0" stroke-width="1.7825"/>
<line x1="1805.0" y1="41.0" x2="1805.0" y2="73.0" stroke-width="1.7825"/>
<line x1="1670.5" y1="96.0" x2="1670.5" y2="165.0" stroke-width="1.7825"/>
<line x1="1063.0" y1="69.0" x2="1063.0" y2="151.0" stroke-width="1.7825"/>
<line x1="1150.0" y1="119.0" x2="1150.0" y2="187.0" stroke-width="1.7825"/>
<line x1="1236.6" y1="169.0" x2="1236.6" y2="229.0" stroke-width="1.7825"/>
<line x1="1297.0" y1="384.0" x2="1297.0" y2="411.0" stroke-width="1.7825"/>
<line x1="1542.0" y1="473.0" x2="1542.0" y2="526.0" stroke-width="1.7825"/>
<line x1="1392.4" y1="656.0" x2="1392.4" y2="696.0" stroke-width="1.7825"/>
<line x1="74.5" y1="302.0" x2="74.5" y2="409.0" stroke-width="1.7825"/>
<line x1="122.0" y1="330.0" x2="122.0" y2="430.0" stroke-width="1.7825"/>
<line x1="183.0" y1="366.0" x2="183.0" y2="469.0" stroke-width="1.7825"/>
<line x1="282.6" y1="423.0" x2="282.6" y2="503.0" stroke-width="1.7825"/>
<line x1="427.5" y1="418.0" x2="427.5" y2="471.0" stroke-width="1.7825"/>
<line x1="520.0" y1="473.0" x2="520.0" y2="546.0" stroke-width="1.7825"/>
<line x1="676.6" y1="651.0" x2="676.6" y2="705.0" stroke-width="1.7825"/>
<line x1="750.6" y1="606.0" x2="750.6" y2="640.0" stroke-width="1.7825"/>
<line x1="941.7" y1="803.5" x2="941.7" y2="860.6" stroke-width="1.7825"/>
<line x1="1011.0" y1="844.6" x2="1011.0" y2="947.5" stroke-width="1.7825"/>
<line x1="1138.0" y1="915.5" x2="1138.0" y2="997.8" stroke-width="1.7825"/>
<line x1="1232.0" y1="970.0" x2="1232.0" y2="1059.5" stroke-width="1.7825"/>
<line x1="1315.8" y1="1018.0" x2="1315.8" y2="1103.0" stroke-width="1.7825"/>
<line x1="1388.8" y1="1061.5" x2="1388.8" y2="1166.7" stroke-width="1.7825"/>
<line x1="1453.0" y1="1098.0" x2="1453.0" y2="1189.5" stroke-width="1.7825"/>
<line x1="237.8" y1="906.0" x2="237.8" y2="943.0" stroke-width="1.7825"/>
<line x1="227.7" y1="1180.7" x2="227.7" y2="1215.0" stroke-width="1.7825"/>
<line x1="364.4" y1="979.5" x2="364.4" y2="1098.4" stroke-width="1.7825"/>
<line x1="484.7" y1="1048.0" x2="484.7" y2="1123.5" stroke-width="1.7825"/>
<line x1="584.4" y1="1105.0" x2="584.4" y2="1174.0" stroke-width="1.7825"/>
<line x1="667.6" y1="1153.0" x2="667.6" y2="1228.7" stroke-width="1.7825"/>
<line x1="770.0" y1="1212.7" x2="770.3" y2="1316.0" stroke-width="1.7825"/>
<line x1="826.0" y1="1244.7" x2="826.0" y2="1293.0" stroke-width="1.7825"/>
<line x1="990.6" y1="1340.0" x2="990.6" y2="1417.0" stroke-width="1.7825"/>
<line x1="1128.7" y1="1420.0" x2="1128.7" y2="1485.5" stroke-width="1.7825"/>
<line x1="1211.5" y1="1467.0" x2="1211.5" y2="1524.0" stroke-width="1.7825"/>
<line x1="1289.0" y1="1513.0" x2="1289.0" y2="1574.6" stroke-width="1.7825"/>
<line x1="1358.0" y1="1551.8" x2="1358.0" y2="1668.4" stroke-width="1.7825"/>
<line x1="1408.0" y1="1581.5" x2="1408.0" y2="1682.0" stroke-width="1.7825"/>
<line x1="1488.0" y1="1627.0" x2="1488.0" y2="1737.0" stroke-width="1.7825"/>
<line x1="991.6" y1="1588.0" x2="991.6" y2="1647.8" stroke-width="1.7825"/>
<line x1="234.0" y1="1411.0" x2="234.0" y2="1474.0" stroke-width="1.7825"/>
<line x1="362.6" y1="1485.5" x2="362.6" y2="1542.6" stroke-width="1.7825"/>
<line x1="503.0" y1="1565.5" x2="503.0" y2="1615.8" stroke-width="1.7825"/>
<line x1="678.0" y1="1668.0" x2="678.0" y2="1732.0" stroke-width="1.7825"/>
<line x1="755.0" y1="1711.8" x2="755.0" y2="1796.4" stroke-width="1.7825"/>
<line x1="841.0" y1="1762.0" x2="841.0" y2="1833.0" stroke-width="1.7825"/>
<line x1="991.6" y1="1849.0" x2="991.6" y2="1899.0" stroke-width="1.7825"/>
<line x1="1099.0" y1="1908.4" x2="1099.0" y2="1977.7" stroke-width="1.7825"/>
<line x1="1243.5" y1="1991.4" x2="1243.5" y2="2039.5" stroke-width="1.7825"/>
<line x1="1498.5" y1="2140.0" x2="1498.5" y2="2170.0" stroke-width="1.7825"/>
<line x1="1766.5" y1="2294.0" x2="1766.5" y2="2380.0" stroke-width="1.7825"/>
<line x1="1304.0" y1="2938.5" x2="1304.0" y2="2972.8" stroke-width="1.7825"/>
<line x1="782.6" y1="2103.5" x2="890.0" y2="2160.6" stroke-width="1.7825"/>
<line x1="830.6" y1="2220.0" x2="887.8" y2="2252.0" stroke-width="1.7825"/>
<line x1="791.7" y1="2340.0" x2="887.8" y2="2393.8" stroke-width="1.7825"/>
<line x1="764.0" y1="2432.7" x2="796.0" y2="2448.7" stroke-width="1.7825"/>
<line x1="817.0" y1="2554.5" x2="887.8" y2="2595.6" stroke-width="1.7825"/>
<line x1="817.0" y1="2684.8" x2="887.8" y2="2723.6" stroke-width="1.7825"/>
<line x1="521.0" y1="2452.0" x2="521.0" y2="2519.6" stroke-width="1.7825"/>
<line x1="624.0" y1="2511.5" x2="624.0" y2="2609.0" stroke-width="1.7825"/>
<line x1="666.7" y1="2778.5" x2="666.7" y2="2849.4" stroke-width="1.7825"/>
<line x1="452.7" y1="2694.0" x2="452.7" y2="2723.6" stroke-width="1.7825"/>
<line x1="279.8" y1="2313.0" x2="279.8" y2="2377.8" stroke-width="1.7825"/>
<line x1="103.8" y1="2776.0" x2="103.8" y2="2828.8" stroke-width="1.7825"/>
<line x1="679.0" y1="1961.7" x2="679.0" y2="2032.6" stroke-width="1.7825"/>
<g style="filter:grayscale(1)">
<text x="1944.9" y="114.0" textLength="18.2" lengthAdjust="spacingAndGlyphs">1</text>
<text x="1795.9" y="30.0" textLength="18.2" lengthAdjust="spacingAndGlyphs">2</text>
<text x="1661.4" y="82.0" textLength="18.2" lengthAdjust="spacingAndGlyphs">4</text>
<text x="1053.9" y="55.0" textLength="18.2" lengthAdjust="spacingAndGlyphs">5</text>
<text x="1141.6" y="106.0" textLength="18.2" lengthAdjust="spacingAndGlyphs">6</text>
<text x="1227.5" y="155.5" textLength="18.2" lengthAdjust="spacingAndGlyphs">7</text>
<text x="1286.9" y="370.0" textLength="18.2" lengthAdjust="spacingAndGlyphs">8</text>
<text x="1522.8" y="457.0" textLength="36.4" lengthAdjust="spacingAndGlyphs">11</text>
<text x="1374.2" y="642.4" textLength="36.4" lengthAdjust="spacingAndGlyphs">12</text>
<text x="57.8" y="290.0" textLength="36.4" lengthAdjust="spacingAndGlyphs">14</text>
<text x="104.3" y="315.5" textLength="36.4" lengthAdjust="spacingAndGlyphs">15</text>
<text x="166.8" y="352.0" textLength="36.4" lengthAdjust="spacingAndGlyphs">16</text>
<text x="265.8" y="409.0" textLength="36.4" lengthAdjust="spacingAndGlyphs">17</text>
<text x="409.8" y="405.6" textLength="36.4" lengthAdjust="spacingAndGlyphs">18</text>
<text x="502.8" y="458.6" textLength="36.4" lengthAdjust="spacingAndGlyphs">19</text>
<text x="658.8" y="637.0" textLength="36.4" lengthAdjust="spacingAndGlyphs">20</text>
<text x="731.8" y="593.0" textLength="36.4" lengthAdjust="spacingAndGlyphs">21</text>
<text x="923.5" y="790.0" textLength="36.4" lengthAdjust="spacingAndGlyphs">22</text>
<text x="992.8" y="828.6" textLength="36.4" lengthAdjust="spacingAndGlyphs">23</text>
<text x="1119.8" y="902.7" textLength="36.4" lengthAdjust="spacingAndGlyphs">24</text>
<text x="1213.4" y="956.7" textLength="36.4" lengthAdjust="spacingAndGlyphs">25</text>
<text x="1297.8" y="1004.7" textLength="36.4" lengthAdjust="spacingAndGlyphs">26</text>
<text x="1369.8" y="1047.8" textLength="36.4" lengthAdjust="spacingAndGlyphs">27</text>
<text x="1434.8" y="1084.4" textLength="36.4" lengthAdjust="spacingAndGlyphs">28</text>
<text x="219.6" y="892.6" textLength="36.4" lengthAdjust="spacingAndGlyphs">29</text>
<text x="210.4" y="1249.0" textLength="36.4" lengthAdjust="spacingAndGlyphs">30</text>
<text x="344.4" y="965.8" textLength="36.4" lengthAdjust="spacingAndGlyphs">31</text>
<text x="466.5" y="1034.4" textLength="36.4" lengthAdjust="spacingAndGlyphs">32</text>
<text x="565.8" y="1091.5" textLength="36.4" lengthAdjust="spacingAndGlyphs">33</text>
<text x="647.1" y="1139.6" textLength="36.4" lengthAdjust="spacingAndGlyphs">71</text>
<text x="751.6" y="1198.0" textLength="36.4" lengthAdjust="spacingAndGlyphs">34</text>
<text x="807.8" y="1231.0" textLength="36.4" lengthAdjust="spacingAndGlyphs">35</text>
<text x="973.4" y="1325.4" textLength="36.4" lengthAdjust="spacingAndGlyphs">36</text>
<text x="1109.6" y="1405.5" textLength="36.4" lengthAdjust="spacingAndGlyphs">37</text>
<text x="1193.3" y="1452.6" textLength="36.4" lengthAdjust="spacingAndGlyphs">38</text>
<text x="1270.8" y="1499.0" textLength="36.4" lengthAdjust="spacingAndGlyphs">39</text>
<text x="1339.5" y="1538.0" textLength="36.4" lengthAdjust="spacingAndGlyphs">40</text>
<text x="1387.8" y="1567.8" textLength="36.4" lengthAdjust="spacingAndGlyphs">41</text>
<text x="1469.4" y="1613.5" textLength="36.4" lengthAdjust="spacingAndGlyphs">42</text>
<text x="972.4" y="1692.6" textLength="36.4" lengthAdjust="spacingAndGlyphs">43</text>
<text x="214.8" y="1397.0" textLength="36.4" lengthAdjust="spacingAndGlyphs">44</text>
<text x="342.8" y="1471.8" textLength="36.4" lengthAdjust="spacingAndGlyphs">45</text>
<text x="484.8" y="1551.8" textLength="36.4" lengthAdjust="spacingAndGlyphs">46</text>
<text x="659.3" y="1654.7" textLength="36.4" lengthAdjust="spacingAndGlyphs">47</text>
<text x="736.8" y="1695.8" textLength="36.4" lengthAdjust="spacingAndGlyphs">48</text>
<text x="822.8" y="1746.0" textLength="36.4" lengthAdjust="spacingAndGlyphs">49</text>
<text x="973.8" y="1833.0" textLength="36.4" lengthAdjust="spacingAndGlyphs">50</text>
<text x="1079.8" y="1894.7" textLength="36.4" lengthAdjust="spacingAndGlyphs">51</text>
<text x="1224.8" y="1977.7" textLength="36.4" lengthAdjust="spacingAndGlyphs">52</text>
<text x="1479.4" y="2126.0" textLength="36.4" lengthAdjust="spacingAndGlyphs">53</text>
<text x="1747.8" y="2279.5" textLength="36.4" lengthAdjust="spacingAndGlyphs">54</text>
<text x="1285.8" y="2922.5" textLength="36.4" lengthAdjust="spacingAndGlyphs">56</text>
<text x="894.8" y="2188.0" textLength="36.4" lengthAdjust="spacingAndGlyphs">58</text>
<text x="894.8" y="2279.5" textLength="36.4" lengthAdjust="spacingAndGlyphs">59</text>
<text x="894.8" y="2421.0" textLength="36.4" lengthAdjust="spacingAndGlyphs">60</text>
<text x="798.8" y="2476.0" textLength="36.4" lengthAdjust="spacingAndGlyphs">61</text>
<text x="893.8" y="2623.0" textLength="36.4" lengthAdjust="spacingAndGlyphs">62</text>
<text x="893.8" y="2751.0" textLength="36.4" lengthAdjust="spacingAndGlyphs">63</text>
<text x="502.8" y="2437.0" textLength="36.4" lengthAdjust="spacingAndGlyphs">64</text>
<text x="604.8" y="2496.5" textLength="36.4" lengthAdjust="spacingAndGlyphs">65</text>
<text x="648.5" y="2879.0" textLength="36.4" lengthAdjust="spacingAndGlyphs">66</text>
<text x="433.6" y="2755.6" textLength="36.4" lengthAdjust="spacingAndGlyphs">67</text>
<text x="261.6" y="2297.8" textLength="36.4" lengthAdjust="spacingAndGlyphs">68</text>
<text x="85.8" y="2761.6" textLength="36.4" lengthAdjust="spacingAndGlyphs">70</text>
<text x="660.8" y="2064.6" textLength="36.4" lengthAdjust="spacingAndGlyphs">72</text>
</g>
</svg>
</body></html>
